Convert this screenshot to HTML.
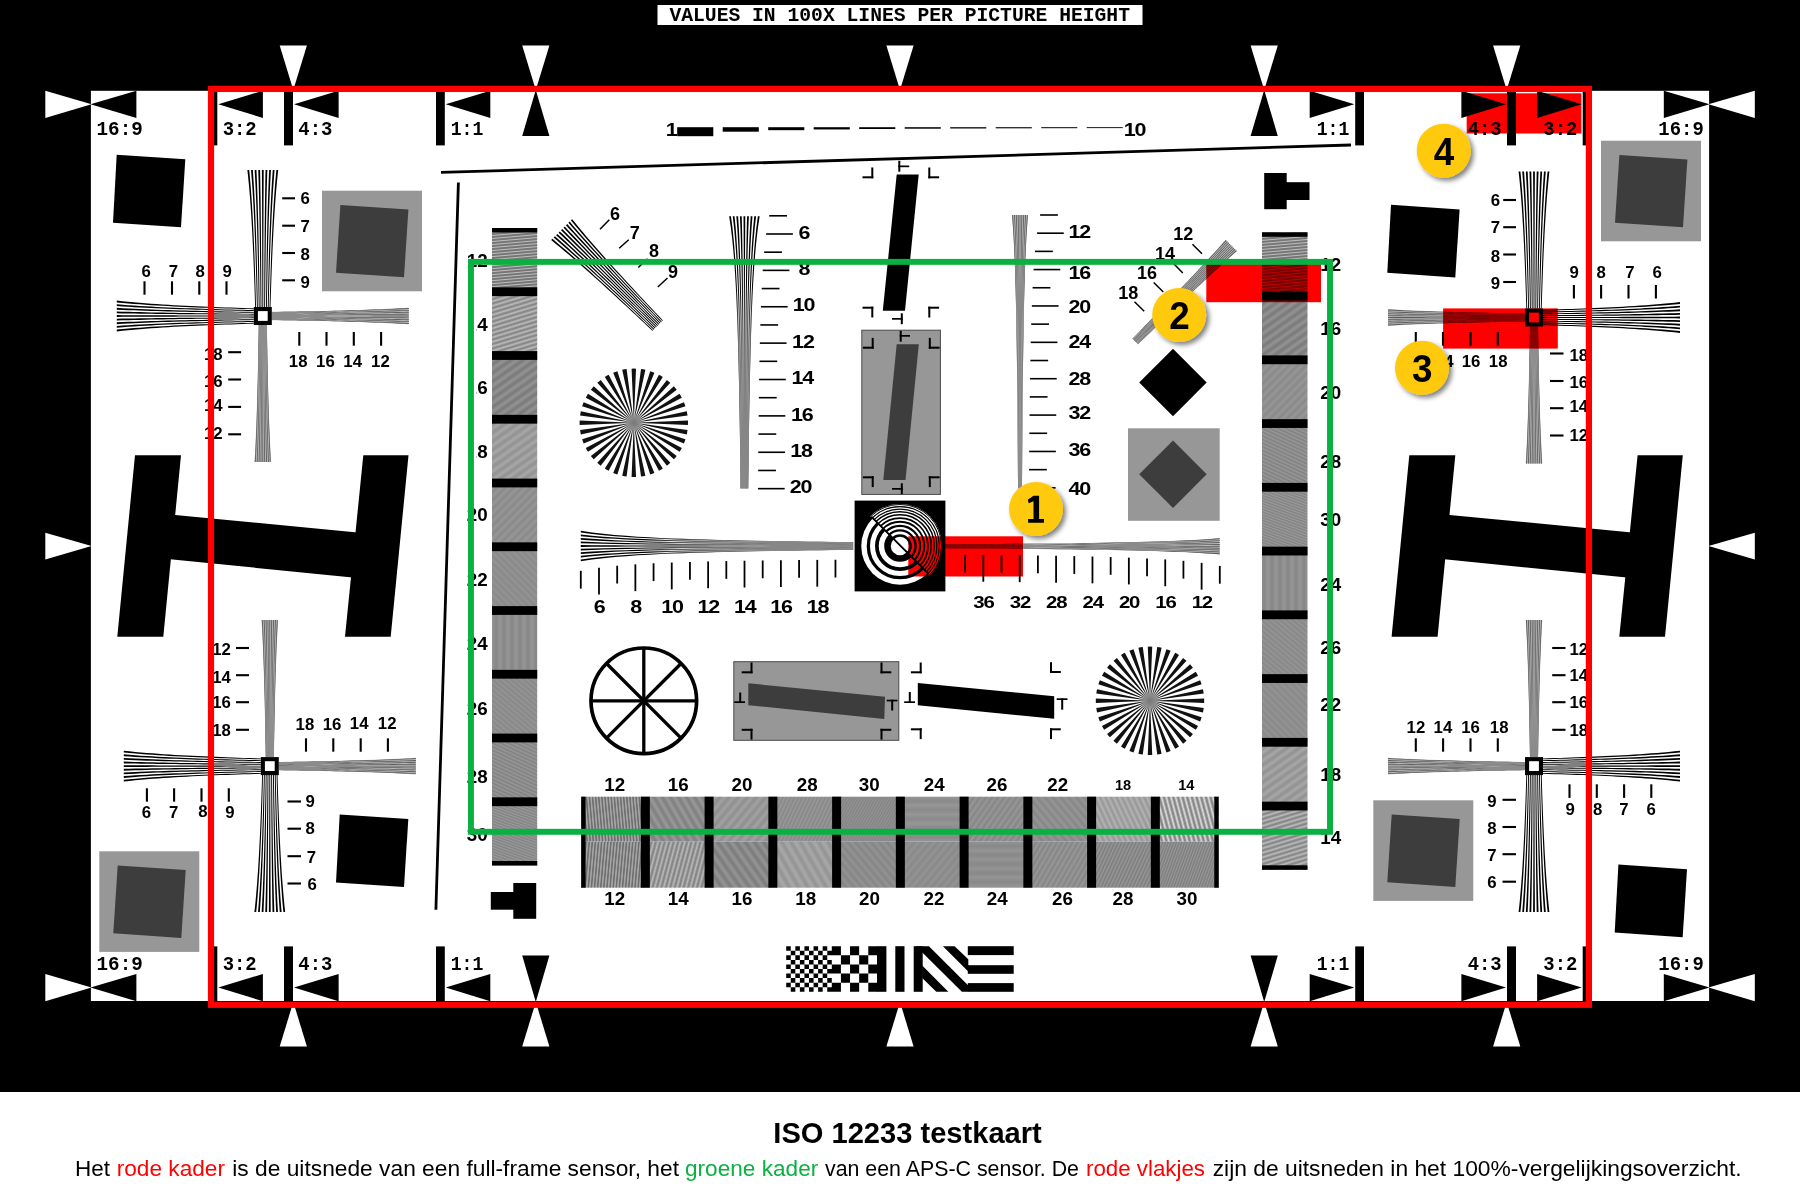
<!DOCTYPE html>
<html>
<head>
<meta charset="utf-8">
<title>ISO 12233 testkaart</title>
<style>
html,body{margin:0;padding:0;background:#fff;}
body{width:1800px;height:1200px;overflow:hidden;font-family:"Liberation Sans",sans-serif;}
svg{display:block;position:absolute;left:0;top:0;}
.n{font-family:"Liberation Sans",sans-serif;font-weight:bold;fill:#000;}
.m{font-family:"Liberation Mono",monospace;font-weight:bold;fill:#000;}
.c{font-family:"Liberation Sans",sans-serif;fill:#000;}
.mul{mix-blend-mode:multiply;}
</style>
</head>
<body>
<svg width="1800" height="1200" viewBox="0 0 1800 1200">
<defs>
<filter id="sh" x="-30%" y="-30%" width="170%" height="170%"><feGaussianBlur in="SourceAlpha" stdDeviation="2.6"/><feOffset dx="2.6" dy="2.6" result="o"/><feComponentTransfer><feFuncA type="linear" slope="0.5"/></feComponentTransfer><feMerge><feMergeNode/><feMergeNode in="SourceGraphic"/></feMerge></filter>
<radialGradient id="sc"><stop offset="0" stop-color="#777"/><stop offset="0.55" stop-color="#8c8c8c"/><stop offset="1" stop-color="#8c8c8c" stop-opacity="0"/></radialGradient>
<linearGradient id="gv" gradientUnits="userSpaceOnUse" x1="0" y1="216" x2="0" y2="489"><stop offset="0.3" stop-color="#000"/><stop offset="0.6" stop-color="#1c1c1c"/></linearGradient>
<linearGradient id="gh" gradientUnits="userSpaceOnUse" x1="580" y1="0" x2="854" y2="0"><stop offset="0.3" stop-color="#000"/><stop offset="0.6" stop-color="#1c1c1c"/></linearGradient>
<linearGradient id="ov" gradientUnits="userSpaceOnUse" x1="0" y1="216" x2="0" y2="489"><stop offset="0.25" stop-color="#858585" stop-opacity="0"/><stop offset="0.5" stop-color="#858585" stop-opacity="0.75"/><stop offset="1" stop-color="#858585" stop-opacity="0.85"/></linearGradient>
<linearGradient id="oh" gradientUnits="userSpaceOnUse" x1="580" y1="0" x2="854" y2="0"><stop offset="0.25" stop-color="#858585" stop-opacity="0"/><stop offset="0.5" stop-color="#858585" stop-opacity="0.75"/><stop offset="1" stop-color="#858585" stop-opacity="0.85"/></linearGradient>
<linearGradient id="gh12" x1="0" y1="0" x2="0" y2="1"><stop offset="0" stop-color="#525252"/><stop offset="0.5" stop-color="#bebebe"/><stop offset="1" stop-color="#525252"/></linearGradient>
<linearGradient id="gh14" x1="0" y1="0" x2="0" y2="1"><stop offset="0" stop-color="#7b7b7b"/><stop offset="0.5" stop-color="#bdbdbd"/><stop offset="1" stop-color="#7b7b7b"/></linearGradient>
<linearGradient id="gh16" x1="0" y1="0" x2="0" y2="1"><stop offset="0" stop-color="#787878"/><stop offset="0.5" stop-color="#949494"/><stop offset="1" stop-color="#787878"/></linearGradient>
<linearGradient id="gh18" x1="0" y1="0" x2="0" y2="1"><stop offset="0" stop-color="#909090"/><stop offset="0.5" stop-color="#a8a8a8"/><stop offset="1" stop-color="#909090"/></linearGradient>
<linearGradient id="gh20" x1="0" y1="0" x2="0" y2="1"><stop offset="0" stop-color="#888888"/><stop offset="0.5" stop-color="#989898"/><stop offset="1" stop-color="#888888"/></linearGradient>
<linearGradient id="gh22" x1="0" y1="0" x2="0" y2="1"><stop offset="0" stop-color="#888888"/><stop offset="0.5" stop-color="#949494"/><stop offset="1" stop-color="#888888"/></linearGradient>
<linearGradient id="gh24" x1="0" y1="0" x2="0" y2="1"><stop offset="0" stop-color="#868686"/><stop offset="0.5" stop-color="#969696"/><stop offset="1" stop-color="#868686"/></linearGradient>
<linearGradient id="gh26" x1="0" y1="0" x2="0" y2="1"><stop offset="0" stop-color="#858585"/><stop offset="0.5" stop-color="#979797"/><stop offset="1" stop-color="#858585"/></linearGradient>
<linearGradient id="gh28" x1="0" y1="0" x2="0" y2="1"><stop offset="0" stop-color="#7d7d7d"/><stop offset="0.5" stop-color="#9b9b9b"/><stop offset="1" stop-color="#7d7d7d"/></linearGradient>
<linearGradient id="gh30" x1="0" y1="0" x2="0" y2="1"><stop offset="0" stop-color="#7d7d7d"/><stop offset="0.5" stop-color="#9b9b9b"/><stop offset="1" stop-color="#7d7d7d"/></linearGradient>
<linearGradient id="gv12" x1="0" y1="0" x2="0" y2="1"><stop offset="0" stop-color="#545454"/><stop offset="0.5" stop-color="#c0c0c0"/><stop offset="1" stop-color="#545454"/></linearGradient>
<linearGradient id="gv14" x1="0" y1="0" x2="0" y2="1"><stop offset="0" stop-color="#797979"/><stop offset="0.5" stop-color="#bbbbbb"/><stop offset="1" stop-color="#797979"/></linearGradient>
<linearGradient id="gv16" x1="0" y1="0" x2="0" y2="1"><stop offset="0" stop-color="#7a7a7a"/><stop offset="0.5" stop-color="#969696"/><stop offset="1" stop-color="#7a7a7a"/></linearGradient>
<linearGradient id="gv18" x1="0" y1="0" x2="0" y2="1"><stop offset="0" stop-color="#929292"/><stop offset="0.5" stop-color="#aaaaaa"/><stop offset="1" stop-color="#929292"/></linearGradient>
<linearGradient id="gv20" x1="0" y1="0" x2="0" y2="1"><stop offset="0" stop-color="#848484"/><stop offset="0.5" stop-color="#949494"/><stop offset="1" stop-color="#848484"/></linearGradient>
<linearGradient id="gv22" x1="0" y1="0" x2="0" y2="1"><stop offset="0" stop-color="#888888"/><stop offset="0.5" stop-color="#949494"/><stop offset="1" stop-color="#888888"/></linearGradient>
<linearGradient id="gv24" x1="0" y1="0" x2="0" y2="1"><stop offset="0" stop-color="#888888"/><stop offset="0.5" stop-color="#949494"/><stop offset="1" stop-color="#888888"/></linearGradient>
<linearGradient id="gv26" x1="0" y1="0" x2="0" y2="1"><stop offset="0" stop-color="#848484"/><stop offset="0.5" stop-color="#989898"/><stop offset="1" stop-color="#848484"/></linearGradient>
<linearGradient id="gv28" x1="0" y1="0" x2="0" y2="1"><stop offset="0" stop-color="#787878"/><stop offset="0.5" stop-color="#9c9c9c"/><stop offset="1" stop-color="#787878"/></linearGradient>
<linearGradient id="gv30" x1="0" y1="0" x2="0" y2="1"><stop offset="0" stop-color="#767676"/><stop offset="0.5" stop-color="#9a9a9a"/><stop offset="1" stop-color="#767676"/></linearGradient>
<linearGradient id="gt12" x1="0" y1="0" x2="0" y2="1"><stop offset="0" stop-color="#545454"/><stop offset="0.5" stop-color="#c0c0c0"/><stop offset="1" stop-color="#545454"/></linearGradient>
<linearGradient id="gt16" x1="0" y1="0" x2="0" y2="1"><stop offset="0" stop-color="#7e7e7e"/><stop offset="0.5" stop-color="#9a9a9a"/><stop offset="1" stop-color="#7e7e7e"/></linearGradient>
<linearGradient id="gt20" x1="0" y1="0" x2="0" y2="1"><stop offset="0" stop-color="#8e8e8e"/><stop offset="0.5" stop-color="#a2a2a2"/><stop offset="1" stop-color="#8e8e8e"/></linearGradient>
<linearGradient id="gt28" x1="0" y1="0" x2="0" y2="1"><stop offset="0" stop-color="#848484"/><stop offset="0.5" stop-color="#9c9c9c"/><stop offset="1" stop-color="#848484"/></linearGradient>
<linearGradient id="gt30" x1="0" y1="0" x2="0" y2="1"><stop offset="0" stop-color="#808080"/><stop offset="0.5" stop-color="#949494"/><stop offset="1" stop-color="#808080"/></linearGradient>
<linearGradient id="gt24" x1="0" y1="0" x2="0" y2="1"><stop offset="0" stop-color="#8a8a8a"/><stop offset="0.5" stop-color="#969696"/><stop offset="1" stop-color="#8a8a8a"/></linearGradient>
<linearGradient id="gt26" x1="0" y1="0" x2="0" y2="1"><stop offset="0" stop-color="#858585"/><stop offset="0.5" stop-color="#979797"/><stop offset="1" stop-color="#858585"/></linearGradient>
<linearGradient id="gt22" x1="0" y1="0" x2="0" y2="1"><stop offset="0" stop-color="#858585"/><stop offset="0.5" stop-color="#979797"/><stop offset="1" stop-color="#858585"/></linearGradient>
<linearGradient id="gt18" x1="0" y1="0" x2="0" y2="1"><stop offset="0" stop-color="#949494"/><stop offset="0.5" stop-color="#b4b4b4"/><stop offset="1" stop-color="#949494"/></linearGradient>
<linearGradient id="gt14" x1="0" y1="0" x2="0" y2="1"><stop offset="0" stop-color="#727272"/><stop offset="0.5" stop-color="#dedede"/><stop offset="1" stop-color="#727272"/></linearGradient>
<pattern id="h12" width="18" height="3" patternUnits="userSpaceOnUse" patternTransform="rotate(-5)"><rect width="18" height="3" fill="url(#gh12)"/></pattern>
<pattern id="h14" width="25.8" height="4.3" patternUnits="userSpaceOnUse" patternTransform="rotate(-17)"><rect width="25.8" height="4.3" fill="url(#gh14)"/></pattern>
<pattern id="h16" width="42" height="7" patternUnits="userSpaceOnUse" patternTransform="rotate(-35)"><rect width="42" height="7" fill="url(#gh16)"/></pattern>
<pattern id="h18" width="42" height="7" patternUnits="userSpaceOnUse" patternTransform="rotate(-35)"><rect width="42" height="7" fill="url(#gh18)"/></pattern>
<pattern id="h20" width="36" height="6" patternUnits="userSpaceOnUse" patternTransform="rotate(-45)"><rect width="36" height="6" fill="url(#gh20)"/></pattern>
<pattern id="h22" width="30" height="5" patternUnits="userSpaceOnUse" patternTransform="rotate(45)"><rect width="30" height="5" fill="url(#gh22)"/></pattern>
<pattern id="h24" width="48" height="8" patternUnits="userSpaceOnUse" patternTransform="rotate(90)"><rect width="48" height="8" fill="url(#gh24)"/></pattern>
<pattern id="h26" width="24" height="4" patternUnits="userSpaceOnUse" patternTransform="rotate(40)"><rect width="24" height="4" fill="url(#gh26)"/></pattern>
<pattern id="h28" width="19.8" height="3.3" patternUnits="userSpaceOnUse" patternTransform="rotate(25)"><rect width="19.8" height="3.3" fill="url(#gh28)"/></pattern>
<pattern id="h30" width="15.6" height="2.6" patternUnits="userSpaceOnUse" patternTransform="rotate(20)"><rect width="15.6" height="2.6" fill="url(#gh30)"/></pattern>
<pattern id="v12" width="18.6" height="3.1" patternUnits="userSpaceOnUse" patternTransform="rotate(95)"><rect width="18.6" height="3.1" fill="url(#gv12)"/></pattern>
<pattern id="v14" width="25.8" height="4.3" patternUnits="userSpaceOnUse" patternTransform="rotate(105)"><rect width="25.8" height="4.3" fill="url(#gv14)"/></pattern>
<pattern id="v16" width="45" height="7.5" patternUnits="userSpaceOnUse" patternTransform="rotate(55)"><rect width="45" height="7.5" fill="url(#gv16)"/></pattern>
<pattern id="v18" width="48" height="8" patternUnits="userSpaceOnUse" patternTransform="rotate(60)"><rect width="48" height="8" fill="url(#gv18)"/></pattern>
<pattern id="v20" width="36" height="6" patternUnits="userSpaceOnUse" patternTransform="rotate(50)"><rect width="36" height="6" fill="url(#gv20)"/></pattern>
<pattern id="v22" width="36" height="6" patternUnits="userSpaceOnUse" patternTransform="rotate(130)"><rect width="36" height="6" fill="url(#gv22)"/></pattern>
<pattern id="v24" width="54" height="9" patternUnits="userSpaceOnUse" patternTransform="rotate(0)"><rect width="54" height="9" fill="url(#gv24)"/></pattern>
<pattern id="v26" width="27" height="4.5" patternUnits="userSpaceOnUse" patternTransform="rotate(120)"><rect width="27" height="4.5" fill="url(#gv26)"/></pattern>
<pattern id="v28" width="19.2" height="3.2" patternUnits="userSpaceOnUse" patternTransform="rotate(115)"><rect width="19.2" height="3.2" fill="url(#gv28)"/></pattern>
<pattern id="v30" width="15.6" height="2.6" patternUnits="userSpaceOnUse" patternTransform="rotate(110)"><rect width="15.6" height="2.6" fill="url(#gv30)"/></pattern>
<pattern id="t12" width="18.6" height="3.1" patternUnits="userSpaceOnUse" patternTransform="rotate(85)"><rect width="18.6" height="3.1" fill="url(#gt12)"/></pattern>
<pattern id="t16" width="42" height="7" patternUnits="userSpaceOnUse" patternTransform="rotate(60)"><rect width="42" height="7" fill="url(#gt16)"/></pattern>
<pattern id="t20" width="42" height="7" patternUnits="userSpaceOnUse" patternTransform="rotate(130)"><rect width="42" height="7" fill="url(#gt20)"/></pattern>
<pattern id="t28" width="21" height="3.5" patternUnits="userSpaceOnUse" patternTransform="rotate(115)"><rect width="21" height="3.5" fill="url(#gt28)"/></pattern>
<pattern id="t30" width="15" height="2.5" patternUnits="userSpaceOnUse" patternTransform="rotate(120)"><rect width="15" height="2.5" fill="url(#gt30)"/></pattern>
<pattern id="t24" width="54" height="9" patternUnits="userSpaceOnUse" patternTransform="rotate(0)"><rect width="54" height="9" fill="url(#gt24)"/></pattern>
<pattern id="t26" width="30" height="5" patternUnits="userSpaceOnUse" patternTransform="rotate(125)"><rect width="30" height="5" fill="url(#gt26)"/></pattern>
<pattern id="t22" width="36" height="6" patternUnits="userSpaceOnUse" patternTransform="rotate(50)"><rect width="36" height="6" fill="url(#gt22)"/></pattern>
<pattern id="t18" width="30" height="5" patternUnits="userSpaceOnUse" patternTransform="rotate(65)"><rect width="30" height="5" fill="url(#gt18)"/></pattern>
<pattern id="t14" width="27" height="4.5" patternUnits="userSpaceOnUse" patternTransform="rotate(75)"><rect width="27" height="4.5" fill="url(#gt14)"/></pattern>
</defs>
<rect x="0" y="0" width="1800" height="1092" fill="#000"/>
<rect x="90.9" y="90.8" width="1618.2" height="910.2" fill="#fff"/>
<rect x="657.5" y="5" width="485" height="20" fill="#fff"/>
<text x="669.4" y="21.4" font-size="20" text-anchor="start" class="m" textLength="460.6" lengthAdjust="spacingAndGlyphs">VALUES IN 100X LINES PER PICTURE HEIGHT</text>
<polygon points="279.7,45.5 306.9,45.5 293.3,90" fill="#fff"/>
<polygon points="279.7,1046.6 306.9,1046.6 293.3,1002" fill="#fff"/>
<polygon points="522.2,45.5 549.4,45.5 535.8,90" fill="#fff"/>
<polygon points="522.2,1046.6 549.4,1046.6 535.8,1002" fill="#fff"/>
<polygon points="886.4,45.5 913.6,45.5 900,90" fill="#fff"/>
<polygon points="886.4,1046.6 913.6,1046.6 900,1002" fill="#fff"/>
<polygon points="1250.6,45.5 1277.8,45.5 1264.2,90" fill="#fff"/>
<polygon points="1250.6,1046.6 1277.8,1046.6 1264.2,1002" fill="#fff"/>
<polygon points="1493.1,45.5 1520.3,45.5 1506.7,90" fill="#fff"/>
<polygon points="1493.1,1046.6 1520.3,1046.6 1506.7,1002" fill="#fff"/>
<polygon points="535.8,90 549.4,136 522.2,136" fill="#000"/>
<polygon points="535.8,1002 549.4,955.4 522.2,955.4" fill="#000"/>
<polygon points="1264.2,90 1277.8,136 1250.6,136" fill="#000"/>
<polygon points="1264.2,1002 1277.8,955.4 1250.6,955.4" fill="#000"/>
<polygon points="45.3,532.7 45.3,559.5 91.5,546.1" fill="#fff"/>
<polygon points="1754.8,532.7 1754.8,559.5 1708.5,546.1" fill="#fff"/>
<polygon points="45.3,90.7 45.3,117.9 91.5,104.3" fill="#fff"/>
<polygon points="136.4,90.7 136.4,117.9 90.5,104.3" fill="#000"/>
<polygon points="1754.8,90.7 1754.8,117.9 1708.5,104.3" fill="#fff"/>
<polygon points="1663.8,90.7 1663.8,117.9 1709.5,104.3" fill="#000"/>
<polygon points="45.3,974 45.3,1001.2 91.5,987.6" fill="#fff"/>
<polygon points="136.4,974 136.4,1001.2 90.5,987.6" fill="#000"/>
<polygon points="1754.8,974 1754.8,1001.2 1708.5,987.6" fill="#fff"/>
<polygon points="1663.8,974 1663.8,1001.2 1709.5,987.6" fill="#000"/>
<rect x="213.3" y="91" width="4" height="54.4" fill="#000"/>
<polygon points="218.3,104.3 262.9,90.7 262.9,117.9" fill="#000"/>
<text x="222.7" y="135.2" font-size="20" text-anchor="start" class="m" textLength="34" lengthAdjust="spacingAndGlyphs">3:2</text>
<rect x="1582.7" y="91" width="4" height="54.4" fill="#000"/>
<polygon points="1581.7,104.3 1537.1,90.7 1537.1,117.9" fill="#000"/>
<text x="1543.3" y="135.2" font-size="20" text-anchor="start" class="m" textLength="34" lengthAdjust="spacingAndGlyphs">3:2</text>
<rect x="213.3" y="946.4" width="4" height="54.6" fill="#000"/>
<polygon points="218.3,987.6 262.9,974 262.9,1001.2" fill="#000"/>
<text x="222.7" y="969.9" font-size="20" text-anchor="start" class="m" textLength="34" lengthAdjust="spacingAndGlyphs">3:2</text>
<rect x="1582.7" y="946.4" width="4" height="54.6" fill="#000"/>
<polygon points="1581.7,987.6 1537.1,974 1537.1,1001.2" fill="#000"/>
<text x="1543.3" y="969.9" font-size="20" text-anchor="start" class="m" textLength="34" lengthAdjust="spacingAndGlyphs">3:2</text>
<rect x="284" y="91" width="9" height="54.4" fill="#000"/>
<polygon points="294,104.3 338.6,90.7 338.6,117.9" fill="#000"/>
<text x="298.3" y="135.2" font-size="20" text-anchor="start" class="m" textLength="34" lengthAdjust="spacingAndGlyphs">4:3</text>
<rect x="1507" y="91" width="9" height="54.4" fill="#000"/>
<polygon points="1506,104.3 1461.4,90.7 1461.4,117.9" fill="#000"/>
<text x="1467.7" y="135.2" font-size="20" text-anchor="start" class="m" textLength="34" lengthAdjust="spacingAndGlyphs">4:3</text>
<rect x="284" y="946.4" width="9" height="54.6" fill="#000"/>
<polygon points="294,987.6 338.6,974 338.6,1001.2" fill="#000"/>
<text x="298.3" y="969.9" font-size="20" text-anchor="start" class="m" textLength="34" lengthAdjust="spacingAndGlyphs">4:3</text>
<rect x="1507" y="946.4" width="9" height="54.6" fill="#000"/>
<polygon points="1506,987.6 1461.4,974 1461.4,1001.2" fill="#000"/>
<text x="1467.7" y="969.9" font-size="20" text-anchor="start" class="m" textLength="34" lengthAdjust="spacingAndGlyphs">4:3</text>
<rect x="436" y="91" width="8.8" height="54.4" fill="#000"/>
<polygon points="445.7,104.3 490.3,90.7 490.3,117.9" fill="#000"/>
<text x="450.7" y="135.2" font-size="20" text-anchor="start" class="m" textLength="32.6" lengthAdjust="spacingAndGlyphs">1:1</text>
<rect x="1355.2" y="91" width="8.8" height="54.4" fill="#000"/>
<polygon points="1354.3,104.3 1309.7,90.7 1309.7,117.9" fill="#000"/>
<text x="1316.7" y="135.2" font-size="20" text-anchor="start" class="m" textLength="32.6" lengthAdjust="spacingAndGlyphs">1:1</text>
<rect x="436" y="946.4" width="8.8" height="54.6" fill="#000"/>
<polygon points="445.7,987.6 490.3,974 490.3,1001.2" fill="#000"/>
<text x="450.7" y="969.9" font-size="20" text-anchor="start" class="m" textLength="32.6" lengthAdjust="spacingAndGlyphs">1:1</text>
<rect x="1355.2" y="946.4" width="8.8" height="54.6" fill="#000"/>
<polygon points="1354.3,987.6 1309.7,974 1309.7,1001.2" fill="#000"/>
<text x="1316.7" y="969.9" font-size="20" text-anchor="start" class="m" textLength="32.6" lengthAdjust="spacingAndGlyphs">1:1</text>
<text x="96.5" y="135.2" font-size="20" text-anchor="start" class="m" textLength="46.3" lengthAdjust="spacingAndGlyphs">16:9</text>
<text x="1658.3" y="135.2" font-size="20" text-anchor="start" class="m" textLength="45.5" lengthAdjust="spacingAndGlyphs">16:9</text>
<text x="96.5" y="969.9" font-size="20" text-anchor="start" class="m" textLength="46.3" lengthAdjust="spacingAndGlyphs">16:9</text>
<text x="1658.3" y="969.9" font-size="20" text-anchor="start" class="m" textLength="45.5" lengthAdjust="spacingAndGlyphs">16:9</text>
<polygon points="135,455.3 181,455.3 163.3,636.7 117.3,636.7" fill="#000"/>
<polygon points="363.3,455.3 408.5,455.3 390.7,636.7 345,636.7" fill="#000"/>
<polygon points="172.7,514.7 360,532.7 355,577.7 167.7,559.1" fill="#000"/>
<polygon points="1409.3,455.3 1455.3,455.3 1437.6,636.7 1391.6,636.7" fill="#000"/>
<polygon points="1637.6,455.3 1682.8,455.3 1665,636.7 1619.3,636.7" fill="#000"/>
<polygon points="1447,514.7 1634.3,532.7 1629.3,577.7 1442,559.1" fill="#000"/>
<polygon points="116.7,154.7 185.3,159.3 181,227.3 113,222.7" fill="#000"/>
<polygon points="1391,204.8 1459.6,209.4 1455.3,277.4 1387.3,272.8" fill="#000"/>
<polygon points="339.7,814.5 408.3,819.1 404,887.1 336,882.5" fill="#000"/>
<polygon points="1618.4,864.6 1687,869.2 1682.7,937.2 1614.7,932.6" fill="#000"/>
<rect x="322" y="190.7" width="100" height="100.6" fill="#979797"/>
<polygon points="340.4,204.9 408.4,209.5 404,277.3 336,272.7" fill="#3d3d3d"/>
<rect x="1601" y="140.7" width="100" height="100.6" fill="#979797"/>
<polygon points="1619.4,154.9 1687.4,159.5 1683,227.3 1615,222.7" fill="#3d3d3d"/>
<rect x="99.3" y="851.3" width="100" height="100.6" fill="#979797"/>
<polygon points="117.7,865.5 185.7,870.1 181.3,937.9 113.3,933.3" fill="#3d3d3d"/>
<rect x="1373.3" y="800.3" width="100" height="100.6" fill="#979797"/>
<polygon points="1391.7,814.5 1459.7,819.1 1455.3,886.9 1387.3,882.3" fill="#3d3d3d"/>
<path d="M278.2,170L277.58,175.71L277.02,181.42L276.49,187.12L276,192.83L275.54,198.54L275.12,204.25L274.72,209.96L274.35,215.67L274,221.38L273.67,227.08L273.36,232.79L273.07,238.5L272.79,244.21L272.53,249.92L272.28,255.62L272.04,261.33L271.81,267.04L271.6,272.75L271.4,278.46L271.2,284.17L271.01,289.88L270.83,295.58L270.66,301.29L270.5,307L269.59,307L269.74,301.29L269.89,295.58L270.05,289.88L270.21,284.17L270.38,278.46L270.56,272.75L270.75,267.04L270.95,261.33L271.16,255.62L271.38,249.92L271.61,244.21L271.86,238.5L272.12,232.79L272.39,227.08L272.68,221.38L272.99,215.67L273.32,209.96L273.67,204.25L274.05,198.54L274.45,192.83L274.88,187.12L275.34,181.42L275.84,175.71L276.39,170ZM274.58,170L274.11,175.71L273.67,181.42L273.27,187.12L272.89,192.83L272.55,198.54L272.22,204.25L271.92,209.96L271.63,215.67L271.36,221.38L271.11,227.08L270.88,232.79L270.65,238.5L270.44,244.21L270.24,249.92L270.05,255.62L269.87,261.33L269.69,267.04L269.53,272.75L269.37,278.46L269.22,284.17L269.08,289.88L268.94,295.58L268.81,301.29L268.69,307L267.78,307L267.89,301.29L268,295.58L268.11,289.88L268.24,284.17L268.36,278.46L268.49,272.75L268.63,267.04L268.78,261.33L268.93,255.62L269.09,249.92L269.26,244.21L269.44,238.5L269.63,232.79L269.83,227.08L270.05,221.38L270.27,215.67L270.51,209.96L270.77,204.25L271.05,198.54L271.34,192.83L271.66,187.12L272,181.42L272.37,175.71L272.76,170ZM270.95,170L270.63,175.71L270.33,181.42L270.05,187.12L269.79,192.83L269.55,198.54L269.32,204.25L269.11,209.96L268.91,215.67L268.73,221.38L268.56,227.08L268.39,232.79L268.24,238.5L268.09,244.21L267.95,249.92L267.82,255.62L267.69,261.33L267.57,267.04L267.46,272.75L267.35,278.46L267.25,284.17L267.15,289.88L267.05,295.58L266.96,301.29L266.88,307L265.97,307L266.04,301.29L266.11,295.58L266.18,289.88L266.26,284.17L266.34,278.46L266.42,272.75L266.51,267.04L266.6,261.33L266.7,255.62L266.8,249.92L266.91,244.21L267.03,238.5L267.15,232.79L267.28,227.08L267.41,221.38L267.56,215.67L267.71,209.96L267.87,204.25L268.05,198.54L268.24,192.83L268.44,187.12L268.65,181.42L268.89,175.71L269.14,170ZM267.33,170L267.15,175.71L266.98,181.42L266.83,187.12L266.68,192.83L266.55,198.54L266.42,204.25L266.31,209.96L266.2,215.67L266.09,221.38L266,227.08L265.91,232.79L265.82,238.5L265.74,244.21L265.66,249.92L265.59,255.62L265.52,261.33L265.45,267.04L265.39,272.75L265.33,278.46L265.27,284.17L265.22,289.88L265.16,295.58L265.11,301.29L265.06,307L264.16,307L264.19,301.29L264.22,295.58L264.25,289.88L264.28,284.17L264.32,278.46L264.35,272.75L264.39,267.04L264.43,261.33L264.47,255.62L264.52,249.92L264.56,244.21L264.61,238.5L264.66,232.79L264.72,227.08L264.78,221.38L264.84,215.67L264.9,209.96L264.97,204.25L265.05,198.54L265.13,192.83L265.22,187.12L265.31,181.42L265.41,175.71L265.52,170ZM263.71,170L263.67,175.71L263.64,181.42L263.61,187.12L263.58,192.83L263.55,198.54L263.52,204.25L263.5,209.96L263.48,215.67L263.46,221.38L263.44,227.08L263.42,232.79L263.4,238.5L263.39,244.21L263.37,249.92L263.36,255.62L263.34,261.33L263.33,267.04L263.32,272.75L263.31,278.46L263.29,284.17L263.28,289.88L263.27,295.58L263.26,301.29L263.25,307L262.35,307L262.34,301.29L262.33,295.58L262.32,289.88L262.31,284.17L262.29,278.46L262.28,272.75L262.27,267.04L262.26,261.33L262.24,255.62L262.23,249.92L262.21,244.21L262.2,238.5L262.18,232.79L262.16,227.08L262.14,221.38L262.12,215.67L262.1,209.96L262.08,204.25L262.05,198.54L262.02,192.83L261.99,187.12L261.96,181.42L261.93,175.71L261.89,170ZM260.08,170L260.19,175.71L260.29,181.42L260.38,187.12L260.47,192.83L260.55,198.54L260.63,204.25L260.7,209.96L260.76,215.67L260.82,221.38L260.88,227.08L260.94,232.79L260.99,238.5L261.04,244.21L261.08,249.92L261.13,255.62L261.17,261.33L261.21,267.04L261.25,272.75L261.28,278.46L261.32,284.17L261.35,289.88L261.38,295.58L261.41,301.29L261.44,307L260.54,307L260.49,301.29L260.44,295.58L260.38,289.88L260.33,284.17L260.27,278.46L260.21,272.75L260.15,267.04L260.08,261.33L260.01,255.62L259.94,249.92L259.86,244.21L259.78,238.5L259.69,232.79L259.6,227.08L259.51,221.38L259.4,215.67L259.29,209.96L259.18,204.25L259.05,198.54L258.92,192.83L258.77,187.12L258.62,181.42L258.45,175.71L258.27,170ZM256.46,170L256.71,175.71L256.95,181.42L257.16,187.12L257.36,192.83L257.55,198.54L257.73,204.25L257.89,209.96L258.04,215.67L258.19,221.38L258.32,227.08L258.45,232.79L258.57,238.5L258.69,244.21L258.8,249.92L258.9,255.62L259,261.33L259.09,267.04L259.18,272.75L259.26,278.46L259.34,284.17L259.42,289.88L259.49,295.58L259.56,301.29L259.63,307L258.72,307L258.64,301.29L258.55,295.58L258.45,289.88L258.35,284.17L258.25,278.46L258.14,272.75L258.03,267.04L257.91,261.33L257.78,255.62L257.65,249.92L257.51,244.21L257.36,238.5L257.21,232.79L257.04,227.08L256.87,221.38L256.69,215.67L256.49,209.96L256.28,204.25L256.05,198.54L255.81,192.83L255.55,187.12L255.27,181.42L254.97,175.71L254.65,170ZM252.84,170L253.23,175.71L253.6,181.42L253.94,187.12L254.26,192.83L254.55,198.54L254.83,204.25L255.09,209.96L255.33,215.67L255.55,221.38L255.77,227.08L255.97,232.79L256.16,238.5L256.34,244.21L256.51,249.92L256.67,255.62L256.82,261.33L256.97,267.04L257.11,272.75L257.24,278.46L257.36,284.17L257.49,289.88L257.6,295.58L257.71,301.29L257.82,307L256.91,307L256.79,301.29L256.66,295.58L256.52,289.88L256.38,284.17L256.23,278.46L256.07,272.75L255.91,267.04L255.73,261.33L255.55,255.62L255.36,249.92L255.16,244.21L254.95,238.5L254.72,232.79L254.49,227.08L254.24,221.38L253.97,215.67L253.68,209.96L253.38,204.25L253.05,198.54L252.71,192.83L252.33,187.12L251.93,181.42L251.49,175.71L251.02,170ZM249.21,170L249.76,175.71L250.26,181.42L250.72,187.12L251.15,192.83L251.55,198.54L251.93,204.25L252.28,209.96L252.61,215.67L252.92,221.38L253.21,227.08L253.48,232.79L253.74,238.5L253.99,244.21L254.22,249.92L254.44,255.62L254.65,261.33L254.85,267.04L255.04,272.75L255.22,278.46L255.39,284.17L255.55,289.88L255.71,295.58L255.86,301.29L256.01,307L255.1,307L254.94,301.29L254.77,295.58L254.59,289.88L254.4,284.17L254.2,278.46L254,272.75L253.79,267.04L253.56,261.33L253.32,255.62L253.07,249.92L252.81,244.21L252.53,238.5L252.24,232.79L251.93,227.08L251.6,221.38L251.25,215.67L250.88,209.96L250.48,204.25L250.06,198.54L249.6,192.83L249.11,187.12L248.58,181.42L248.02,175.71L247.4,170Z" fill="#000"/>
<path d="M116.8,300.6L122.51,301.22L128.22,301.78L133.93,302.31L139.63,302.8L145.34,303.26L151.05,303.68L156.76,304.08L162.47,304.45L168.18,304.8L173.88,305.13L179.59,305.44L185.3,305.73L191.01,306.01L196.72,306.27L202.43,306.52L208.13,306.76L213.84,306.99L219.55,307.2L225.26,307.4L230.97,307.6L236.68,307.79L242.38,307.97L248.09,308.14L253.8,308.3L253.8,309.21L248.09,309.06L242.38,308.91L236.68,308.75L230.97,308.59L225.26,308.42L219.55,308.24L213.84,308.05L208.13,307.85L202.43,307.64L196.72,307.42L191.01,307.19L185.3,306.94L179.59,306.68L173.88,306.41L168.18,306.12L162.47,305.81L156.76,305.48L151.05,305.13L145.34,304.75L139.63,304.35L133.93,303.92L128.22,303.46L122.51,302.96L116.8,302.41ZM116.8,304.22L122.51,304.69L128.22,305.13L133.93,305.53L139.63,305.91L145.34,306.25L151.05,306.58L156.76,306.88L162.47,307.17L168.18,307.44L173.88,307.69L179.59,307.92L185.3,308.15L191.01,308.36L196.72,308.56L202.43,308.75L208.13,308.93L213.84,309.11L219.55,309.27L225.26,309.43L230.97,309.58L236.68,309.72L242.38,309.86L248.09,309.99L253.8,310.11L253.8,311.02L248.09,310.91L242.38,310.8L236.68,310.69L230.97,310.56L225.26,310.44L219.55,310.31L213.84,310.17L208.13,310.02L202.43,309.87L196.72,309.71L191.01,309.54L185.3,309.36L179.59,309.17L173.88,308.97L168.18,308.75L162.47,308.53L156.76,308.29L151.05,308.03L145.34,307.75L139.63,307.46L133.93,307.14L128.22,306.8L122.51,306.43L116.8,306.04ZM116.8,307.85L122.51,308.17L128.22,308.47L133.93,308.75L139.63,309.01L145.34,309.25L151.05,309.48L156.76,309.69L162.47,309.89L168.18,310.07L173.88,310.24L179.59,310.41L185.3,310.56L191.01,310.71L196.72,310.85L202.43,310.98L208.13,311.11L213.84,311.23L219.55,311.34L225.26,311.45L230.97,311.55L236.68,311.65L242.38,311.75L248.09,311.84L253.8,311.92L253.8,312.83L248.09,312.76L242.38,312.69L236.68,312.62L230.97,312.54L225.26,312.46L219.55,312.38L213.84,312.29L208.13,312.2L202.43,312.1L196.72,312L191.01,311.89L185.3,311.77L179.59,311.65L173.88,311.52L168.18,311.39L162.47,311.24L156.76,311.09L151.05,310.93L145.34,310.75L139.63,310.56L133.93,310.36L128.22,310.15L122.51,309.91L116.8,309.66ZM116.8,311.47L122.51,311.65L128.22,311.82L133.93,311.97L139.63,312.12L145.34,312.25L151.05,312.38L156.76,312.49L162.47,312.6L168.18,312.71L173.88,312.8L179.59,312.89L185.3,312.98L191.01,313.06L196.72,313.14L202.43,313.21L208.13,313.28L213.84,313.35L219.55,313.41L225.26,313.47L230.97,313.53L236.68,313.58L242.38,313.64L248.09,313.69L253.8,313.74L253.8,314.64L248.09,314.61L242.38,314.58L236.68,314.55L230.97,314.52L225.26,314.48L219.55,314.45L213.84,314.41L208.13,314.37L202.43,314.33L196.72,314.28L191.01,314.24L185.3,314.19L179.59,314.14L173.88,314.08L168.18,314.02L162.47,313.96L156.76,313.9L151.05,313.83L145.34,313.75L139.63,313.67L133.93,313.58L128.22,313.49L122.51,313.39L116.8,313.28ZM116.8,315.09L122.51,315.13L128.22,315.16L133.93,315.19L139.63,315.22L145.34,315.25L151.05,315.28L156.76,315.3L162.47,315.32L168.18,315.34L173.88,315.36L179.59,315.38L185.3,315.4L191.01,315.41L196.72,315.43L202.43,315.44L208.13,315.46L213.84,315.47L219.55,315.48L225.26,315.49L230.97,315.51L236.68,315.52L242.38,315.53L248.09,315.54L253.8,315.55L253.8,316.45L248.09,316.46L242.38,316.47L236.68,316.48L230.97,316.49L225.26,316.51L219.55,316.52L213.84,316.53L208.13,316.54L202.43,316.56L196.72,316.57L191.01,316.59L185.3,316.6L179.59,316.62L173.88,316.64L168.18,316.66L162.47,316.68L156.76,316.7L151.05,316.72L145.34,316.75L139.63,316.78L133.93,316.81L128.22,316.84L122.51,316.87L116.8,316.91ZM116.8,318.72L122.51,318.61L128.22,318.51L133.93,318.42L139.63,318.33L145.34,318.25L151.05,318.17L156.76,318.1L162.47,318.04L168.18,317.98L173.88,317.92L179.59,317.86L185.3,317.81L191.01,317.76L196.72,317.72L202.43,317.67L208.13,317.63L213.84,317.59L219.55,317.55L225.26,317.52L230.97,317.48L236.68,317.45L242.38,317.42L248.09,317.39L253.8,317.36L253.8,318.26L248.09,318.31L242.38,318.36L236.68,318.42L230.97,318.47L225.26,318.53L219.55,318.59L213.84,318.65L208.13,318.72L202.43,318.79L196.72,318.86L191.01,318.94L185.3,319.02L179.59,319.11L173.88,319.2L168.18,319.29L162.47,319.4L156.76,319.51L151.05,319.62L145.34,319.75L139.63,319.88L133.93,320.03L128.22,320.18L122.51,320.35L116.8,320.53ZM116.8,322.34L122.51,322.09L128.22,321.85L133.93,321.64L139.63,321.44L145.34,321.25L151.05,321.07L156.76,320.91L162.47,320.76L168.18,320.61L173.88,320.48L179.59,320.35L185.3,320.23L191.01,320.11L196.72,320L202.43,319.9L208.13,319.8L213.84,319.71L219.55,319.62L225.26,319.54L230.97,319.46L236.68,319.38L242.38,319.31L248.09,319.24L253.8,319.17L253.8,320.08L248.09,320.16L242.38,320.25L236.68,320.35L230.97,320.45L225.26,320.55L219.55,320.66L213.84,320.77L208.13,320.89L202.43,321.02L196.72,321.15L191.01,321.29L185.3,321.44L179.59,321.59L173.88,321.76L168.18,321.93L162.47,322.11L156.76,322.31L151.05,322.52L145.34,322.75L139.63,322.99L133.93,323.25L128.22,323.53L122.51,323.83L116.8,324.15ZM116.8,325.96L122.51,325.57L128.22,325.2L133.93,324.86L139.63,324.54L145.34,324.25L151.05,323.97L156.76,323.71L162.47,323.47L168.18,323.25L173.88,323.03L179.59,322.83L185.3,322.64L191.01,322.46L196.72,322.29L202.43,322.13L208.13,321.98L213.84,321.83L219.55,321.69L225.26,321.56L230.97,321.44L236.68,321.31L242.38,321.2L248.09,321.09L253.8,320.98L253.8,321.89L248.09,322.01L242.38,322.14L236.68,322.28L230.97,322.42L225.26,322.57L219.55,322.73L213.84,322.89L208.13,323.07L202.43,323.25L196.72,323.44L191.01,323.64L185.3,323.85L179.59,324.08L173.88,324.31L168.18,324.56L162.47,324.83L156.76,325.12L151.05,325.42L145.34,325.75L139.63,326.09L133.93,326.47L128.22,326.87L122.51,327.31L116.8,327.78ZM116.8,329.59L122.51,329.04L128.22,328.54L133.93,328.08L139.63,327.65L145.34,327.25L151.05,326.87L156.76,326.52L162.47,326.19L168.18,325.88L173.88,325.59L179.59,325.32L185.3,325.06L191.01,324.81L196.72,324.58L202.43,324.36L208.13,324.15L213.84,323.95L219.55,323.76L225.26,323.58L230.97,323.41L236.68,323.25L242.38,323.09L248.09,322.94L253.8,322.79L253.8,323.7L248.09,323.86L242.38,324.03L236.68,324.21L230.97,324.4L225.26,324.6L219.55,324.8L213.84,325.01L208.13,325.24L202.43,325.48L196.72,325.73L191.01,325.99L185.3,326.27L179.59,326.56L173.88,326.87L168.18,327.2L162.47,327.55L156.76,327.92L151.05,328.32L145.34,328.74L139.63,329.2L133.93,329.69L128.22,330.22L122.51,330.78L116.8,331.4Z" fill="#000"/>
<path d="M408.8,324L403.09,323.68L397.38,323.38L391.68,323.11L385.97,322.86L380.26,322.62L374.55,322.4L368.84,322.19L363.13,322L357.43,321.82L351.72,321.65L346.01,321.49L340.3,321.33L334.59,321.19L328.88,321.05L323.18,320.92L317.47,320.8L311.76,320.68L306.05,320.57L300.34,320.47L294.63,320.36L288.93,320.27L283.22,320.17L277.51,320.09L271.8,320L271.8,319.53L277.51,319.6L283.22,319.68L288.93,319.76L294.63,319.85L300.34,319.94L306.05,320.03L311.76,320.13L317.47,320.24L323.18,320.34L328.88,320.46L334.59,320.58L340.3,320.71L346.01,320.84L351.72,320.98L357.43,321.13L363.13,321.29L368.84,321.46L374.55,321.65L380.26,321.84L385.97,322.05L391.68,322.27L397.38,322.52L403.09,322.78L408.8,323.06ZM408.8,322.12L403.09,321.87L397.38,321.65L391.68,321.44L385.97,321.24L380.26,321.06L374.55,320.89L368.84,320.74L363.13,320.59L357.43,320.45L351.72,320.32L346.01,320.19L340.3,320.08L334.59,319.97L328.88,319.86L323.18,319.76L317.47,319.67L311.76,319.58L306.05,319.5L300.34,319.41L294.63,319.34L288.93,319.26L283.22,319.19L277.51,319.12L271.8,319.06L271.8,318.59L277.51,318.64L283.22,318.7L288.93,318.76L294.63,318.82L300.34,318.89L306.05,318.96L311.76,319.03L317.47,319.11L323.18,319.19L328.88,319.27L334.59,319.36L340.3,319.45L346.01,319.55L351.72,319.65L357.43,319.76L363.13,319.88L368.84,320.01L374.55,320.14L380.26,320.28L385.97,320.44L391.68,320.6L397.38,320.78L403.09,320.97L408.8,321.18ZM408.8,320.24L403.09,320.07L397.38,319.91L391.68,319.76L385.97,319.63L380.26,319.51L374.55,319.39L368.84,319.28L363.13,319.18L357.43,319.08L351.72,318.99L346.01,318.9L340.3,318.82L334.59,318.75L328.88,318.67L323.18,318.61L317.47,318.54L311.76,318.48L306.05,318.42L300.34,318.36L294.63,318.31L288.93,318.26L283.22,318.21L277.51,318.16L271.8,318.12L271.8,317.65L277.51,317.68L283.22,317.72L288.93,317.76L294.63,317.8L300.34,317.84L306.05,317.88L311.76,317.93L317.47,317.98L323.18,318.03L328.88,318.08L334.59,318.14L340.3,318.2L346.01,318.26L351.72,318.33L357.43,318.4L363.13,318.47L368.84,318.55L374.55,318.64L380.26,318.73L385.97,318.82L391.68,318.93L397.38,319.04L403.09,319.16L408.8,319.29ZM408.8,318.35L403.09,318.26L397.38,318.17L391.68,318.09L385.97,318.02L380.26,317.95L374.55,317.88L368.84,317.82L363.13,317.76L357.43,317.71L351.72,317.66L346.01,317.61L340.3,317.57L334.59,317.53L328.88,317.49L323.18,317.45L317.47,317.41L311.76,317.38L306.05,317.34L300.34,317.31L294.63,317.28L288.93,317.25L283.22,317.23L277.51,317.2L271.8,317.18L271.8,316.71L277.51,316.72L283.22,316.74L288.93,316.75L294.63,316.77L300.34,316.79L306.05,316.81L311.76,316.83L317.47,316.85L323.18,316.87L328.88,316.89L334.59,316.92L340.3,316.94L346.01,316.97L351.72,317L357.43,317.03L363.13,317.06L368.84,317.09L374.55,317.13L380.26,317.17L385.97,317.21L391.68,317.25L397.38,317.3L403.09,317.36L408.8,317.41ZM408.8,316.47L403.09,316.45L397.38,316.43L391.68,316.42L385.97,316.4L380.26,316.39L374.55,316.38L368.84,316.36L363.13,316.35L357.43,316.34L351.72,316.33L346.01,316.32L340.3,316.31L334.59,316.31L328.88,316.3L323.18,316.29L317.47,316.28L311.76,316.28L306.05,316.27L300.34,316.26L294.63,316.26L288.93,316.25L283.22,316.25L277.51,316.24L271.8,316.24L271.8,315.76L277.51,315.76L283.22,315.75L288.93,315.75L294.63,315.74L300.34,315.74L306.05,315.73L311.76,315.72L317.47,315.72L323.18,315.71L328.88,315.7L334.59,315.69L340.3,315.69L346.01,315.68L351.72,315.67L357.43,315.66L363.13,315.65L368.84,315.64L374.55,315.62L380.26,315.61L385.97,315.6L391.68,315.58L397.38,315.57L403.09,315.55L408.8,315.53ZM408.8,314.59L403.09,314.64L397.38,314.7L391.68,314.75L385.97,314.79L380.26,314.83L374.55,314.87L368.84,314.91L363.13,314.94L357.43,314.97L351.72,315L346.01,315.03L340.3,315.06L334.59,315.08L328.88,315.11L323.18,315.13L317.47,315.15L311.76,315.17L306.05,315.19L300.34,315.21L294.63,315.23L288.93,315.25L283.22,315.26L277.51,315.28L271.8,315.29L271.8,314.82L277.51,314.8L283.22,314.77L288.93,314.75L294.63,314.72L300.34,314.69L306.05,314.66L311.76,314.62L317.47,314.59L323.18,314.55L328.88,314.51L334.59,314.47L340.3,314.43L346.01,314.39L351.72,314.34L357.43,314.29L363.13,314.24L368.84,314.18L374.55,314.12L380.26,314.05L385.97,313.98L391.68,313.91L397.38,313.83L403.09,313.74L408.8,313.65ZM408.8,312.71L403.09,312.84L397.38,312.96L391.68,313.07L385.97,313.18L380.26,313.27L374.55,313.36L368.84,313.45L363.13,313.53L357.43,313.6L351.72,313.67L346.01,313.74L340.3,313.8L334.59,313.86L328.88,313.92L323.18,313.97L317.47,314.02L311.76,314.07L306.05,314.12L300.34,314.16L294.63,314.2L288.93,314.24L283.22,314.28L277.51,314.32L271.8,314.35L271.8,313.88L277.51,313.84L283.22,313.79L288.93,313.74L294.63,313.69L300.34,313.64L306.05,313.58L311.76,313.52L317.47,313.46L323.18,313.39L328.88,313.33L334.59,313.25L340.3,313.18L346.01,313.1L351.72,313.01L357.43,312.92L363.13,312.82L368.84,312.72L374.55,312.61L380.26,312.49L385.97,312.37L391.68,312.24L397.38,312.09L403.09,311.93L408.8,311.76ZM408.8,310.82L403.09,311.03L397.38,311.22L391.68,311.4L385.97,311.56L380.26,311.72L374.55,311.86L368.84,311.99L363.13,312.12L357.43,312.24L351.72,312.35L346.01,312.45L340.3,312.55L334.59,312.64L328.88,312.73L323.18,312.81L317.47,312.89L311.76,312.97L306.05,313.04L300.34,313.11L294.63,313.18L288.93,313.24L283.22,313.3L277.51,313.36L271.8,313.41L271.8,312.94L277.51,312.88L283.22,312.81L288.93,312.74L294.63,312.66L300.34,312.59L306.05,312.5L311.76,312.42L317.47,312.33L323.18,312.24L328.88,312.14L334.59,312.03L340.3,311.92L346.01,311.81L351.72,311.68L357.43,311.55L363.13,311.41L368.84,311.26L374.55,311.11L380.26,310.94L385.97,310.76L391.68,310.56L397.38,310.35L403.09,310.13L408.8,309.88ZM408.8,308.94L403.09,309.22L397.38,309.48L391.68,309.73L385.97,309.95L380.26,310.16L374.55,310.35L368.84,310.54L363.13,310.71L357.43,310.87L351.72,311.02L346.01,311.16L340.3,311.29L334.59,311.42L328.88,311.54L323.18,311.66L317.47,311.76L311.76,311.87L306.05,311.97L300.34,312.06L294.63,312.15L288.93,312.24L283.22,312.32L277.51,312.4L271.8,312.47L271.8,312L277.51,311.91L283.22,311.83L288.93,311.73L294.63,311.64L300.34,311.53L306.05,311.43L311.76,311.32L317.47,311.2L323.18,311.08L328.88,310.95L334.59,310.81L340.3,310.67L346.01,310.51L351.72,310.35L357.43,310.18L363.13,310L368.84,309.81L374.55,309.6L380.26,309.38L385.97,309.14L391.68,308.89L397.38,308.62L403.09,308.32L408.8,308Z" fill="#1c1c1c"/>
<polygon points="408.8,324.3 400.24,323.81 391.68,323.38 383.11,322.99 374.55,322.64 365.99,322.32 357.43,322.04 348.86,321.77 340.3,321.53 331.74,321.31 323.18,321.11 314.61,320.92 306.05,320.74 297.49,320.58 288.93,320.43 280.36,320.28 271.8,320.15 271.8,311.85 280.36,311.72 288.93,311.57 297.49,311.42 306.05,311.26 314.61,311.08 323.18,310.89 331.74,310.69 340.3,310.47 348.86,310.23 357.43,309.96 365.99,309.68 374.55,309.36 383.11,309.01 391.68,308.62 400.24,308.19 408.8,307.7" fill="#8b8b8b" fill-opacity="0.6"/>
<path d="M254.8,462L255.12,456.29L255.42,450.58L255.69,444.88L255.94,439.17L256.18,433.46L256.4,427.75L256.61,422.04L256.8,416.33L256.98,410.62L257.15,404.92L257.31,399.21L257.47,393.5L257.61,387.79L257.75,382.08L257.88,376.38L258,370.67L258.12,364.96L258.23,359.25L258.33,353.54L258.44,347.83L258.53,342.12L258.63,336.42L258.71,330.71L258.8,325L259.27,325L259.2,330.71L259.12,336.42L259.04,342.12L258.95,347.83L258.86,353.54L258.77,359.25L258.67,364.96L258.56,370.67L258.46,376.38L258.34,382.08L258.22,387.79L258.09,393.5L257.96,399.21L257.82,404.92L257.67,410.62L257.51,416.33L257.34,422.04L257.15,427.75L256.96,433.46L256.75,439.17L256.53,444.88L256.28,450.58L256.02,456.29L255.74,462ZM256.68,462L256.93,456.29L257.15,450.58L257.36,444.88L257.56,439.17L257.74,433.46L257.91,427.75L258.06,422.04L258.21,416.33L258.35,410.62L258.48,404.92L258.61,399.21L258.72,393.5L258.83,387.79L258.94,382.08L259.04,376.38L259.13,370.67L259.22,364.96L259.3,359.25L259.39,353.54L259.46,347.83L259.54,342.12L259.61,336.42L259.68,330.71L259.74,325L260.21,325L260.16,330.71L260.1,336.42L260.04,342.12L259.98,347.83L259.91,353.54L259.84,359.25L259.77,364.96L259.69,370.67L259.61,376.38L259.53,382.08L259.44,387.79L259.35,393.5L259.25,399.21L259.15,404.92L259.04,410.62L258.92,416.33L258.79,422.04L258.66,427.75L258.52,433.46L258.36,439.17L258.2,444.88L258.02,450.58L257.83,456.29L257.62,462ZM258.56,462L258.73,456.29L258.89,450.58L259.04,444.88L259.17,439.17L259.29,433.46L259.41,427.75L259.52,422.04L259.62,416.33L259.72,410.62L259.81,404.92L259.9,399.21L259.98,393.5L260.05,387.79L260.13,382.08L260.19,376.38L260.26,370.67L260.32,364.96L260.38,359.25L260.44,353.54L260.49,347.83L260.54,342.12L260.59,336.42L260.64,330.71L260.68,325L261.15,325L261.12,330.71L261.08,336.42L261.04,342.12L261,347.83L260.96,353.54L260.92,359.25L260.87,364.96L260.82,370.67L260.77,376.38L260.72,382.08L260.66,387.79L260.6,393.5L260.54,399.21L260.47,404.92L260.4,410.62L260.33,416.33L260.25,422.04L260.16,427.75L260.07,433.46L259.98,439.17L259.87,444.88L259.76,450.58L259.64,456.29L259.51,462ZM260.45,462L260.54,456.29L260.63,450.58L260.71,444.88L260.78,439.17L260.85,433.46L260.92,427.75L260.98,422.04L261.04,416.33L261.09,410.62L261.14,404.92L261.19,399.21L261.23,393.5L261.27,387.79L261.31,382.08L261.35,376.38L261.39,370.67L261.42,364.96L261.46,359.25L261.49,353.54L261.52,347.83L261.55,342.12L261.57,336.42L261.6,330.71L261.62,325L262.09,325L262.08,330.71L262.06,336.42L262.05,342.12L262.03,347.83L262.01,353.54L261.99,359.25L261.97,364.96L261.95,370.67L261.93,376.38L261.91,382.08L261.88,387.79L261.86,393.5L261.83,399.21L261.8,404.92L261.77,410.62L261.74,416.33L261.71,422.04L261.67,427.75L261.63,433.46L261.59,439.17L261.55,444.88L261.5,450.58L261.44,456.29L261.39,462ZM262.33,462L262.35,456.29L262.37,450.58L262.38,444.88L262.4,439.17L262.41,433.46L262.42,427.75L262.44,422.04L262.45,416.33L262.46,410.62L262.47,404.92L262.48,399.21L262.49,393.5L262.49,387.79L262.5,382.08L262.51,376.38L262.52,370.67L262.52,364.96L262.53,359.25L262.54,353.54L262.54,347.83L262.55,342.12L262.55,336.42L262.56,330.71L262.56,325L263.04,325L263.04,330.71L263.05,336.42L263.05,342.12L263.06,347.83L263.06,353.54L263.07,359.25L263.08,364.96L263.08,370.67L263.09,376.38L263.1,382.08L263.11,387.79L263.11,393.5L263.12,399.21L263.13,404.92L263.14,410.62L263.15,416.33L263.16,422.04L263.18,427.75L263.19,433.46L263.2,439.17L263.22,444.88L263.23,450.58L263.25,456.29L263.27,462ZM264.21,462L264.16,456.29L264.1,450.58L264.05,444.88L264.01,439.17L263.97,433.46L263.93,427.75L263.89,422.04L263.86,416.33L263.83,410.62L263.8,404.92L263.77,399.21L263.74,393.5L263.72,387.79L263.69,382.08L263.67,376.38L263.65,370.67L263.63,364.96L263.61,359.25L263.59,353.54L263.57,347.83L263.55,342.12L263.54,336.42L263.52,330.71L263.51,325L263.98,325L264,330.71L264.03,336.42L264.05,342.12L264.08,347.83L264.11,353.54L264.14,359.25L264.18,364.96L264.21,370.67L264.25,376.38L264.29,382.08L264.33,387.79L264.37,393.5L264.41,399.21L264.46,404.92L264.51,410.62L264.56,416.33L264.62,422.04L264.68,427.75L264.75,433.46L264.82,439.17L264.89,444.88L264.97,450.58L265.06,456.29L265.15,462ZM266.09,462L265.96,456.29L265.84,450.58L265.73,444.88L265.62,439.17L265.53,433.46L265.44,427.75L265.35,422.04L265.27,416.33L265.2,410.62L265.13,404.92L265.06,399.21L265,393.5L264.94,387.79L264.88,382.08L264.83,376.38L264.78,370.67L264.73,364.96L264.68,359.25L264.64,353.54L264.6,347.83L264.56,342.12L264.52,336.42L264.48,330.71L264.45,325L264.92,325L264.96,330.71L265.01,336.42L265.06,342.12L265.11,347.83L265.16,353.54L265.22,359.25L265.28,364.96L265.34,370.67L265.41,376.38L265.47,382.08L265.55,387.79L265.62,393.5L265.7,399.21L265.79,404.92L265.88,410.62L265.98,416.33L266.08,422.04L266.19,427.75L266.31,433.46L266.43,439.17L266.56,444.88L266.71,450.58L266.87,456.29L267.04,462ZM267.98,462L267.77,456.29L267.58,450.58L267.4,444.88L267.24,439.17L267.08,433.46L266.94,427.75L266.81,422.04L266.68,416.33L266.56,410.62L266.45,404.92L266.35,399.21L266.25,393.5L266.16,387.79L266.07,382.08L265.99,376.38L265.91,370.67L265.83,364.96L265.76,359.25L265.69,353.54L265.62,347.83L265.56,342.12L265.5,336.42L265.44,330.71L265.39,325L265.86,325L265.92,330.71L265.99,336.42L266.06,342.12L266.14,347.83L266.21,353.54L266.3,359.25L266.38,364.96L266.47,370.67L266.56,376.38L266.66,382.08L266.77,387.79L266.88,393.5L266.99,399.21L267.12,404.92L267.25,410.62L267.39,416.33L267.54,422.04L267.69,427.75L267.86,433.46L268.04,439.17L268.24,444.88L268.45,450.58L268.67,456.29L268.92,462ZM269.86,462L269.58,456.29L269.32,450.58L269.07,444.88L268.85,439.17L268.64,433.46L268.45,427.75L268.26,422.04L268.09,416.33L267.93,410.62L267.78,404.92L267.64,399.21L267.51,393.5L267.38,387.79L267.26,382.08L267.14,376.38L267.04,370.67L266.93,364.96L266.83,359.25L266.74,353.54L266.65,347.83L266.56,342.12L266.48,336.42L266.4,330.71L266.33,325L266.8,325L266.89,330.71L266.97,336.42L267.07,342.12L267.16,347.83L267.27,353.54L267.37,359.25L267.48,364.96L267.6,370.67L267.72,376.38L267.85,382.08L267.99,387.79L268.13,393.5L268.29,399.21L268.45,404.92L268.62,410.62L268.8,416.33L268.99,422.04L269.2,427.75L269.42,433.46L269.66,439.17L269.91,444.88L270.18,450.58L270.48,456.29L270.8,462Z" fill="#1c1c1c"/>
<polygon points="254.5,462 254.99,453.44 255.42,444.88 255.81,436.31 256.16,427.75 256.48,419.19 256.76,410.62 257.03,402.06 257.27,393.5 257.49,384.94 257.69,376.38 257.88,367.81 258.06,359.25 258.22,350.69 258.37,342.12 258.52,333.56 258.65,325 266.95,325 267.08,333.56 267.23,342.12 267.38,350.69 267.54,359.25 267.72,367.81 267.91,376.38 268.11,384.94 268.33,393.5 268.57,402.06 268.84,410.62 269.12,419.19 269.44,427.75 269.79,436.31 270.18,444.88 270.61,453.44 271.1,462" fill="#8b8b8b" fill-opacity="0.6"/>
<rect x="253.8" y="307" width="18" height="18" fill="#000"/>
<rect x="257.9" y="311.1" width="9.8" height="9.8" fill="#fff"/>
<line x1="282.2" y1="198.3" x2="295" y2="198.3" stroke="#000" stroke-width="2.1"/>
<text x="300.5" y="204.3" font-size="16.8" text-anchor="start" class="n">6</text>
<line x1="282.2" y1="225.7" x2="295" y2="225.7" stroke="#000" stroke-width="2.1"/>
<text x="300.5" y="232" font-size="16.8" text-anchor="start" class="n">7</text>
<line x1="282.2" y1="253" x2="295" y2="253" stroke="#000" stroke-width="2.1"/>
<text x="300.5" y="260.3" font-size="16.8" text-anchor="start" class="n">8</text>
<line x1="282.2" y1="280.3" x2="295" y2="280.3" stroke="#000" stroke-width="2.1"/>
<text x="300.5" y="287.8" font-size="16.8" text-anchor="start" class="n">9</text>
<line x1="144.5" y1="281.3" x2="144.5" y2="294.7" stroke="#000" stroke-width="2.1"/>
<text x="146.1" y="276.9" font-size="16.8" text-anchor="middle" class="n">6</text>
<line x1="172" y1="281.3" x2="172" y2="294.7" stroke="#000" stroke-width="2.1"/>
<text x="173.5" y="276.9" font-size="16.8" text-anchor="middle" class="n">7</text>
<line x1="199.3" y1="281.3" x2="199.3" y2="294.7" stroke="#000" stroke-width="2.1"/>
<text x="200.2" y="276.9" font-size="16.8" text-anchor="middle" class="n">8</text>
<line x1="226.5" y1="281.3" x2="226.5" y2="294.7" stroke="#000" stroke-width="2.1"/>
<text x="227.1" y="276.9" font-size="16.8" text-anchor="middle" class="n">9</text>
<line x1="299.3" y1="332" x2="299.3" y2="345.7" stroke="#000" stroke-width="2.1"/>
<text x="298.2" y="366.9" font-size="16.8" text-anchor="middle" class="n">18</text>
<line x1="326.5" y1="332" x2="326.5" y2="345.7" stroke="#000" stroke-width="2.1"/>
<text x="325.4" y="366.9" font-size="16.8" text-anchor="middle" class="n">16</text>
<line x1="353.8" y1="332" x2="353.8" y2="345.7" stroke="#000" stroke-width="2.1"/>
<text x="352.7" y="366.9" font-size="16.8" text-anchor="middle" class="n">14</text>
<line x1="381.1" y1="332" x2="381.1" y2="345.7" stroke="#000" stroke-width="2.1"/>
<text x="380.4" y="366.9" font-size="16.8" text-anchor="middle" class="n">12</text>
<line x1="228.2" y1="352.2" x2="241.1" y2="352.2" stroke="#000" stroke-width="2.1"/>
<text x="222.6" y="360.1" font-size="16.8" text-anchor="end" class="n">18</text>
<line x1="228.2" y1="379.5" x2="241.1" y2="379.5" stroke="#000" stroke-width="2.1"/>
<text x="222.6" y="387.2" font-size="16.8" text-anchor="end" class="n">16</text>
<line x1="228.2" y1="406.9" x2="241.1" y2="406.9" stroke="#000" stroke-width="2.1"/>
<text x="222.6" y="411.4" font-size="16.8" text-anchor="end" class="n">14</text>
<line x1="228.2" y1="434.3" x2="241.1" y2="434.3" stroke="#000" stroke-width="2.1"/>
<text x="222.6" y="438.5" font-size="16.8" text-anchor="end" class="n">12</text>
<path d="M1549.4,171.5L1548.78,177.21L1548.22,182.92L1547.69,188.62L1547.2,194.33L1546.74,200.04L1546.32,205.75L1545.92,211.46L1545.55,217.17L1545.2,222.88L1544.87,228.58L1544.56,234.29L1544.27,240L1543.99,245.71L1543.73,251.42L1543.48,257.12L1543.24,262.83L1543.01,268.54L1542.8,274.25L1542.6,279.96L1542.4,285.67L1542.21,291.38L1542.03,297.08L1541.86,302.79L1541.7,308.5L1540.79,308.5L1540.94,302.79L1541.09,297.08L1541.25,291.38L1541.41,285.67L1541.58,279.96L1541.76,274.25L1541.95,268.54L1542.15,262.83L1542.36,257.12L1542.58,251.42L1542.81,245.71L1543.06,240L1543.32,234.29L1543.59,228.58L1543.88,222.88L1544.19,217.17L1544.52,211.46L1544.87,205.75L1545.25,200.04L1545.65,194.33L1546.08,188.62L1546.54,182.92L1547.04,177.21L1547.59,171.5ZM1545.78,171.5L1545.31,177.21L1544.87,182.92L1544.47,188.62L1544.09,194.33L1543.75,200.04L1543.42,205.75L1543.12,211.46L1542.83,217.17L1542.56,222.88L1542.31,228.58L1542.08,234.29L1541.85,240L1541.64,245.71L1541.44,251.42L1541.25,257.12L1541.07,262.83L1540.89,268.54L1540.73,274.25L1540.57,279.96L1540.42,285.67L1540.28,291.38L1540.14,297.08L1540.01,302.79L1539.89,308.5L1538.98,308.5L1539.09,302.79L1539.2,297.08L1539.31,291.38L1539.44,285.67L1539.56,279.96L1539.69,274.25L1539.83,268.54L1539.98,262.83L1540.13,257.12L1540.29,251.42L1540.46,245.71L1540.64,240L1540.83,234.29L1541.03,228.58L1541.25,222.88L1541.47,217.17L1541.71,211.46L1541.97,205.75L1542.25,200.04L1542.54,194.33L1542.86,188.62L1543.2,182.92L1543.57,177.21L1543.96,171.5ZM1542.15,171.5L1541.83,177.21L1541.53,182.92L1541.25,188.62L1540.99,194.33L1540.75,200.04L1540.52,205.75L1540.31,211.46L1540.11,217.17L1539.93,222.88L1539.76,228.58L1539.59,234.29L1539.44,240L1539.29,245.71L1539.15,251.42L1539.02,257.12L1538.89,262.83L1538.77,268.54L1538.66,274.25L1538.55,279.96L1538.45,285.67L1538.35,291.38L1538.25,297.08L1538.16,302.79L1538.08,308.5L1537.17,308.5L1537.24,302.79L1537.31,297.08L1537.38,291.38L1537.46,285.67L1537.54,279.96L1537.62,274.25L1537.71,268.54L1537.8,262.83L1537.9,257.12L1538,251.42L1538.11,245.71L1538.23,240L1538.35,234.29L1538.48,228.58L1538.61,222.88L1538.76,217.17L1538.91,211.46L1539.07,205.75L1539.25,200.04L1539.44,194.33L1539.64,188.62L1539.85,182.92L1540.09,177.21L1540.34,171.5ZM1538.53,171.5L1538.35,177.21L1538.18,182.92L1538.03,188.62L1537.88,194.33L1537.75,200.04L1537.62,205.75L1537.51,211.46L1537.4,217.17L1537.29,222.88L1537.2,228.58L1537.11,234.29L1537.02,240L1536.94,245.71L1536.86,251.42L1536.79,257.12L1536.72,262.83L1536.65,268.54L1536.59,274.25L1536.53,279.96L1536.47,285.67L1536.42,291.38L1536.36,297.08L1536.31,302.79L1536.26,308.5L1535.36,308.5L1535.39,302.79L1535.42,297.08L1535.45,291.38L1535.48,285.67L1535.52,279.96L1535.55,274.25L1535.59,268.54L1535.63,262.83L1535.67,257.12L1535.72,251.42L1535.76,245.71L1535.81,240L1535.86,234.29L1535.92,228.58L1535.98,222.88L1536.04,217.17L1536.1,211.46L1536.17,205.75L1536.25,200.04L1536.33,194.33L1536.42,188.62L1536.51,182.92L1536.61,177.21L1536.72,171.5ZM1534.91,171.5L1534.87,177.21L1534.84,182.92L1534.81,188.62L1534.78,194.33L1534.75,200.04L1534.72,205.75L1534.7,211.46L1534.68,217.17L1534.66,222.88L1534.64,228.58L1534.62,234.29L1534.6,240L1534.59,245.71L1534.57,251.42L1534.56,257.12L1534.54,262.83L1534.53,268.54L1534.52,274.25L1534.51,279.96L1534.49,285.67L1534.48,291.38L1534.47,297.08L1534.46,302.79L1534.45,308.5L1533.55,308.5L1533.54,302.79L1533.53,297.08L1533.52,291.38L1533.51,285.67L1533.49,279.96L1533.48,274.25L1533.47,268.54L1533.46,262.83L1533.44,257.12L1533.43,251.42L1533.41,245.71L1533.4,240L1533.38,234.29L1533.36,228.58L1533.34,222.88L1533.32,217.17L1533.3,211.46L1533.28,205.75L1533.25,200.04L1533.22,194.33L1533.19,188.62L1533.16,182.92L1533.13,177.21L1533.09,171.5ZM1531.28,171.5L1531.39,177.21L1531.49,182.92L1531.58,188.62L1531.67,194.33L1531.75,200.04L1531.83,205.75L1531.9,211.46L1531.96,217.17L1532.02,222.88L1532.08,228.58L1532.14,234.29L1532.19,240L1532.24,245.71L1532.28,251.42L1532.33,257.12L1532.37,262.83L1532.41,268.54L1532.45,274.25L1532.48,279.96L1532.52,285.67L1532.55,291.38L1532.58,297.08L1532.61,302.79L1532.64,308.5L1531.74,308.5L1531.69,302.79L1531.64,297.08L1531.58,291.38L1531.53,285.67L1531.47,279.96L1531.41,274.25L1531.35,268.54L1531.28,262.83L1531.21,257.12L1531.14,251.42L1531.06,245.71L1530.98,240L1530.89,234.29L1530.8,228.58L1530.71,222.88L1530.6,217.17L1530.49,211.46L1530.38,205.75L1530.25,200.04L1530.12,194.33L1529.97,188.62L1529.82,182.92L1529.65,177.21L1529.47,171.5ZM1527.66,171.5L1527.91,177.21L1528.15,182.92L1528.36,188.62L1528.56,194.33L1528.75,200.04L1528.93,205.75L1529.09,211.46L1529.24,217.17L1529.39,222.88L1529.52,228.58L1529.65,234.29L1529.77,240L1529.89,245.71L1530,251.42L1530.1,257.12L1530.2,262.83L1530.29,268.54L1530.38,274.25L1530.46,279.96L1530.54,285.67L1530.62,291.38L1530.69,297.08L1530.76,302.79L1530.83,308.5L1529.92,308.5L1529.84,302.79L1529.75,297.08L1529.65,291.38L1529.55,285.67L1529.45,279.96L1529.34,274.25L1529.23,268.54L1529.11,262.83L1528.98,257.12L1528.85,251.42L1528.71,245.71L1528.56,240L1528.41,234.29L1528.24,228.58L1528.07,222.88L1527.89,217.17L1527.69,211.46L1527.48,205.75L1527.25,200.04L1527.01,194.33L1526.75,188.62L1526.47,182.92L1526.17,177.21L1525.85,171.5ZM1524.04,171.5L1524.43,177.21L1524.8,182.92L1525.14,188.62L1525.46,194.33L1525.75,200.04L1526.03,205.75L1526.29,211.46L1526.53,217.17L1526.75,222.88L1526.97,228.58L1527.17,234.29L1527.36,240L1527.54,245.71L1527.71,251.42L1527.87,257.12L1528.02,262.83L1528.17,268.54L1528.31,274.25L1528.44,279.96L1528.56,285.67L1528.69,291.38L1528.8,297.08L1528.91,302.79L1529.02,308.5L1528.11,308.5L1527.99,302.79L1527.86,297.08L1527.72,291.38L1527.58,285.67L1527.43,279.96L1527.27,274.25L1527.11,268.54L1526.93,262.83L1526.75,257.12L1526.56,251.42L1526.36,245.71L1526.15,240L1525.92,234.29L1525.69,228.58L1525.44,222.88L1525.17,217.17L1524.88,211.46L1524.58,205.75L1524.25,200.04L1523.91,194.33L1523.53,188.62L1523.13,182.92L1522.69,177.21L1522.22,171.5ZM1520.41,171.5L1520.96,177.21L1521.46,182.92L1521.92,188.62L1522.35,194.33L1522.75,200.04L1523.13,205.75L1523.48,211.46L1523.81,217.17L1524.12,222.88L1524.41,228.58L1524.68,234.29L1524.94,240L1525.19,245.71L1525.42,251.42L1525.64,257.12L1525.85,262.83L1526.05,268.54L1526.24,274.25L1526.42,279.96L1526.59,285.67L1526.75,291.38L1526.91,297.08L1527.06,302.79L1527.21,308.5L1526.3,308.5L1526.14,302.79L1525.97,297.08L1525.79,291.38L1525.6,285.67L1525.4,279.96L1525.2,274.25L1524.99,268.54L1524.76,262.83L1524.52,257.12L1524.27,251.42L1524.01,245.71L1523.73,240L1523.44,234.29L1523.13,228.58L1522.8,222.88L1522.45,217.17L1522.08,211.46L1521.68,205.75L1521.26,200.04L1520.8,194.33L1520.31,188.62L1519.78,182.92L1519.22,177.21L1518.6,171.5Z" fill="#000"/>
<path d="M1680,332.9L1674.29,332.28L1668.58,331.72L1662.88,331.19L1657.17,330.7L1651.46,330.24L1645.75,329.82L1640.04,329.42L1634.33,329.05L1628.62,328.7L1622.92,328.37L1617.21,328.06L1611.5,327.77L1605.79,327.49L1600.08,327.23L1594.38,326.98L1588.67,326.74L1582.96,326.51L1577.25,326.3L1571.54,326.1L1565.83,325.9L1560.12,325.71L1554.42,325.53L1548.71,325.36L1543,325.2L1543,324.29L1548.71,324.44L1554.42,324.59L1560.12,324.75L1565.83,324.91L1571.54,325.08L1577.25,325.26L1582.96,325.45L1588.67,325.65L1594.38,325.86L1600.08,326.08L1605.79,326.31L1611.5,326.56L1617.21,326.82L1622.92,327.09L1628.62,327.38L1634.33,327.69L1640.04,328.02L1645.75,328.37L1651.46,328.75L1657.17,329.15L1662.88,329.58L1668.58,330.04L1674.29,330.54L1680,331.09ZM1680,329.28L1674.29,328.81L1668.58,328.37L1662.88,327.97L1657.17,327.59L1651.46,327.25L1645.75,326.92L1640.04,326.62L1634.33,326.33L1628.62,326.06L1622.92,325.81L1617.21,325.58L1611.5,325.35L1605.79,325.14L1600.08,324.94L1594.38,324.75L1588.67,324.57L1582.96,324.39L1577.25,324.23L1571.54,324.07L1565.83,323.92L1560.12,323.78L1554.42,323.64L1548.71,323.51L1543,323.39L1543,322.48L1548.71,322.59L1554.42,322.7L1560.12,322.81L1565.83,322.94L1571.54,323.06L1577.25,323.19L1582.96,323.33L1588.67,323.48L1594.38,323.63L1600.08,323.79L1605.79,323.96L1611.5,324.14L1617.21,324.33L1622.92,324.53L1628.62,324.75L1634.33,324.97L1640.04,325.21L1645.75,325.47L1651.46,325.75L1657.17,326.04L1662.88,326.36L1668.58,326.7L1674.29,327.07L1680,327.46ZM1680,325.65L1674.29,325.33L1668.58,325.03L1662.88,324.75L1657.17,324.49L1651.46,324.25L1645.75,324.02L1640.04,323.81L1634.33,323.61L1628.62,323.43L1622.92,323.26L1617.21,323.09L1611.5,322.94L1605.79,322.79L1600.08,322.65L1594.38,322.52L1588.67,322.39L1582.96,322.27L1577.25,322.16L1571.54,322.05L1565.83,321.95L1560.12,321.85L1554.42,321.75L1548.71,321.66L1543,321.58L1543,320.67L1548.71,320.74L1554.42,320.81L1560.12,320.88L1565.83,320.96L1571.54,321.04L1577.25,321.12L1582.96,321.21L1588.67,321.3L1594.38,321.4L1600.08,321.5L1605.79,321.61L1611.5,321.73L1617.21,321.85L1622.92,321.98L1628.62,322.11L1634.33,322.26L1640.04,322.41L1645.75,322.57L1651.46,322.75L1657.17,322.94L1662.88,323.14L1668.58,323.35L1674.29,323.59L1680,323.84ZM1680,322.03L1674.29,321.85L1668.58,321.68L1662.88,321.53L1657.17,321.38L1651.46,321.25L1645.75,321.12L1640.04,321.01L1634.33,320.9L1628.62,320.79L1622.92,320.7L1617.21,320.61L1611.5,320.52L1605.79,320.44L1600.08,320.36L1594.38,320.29L1588.67,320.22L1582.96,320.15L1577.25,320.09L1571.54,320.03L1565.83,319.97L1560.12,319.92L1554.42,319.86L1548.71,319.81L1543,319.76L1543,318.86L1548.71,318.89L1554.42,318.92L1560.12,318.95L1565.83,318.98L1571.54,319.02L1577.25,319.05L1582.96,319.09L1588.67,319.13L1594.38,319.17L1600.08,319.22L1605.79,319.26L1611.5,319.31L1617.21,319.36L1622.92,319.42L1628.62,319.48L1634.33,319.54L1640.04,319.6L1645.75,319.67L1651.46,319.75L1657.17,319.83L1662.88,319.92L1668.58,320.01L1674.29,320.11L1680,320.22ZM1680,318.41L1674.29,318.37L1668.58,318.34L1662.88,318.31L1657.17,318.28L1651.46,318.25L1645.75,318.22L1640.04,318.2L1634.33,318.18L1628.62,318.16L1622.92,318.14L1617.21,318.12L1611.5,318.1L1605.79,318.09L1600.08,318.07L1594.38,318.06L1588.67,318.04L1582.96,318.03L1577.25,318.02L1571.54,318.01L1565.83,317.99L1560.12,317.98L1554.42,317.97L1548.71,317.96L1543,317.95L1543,317.05L1548.71,317.04L1554.42,317.03L1560.12,317.02L1565.83,317.01L1571.54,316.99L1577.25,316.98L1582.96,316.97L1588.67,316.96L1594.38,316.94L1600.08,316.93L1605.79,316.91L1611.5,316.9L1617.21,316.88L1622.92,316.86L1628.62,316.84L1634.33,316.82L1640.04,316.8L1645.75,316.78L1651.46,316.75L1657.17,316.72L1662.88,316.69L1668.58,316.66L1674.29,316.63L1680,316.59ZM1680,314.78L1674.29,314.89L1668.58,314.99L1662.88,315.08L1657.17,315.17L1651.46,315.25L1645.75,315.33L1640.04,315.4L1634.33,315.46L1628.62,315.52L1622.92,315.58L1617.21,315.64L1611.5,315.69L1605.79,315.74L1600.08,315.78L1594.38,315.83L1588.67,315.87L1582.96,315.91L1577.25,315.95L1571.54,315.98L1565.83,316.02L1560.12,316.05L1554.42,316.08L1548.71,316.11L1543,316.14L1543,315.24L1548.71,315.19L1554.42,315.14L1560.12,315.08L1565.83,315.03L1571.54,314.97L1577.25,314.91L1582.96,314.85L1588.67,314.78L1594.38,314.71L1600.08,314.64L1605.79,314.56L1611.5,314.48L1617.21,314.39L1622.92,314.3L1628.62,314.21L1634.33,314.1L1640.04,313.99L1645.75,313.88L1651.46,313.75L1657.17,313.62L1662.88,313.47L1668.58,313.32L1674.29,313.15L1680,312.97ZM1680,311.16L1674.29,311.41L1668.58,311.65L1662.88,311.86L1657.17,312.06L1651.46,312.25L1645.75,312.43L1640.04,312.59L1634.33,312.74L1628.62,312.89L1622.92,313.02L1617.21,313.15L1611.5,313.27L1605.79,313.39L1600.08,313.5L1594.38,313.6L1588.67,313.7L1582.96,313.79L1577.25,313.88L1571.54,313.96L1565.83,314.04L1560.12,314.12L1554.42,314.19L1548.71,314.26L1543,314.33L1543,313.42L1548.71,313.34L1554.42,313.25L1560.12,313.15L1565.83,313.05L1571.54,312.95L1577.25,312.84L1582.96,312.73L1588.67,312.61L1594.38,312.48L1600.08,312.35L1605.79,312.21L1611.5,312.06L1617.21,311.91L1622.92,311.74L1628.62,311.57L1634.33,311.39L1640.04,311.19L1645.75,310.98L1651.46,310.75L1657.17,310.51L1662.88,310.25L1668.58,309.97L1674.29,309.67L1680,309.35ZM1680,307.54L1674.29,307.93L1668.58,308.3L1662.88,308.64L1657.17,308.96L1651.46,309.25L1645.75,309.53L1640.04,309.79L1634.33,310.03L1628.62,310.25L1622.92,310.47L1617.21,310.67L1611.5,310.86L1605.79,311.04L1600.08,311.21L1594.38,311.37L1588.67,311.52L1582.96,311.67L1577.25,311.81L1571.54,311.94L1565.83,312.06L1560.12,312.19L1554.42,312.3L1548.71,312.41L1543,312.52L1543,311.61L1548.71,311.49L1554.42,311.36L1560.12,311.22L1565.83,311.08L1571.54,310.93L1577.25,310.77L1582.96,310.61L1588.67,310.43L1594.38,310.25L1600.08,310.06L1605.79,309.86L1611.5,309.65L1617.21,309.42L1622.92,309.19L1628.62,308.94L1634.33,308.67L1640.04,308.38L1645.75,308.08L1651.46,307.75L1657.17,307.41L1662.88,307.03L1668.58,306.63L1674.29,306.19L1680,305.72ZM1680,303.91L1674.29,304.46L1668.58,304.96L1662.88,305.42L1657.17,305.85L1651.46,306.25L1645.75,306.63L1640.04,306.98L1634.33,307.31L1628.62,307.62L1622.92,307.91L1617.21,308.18L1611.5,308.44L1605.79,308.69L1600.08,308.92L1594.38,309.14L1588.67,309.35L1582.96,309.55L1577.25,309.74L1571.54,309.92L1565.83,310.09L1560.12,310.25L1554.42,310.41L1548.71,310.56L1543,310.71L1543,309.8L1548.71,309.64L1554.42,309.47L1560.12,309.29L1565.83,309.1L1571.54,308.9L1577.25,308.7L1582.96,308.49L1588.67,308.26L1594.38,308.02L1600.08,307.77L1605.79,307.51L1611.5,307.23L1617.21,306.94L1622.92,306.63L1628.62,306.3L1634.33,305.95L1640.04,305.58L1645.75,305.18L1651.46,304.76L1657.17,304.3L1662.88,303.81L1668.58,303.28L1674.29,302.72L1680,302.1Z" fill="#000"/>
<path d="M1388,309.5L1393.71,309.82L1399.42,310.12L1405.12,310.39L1410.83,310.64L1416.54,310.88L1422.25,311.1L1427.96,311.31L1433.67,311.5L1439.38,311.68L1445.08,311.85L1450.79,312.01L1456.5,312.17L1462.21,312.31L1467.92,312.45L1473.62,312.58L1479.33,312.7L1485.04,312.82L1490.75,312.93L1496.46,313.03L1502.17,313.14L1507.88,313.23L1513.58,313.33L1519.29,313.41L1525,313.5L1525,313.97L1519.29,313.9L1513.58,313.82L1507.88,313.74L1502.17,313.65L1496.46,313.56L1490.75,313.47L1485.04,313.37L1479.33,313.26L1473.62,313.16L1467.92,313.04L1462.21,312.92L1456.5,312.79L1450.79,312.66L1445.08,312.52L1439.38,312.37L1433.67,312.21L1427.96,312.04L1422.25,311.85L1416.54,311.66L1410.83,311.45L1405.12,311.23L1399.42,310.98L1393.71,310.72L1388,310.44ZM1388,311.38L1393.71,311.63L1399.42,311.85L1405.12,312.06L1410.83,312.26L1416.54,312.44L1422.25,312.61L1427.96,312.76L1433.67,312.91L1439.38,313.05L1445.08,313.18L1450.79,313.31L1456.5,313.42L1462.21,313.53L1467.92,313.64L1473.62,313.74L1479.33,313.83L1485.04,313.92L1490.75,314L1496.46,314.09L1502.17,314.16L1507.88,314.24L1513.58,314.31L1519.29,314.38L1525,314.44L1525,314.91L1519.29,314.86L1513.58,314.8L1507.88,314.74L1502.17,314.68L1496.46,314.61L1490.75,314.54L1485.04,314.47L1479.33,314.39L1473.62,314.31L1467.92,314.23L1462.21,314.14L1456.5,314.05L1450.79,313.95L1445.08,313.85L1439.38,313.74L1433.67,313.62L1427.96,313.49L1422.25,313.36L1416.54,313.22L1410.83,313.06L1405.12,312.9L1399.42,312.72L1393.71,312.53L1388,312.32ZM1388,313.26L1393.71,313.43L1399.42,313.59L1405.12,313.74L1410.83,313.87L1416.54,313.99L1422.25,314.11L1427.96,314.22L1433.67,314.32L1439.38,314.42L1445.08,314.51L1450.79,314.6L1456.5,314.68L1462.21,314.75L1467.92,314.83L1473.62,314.89L1479.33,314.96L1485.04,315.02L1490.75,315.08L1496.46,315.14L1502.17,315.19L1507.88,315.24L1513.58,315.29L1519.29,315.34L1525,315.38L1525,315.85L1519.29,315.82L1513.58,315.78L1507.88,315.74L1502.17,315.7L1496.46,315.66L1490.75,315.62L1485.04,315.57L1479.33,315.52L1473.62,315.47L1467.92,315.42L1462.21,315.36L1456.5,315.3L1450.79,315.24L1445.08,315.17L1439.38,315.1L1433.67,315.03L1427.96,314.95L1422.25,314.86L1416.54,314.77L1410.83,314.68L1405.12,314.57L1399.42,314.46L1393.71,314.34L1388,314.21ZM1388,315.15L1393.71,315.24L1399.42,315.33L1405.12,315.41L1410.83,315.48L1416.54,315.55L1422.25,315.62L1427.96,315.68L1433.67,315.74L1439.38,315.79L1445.08,315.84L1450.79,315.89L1456.5,315.93L1462.21,315.97L1467.92,316.01L1473.62,316.05L1479.33,316.09L1485.04,316.12L1490.75,316.16L1496.46,316.19L1502.17,316.22L1507.88,316.25L1513.58,316.27L1519.29,316.3L1525,316.32L1525,316.79L1519.29,316.78L1513.58,316.76L1507.88,316.75L1502.17,316.73L1496.46,316.71L1490.75,316.69L1485.04,316.67L1479.33,316.65L1473.62,316.63L1467.92,316.61L1462.21,316.58L1456.5,316.56L1450.79,316.53L1445.08,316.5L1439.38,316.47L1433.67,316.44L1427.96,316.41L1422.25,316.37L1416.54,316.33L1410.83,316.29L1405.12,316.25L1399.42,316.2L1393.71,316.14L1388,316.09ZM1388,317.03L1393.71,317.05L1399.42,317.07L1405.12,317.08L1410.83,317.1L1416.54,317.11L1422.25,317.12L1427.96,317.14L1433.67,317.15L1439.38,317.16L1445.08,317.17L1450.79,317.18L1456.5,317.19L1462.21,317.19L1467.92,317.2L1473.62,317.21L1479.33,317.22L1485.04,317.22L1490.75,317.23L1496.46,317.24L1502.17,317.24L1507.88,317.25L1513.58,317.25L1519.29,317.26L1525,317.26L1525,317.74L1519.29,317.74L1513.58,317.75L1507.88,317.75L1502.17,317.76L1496.46,317.76L1490.75,317.77L1485.04,317.78L1479.33,317.78L1473.62,317.79L1467.92,317.8L1462.21,317.81L1456.5,317.81L1450.79,317.82L1445.08,317.83L1439.38,317.84L1433.67,317.85L1427.96,317.86L1422.25,317.88L1416.54,317.89L1410.83,317.9L1405.12,317.92L1399.42,317.93L1393.71,317.95L1388,317.97ZM1388,318.91L1393.71,318.86L1399.42,318.8L1405.12,318.75L1410.83,318.71L1416.54,318.67L1422.25,318.63L1427.96,318.59L1433.67,318.56L1439.38,318.53L1445.08,318.5L1450.79,318.47L1456.5,318.44L1462.21,318.42L1467.92,318.39L1473.62,318.37L1479.33,318.35L1485.04,318.33L1490.75,318.31L1496.46,318.29L1502.17,318.27L1507.88,318.25L1513.58,318.24L1519.29,318.22L1525,318.21L1525,318.68L1519.29,318.7L1513.58,318.73L1507.88,318.75L1502.17,318.78L1496.46,318.81L1490.75,318.84L1485.04,318.88L1479.33,318.91L1473.62,318.95L1467.92,318.99L1462.21,319.03L1456.5,319.07L1450.79,319.11L1445.08,319.16L1439.38,319.21L1433.67,319.26L1427.96,319.32L1422.25,319.38L1416.54,319.45L1410.83,319.52L1405.12,319.59L1399.42,319.67L1393.71,319.76L1388,319.85ZM1388,320.79L1393.71,320.66L1399.42,320.54L1405.12,320.43L1410.83,320.32L1416.54,320.23L1422.25,320.14L1427.96,320.05L1433.67,319.97L1439.38,319.9L1445.08,319.83L1450.79,319.76L1456.5,319.7L1462.21,319.64L1467.92,319.58L1473.62,319.53L1479.33,319.48L1485.04,319.43L1490.75,319.38L1496.46,319.34L1502.17,319.3L1507.88,319.26L1513.58,319.22L1519.29,319.18L1525,319.15L1525,319.62L1519.29,319.66L1513.58,319.71L1507.88,319.76L1502.17,319.81L1496.46,319.86L1490.75,319.92L1485.04,319.98L1479.33,320.04L1473.62,320.11L1467.92,320.17L1462.21,320.25L1456.5,320.32L1450.79,320.4L1445.08,320.49L1439.38,320.58L1433.67,320.68L1427.96,320.78L1422.25,320.89L1416.54,321.01L1410.83,321.13L1405.12,321.26L1399.42,321.41L1393.71,321.57L1388,321.74ZM1388,322.68L1393.71,322.47L1399.42,322.28L1405.12,322.1L1410.83,321.94L1416.54,321.78L1422.25,321.64L1427.96,321.51L1433.67,321.38L1439.38,321.26L1445.08,321.15L1450.79,321.05L1456.5,320.95L1462.21,320.86L1467.92,320.77L1473.62,320.69L1479.33,320.61L1485.04,320.53L1490.75,320.46L1496.46,320.39L1502.17,320.32L1507.88,320.26L1513.58,320.2L1519.29,320.14L1525,320.09L1525,320.56L1519.29,320.62L1513.58,320.69L1507.88,320.76L1502.17,320.84L1496.46,320.91L1490.75,321L1485.04,321.08L1479.33,321.17L1473.62,321.26L1467.92,321.36L1462.21,321.47L1456.5,321.58L1450.79,321.69L1445.08,321.82L1439.38,321.95L1433.67,322.09L1427.96,322.24L1422.25,322.39L1416.54,322.56L1410.83,322.74L1405.12,322.94L1399.42,323.15L1393.71,323.37L1388,323.62ZM1388,324.56L1393.71,324.28L1399.42,324.02L1405.12,323.77L1410.83,323.55L1416.54,323.34L1422.25,323.15L1427.96,322.96L1433.67,322.79L1439.38,322.63L1445.08,322.48L1450.79,322.34L1456.5,322.21L1462.21,322.08L1467.92,321.96L1473.62,321.84L1479.33,321.74L1485.04,321.63L1490.75,321.53L1496.46,321.44L1502.17,321.35L1507.88,321.26L1513.58,321.18L1519.29,321.1L1525,321.03L1525,321.5L1519.29,321.59L1513.58,321.67L1507.88,321.77L1502.17,321.86L1496.46,321.97L1490.75,322.07L1485.04,322.18L1479.33,322.3L1473.62,322.42L1467.92,322.55L1462.21,322.69L1456.5,322.83L1450.79,322.99L1445.08,323.15L1439.38,323.32L1433.67,323.5L1427.96,323.69L1422.25,323.9L1416.54,324.12L1410.83,324.36L1405.12,324.61L1399.42,324.88L1393.71,325.18L1388,325.5Z" fill="#1c1c1c"/>
<polygon points="1388,309.2 1396.56,309.69 1405.12,310.12 1413.69,310.51 1422.25,310.86 1430.81,311.18 1439.38,311.46 1447.94,311.73 1456.5,311.97 1465.06,312.19 1473.62,312.39 1482.19,312.58 1490.75,312.76 1499.31,312.92 1507.88,313.07 1516.44,313.22 1525,313.35 1525,321.65 1516.44,321.78 1507.88,321.93 1499.31,322.08 1490.75,322.24 1482.19,322.42 1473.62,322.61 1465.06,322.81 1456.5,323.03 1447.94,323.27 1439.38,323.54 1430.81,323.82 1422.25,324.14 1413.69,324.49 1405.12,324.88 1396.56,325.31 1388,325.8" fill="#8b8b8b" fill-opacity="0.6"/>
<path d="M1526,463.5L1526.32,457.79L1526.62,452.08L1526.89,446.38L1527.14,440.67L1527.38,434.96L1527.6,429.25L1527.81,423.54L1528,417.83L1528.18,412.12L1528.35,406.42L1528.51,400.71L1528.67,395L1528.81,389.29L1528.95,383.58L1529.08,377.88L1529.2,372.17L1529.32,366.46L1529.43,360.75L1529.53,355.04L1529.64,349.33L1529.73,343.62L1529.83,337.92L1529.91,332.21L1530,326.5L1530.47,326.5L1530.4,332.21L1530.32,337.92L1530.24,343.62L1530.15,349.33L1530.06,355.04L1529.97,360.75L1529.87,366.46L1529.76,372.17L1529.66,377.88L1529.54,383.58L1529.42,389.29L1529.29,395L1529.16,400.71L1529.02,406.42L1528.87,412.12L1528.71,417.83L1528.54,423.54L1528.35,429.25L1528.16,434.96L1527.95,440.67L1527.73,446.38L1527.48,452.08L1527.22,457.79L1526.94,463.5ZM1527.88,463.5L1528.13,457.79L1528.35,452.08L1528.56,446.38L1528.76,440.67L1528.94,434.96L1529.11,429.25L1529.26,423.54L1529.41,417.83L1529.55,412.12L1529.68,406.42L1529.81,400.71L1529.92,395L1530.03,389.29L1530.14,383.58L1530.24,377.88L1530.33,372.17L1530.42,366.46L1530.5,360.75L1530.59,355.04L1530.66,349.33L1530.74,343.62L1530.81,337.92L1530.88,332.21L1530.94,326.5L1531.41,326.5L1531.36,332.21L1531.3,337.92L1531.24,343.62L1531.18,349.33L1531.11,355.04L1531.04,360.75L1530.97,366.46L1530.89,372.17L1530.81,377.88L1530.73,383.58L1530.64,389.29L1530.55,395L1530.45,400.71L1530.35,406.42L1530.24,412.12L1530.12,417.83L1529.99,423.54L1529.86,429.25L1529.72,434.96L1529.56,440.67L1529.4,446.38L1529.22,452.08L1529.03,457.79L1528.82,463.5ZM1529.76,463.5L1529.93,457.79L1530.09,452.08L1530.24,446.38L1530.37,440.67L1530.49,434.96L1530.61,429.25L1530.72,423.54L1530.82,417.83L1530.92,412.12L1531.01,406.42L1531.1,400.71L1531.18,395L1531.25,389.29L1531.33,383.58L1531.39,377.88L1531.46,372.17L1531.52,366.46L1531.58,360.75L1531.64,355.04L1531.69,349.33L1531.74,343.62L1531.79,337.92L1531.84,332.21L1531.88,326.5L1532.35,326.5L1532.32,332.21L1532.28,337.92L1532.24,343.62L1532.2,349.33L1532.16,355.04L1532.12,360.75L1532.07,366.46L1532.02,372.17L1531.97,377.88L1531.92,383.58L1531.86,389.29L1531.8,395L1531.74,400.71L1531.67,406.42L1531.6,412.12L1531.53,417.83L1531.45,423.54L1531.36,429.25L1531.27,434.96L1531.18,440.67L1531.07,446.38L1530.96,452.08L1530.84,457.79L1530.71,463.5ZM1531.65,463.5L1531.74,457.79L1531.83,452.08L1531.91,446.38L1531.98,440.67L1532.05,434.96L1532.12,429.25L1532.18,423.54L1532.24,417.83L1532.29,412.12L1532.34,406.42L1532.39,400.71L1532.43,395L1532.47,389.29L1532.51,383.58L1532.55,377.88L1532.59,372.17L1532.62,366.46L1532.66,360.75L1532.69,355.04L1532.72,349.33L1532.75,343.62L1532.77,337.92L1532.8,332.21L1532.82,326.5L1533.29,326.5L1533.28,332.21L1533.26,337.92L1533.25,343.62L1533.23,349.33L1533.21,355.04L1533.19,360.75L1533.17,366.46L1533.15,372.17L1533.13,377.88L1533.11,383.58L1533.08,389.29L1533.06,395L1533.03,400.71L1533,406.42L1532.97,412.12L1532.94,417.83L1532.91,423.54L1532.87,429.25L1532.83,434.96L1532.79,440.67L1532.75,446.38L1532.7,452.08L1532.64,457.79L1532.59,463.5ZM1533.53,463.5L1533.55,457.79L1533.57,452.08L1533.58,446.38L1533.6,440.67L1533.61,434.96L1533.62,429.25L1533.64,423.54L1533.65,417.83L1533.66,412.12L1533.67,406.42L1533.68,400.71L1533.69,395L1533.69,389.29L1533.7,383.58L1533.71,377.88L1533.72,372.17L1533.72,366.46L1533.73,360.75L1533.74,355.04L1533.74,349.33L1533.75,343.62L1533.75,337.92L1533.76,332.21L1533.76,326.5L1534.24,326.5L1534.24,332.21L1534.25,337.92L1534.25,343.62L1534.26,349.33L1534.26,355.04L1534.27,360.75L1534.28,366.46L1534.28,372.17L1534.29,377.88L1534.3,383.58L1534.31,389.29L1534.31,395L1534.32,400.71L1534.33,406.42L1534.34,412.12L1534.35,417.83L1534.36,423.54L1534.38,429.25L1534.39,434.96L1534.4,440.67L1534.42,446.38L1534.43,452.08L1534.45,457.79L1534.47,463.5ZM1535.41,463.5L1535.36,457.79L1535.3,452.08L1535.25,446.38L1535.21,440.67L1535.17,434.96L1535.13,429.25L1535.09,423.54L1535.06,417.83L1535.03,412.12L1535,406.42L1534.97,400.71L1534.94,395L1534.92,389.29L1534.89,383.58L1534.87,377.88L1534.85,372.17L1534.83,366.46L1534.81,360.75L1534.79,355.04L1534.77,349.33L1534.75,343.62L1534.74,337.92L1534.72,332.21L1534.71,326.5L1535.18,326.5L1535.2,332.21L1535.23,337.92L1535.25,343.62L1535.28,349.33L1535.31,355.04L1535.34,360.75L1535.38,366.46L1535.41,372.17L1535.45,377.88L1535.49,383.58L1535.53,389.29L1535.57,395L1535.61,400.71L1535.66,406.42L1535.71,412.12L1535.76,417.83L1535.82,423.54L1535.88,429.25L1535.95,434.96L1536.02,440.67L1536.09,446.38L1536.17,452.08L1536.26,457.79L1536.35,463.5ZM1537.29,463.5L1537.16,457.79L1537.04,452.08L1536.93,446.38L1536.82,440.67L1536.73,434.96L1536.64,429.25L1536.55,423.54L1536.47,417.83L1536.4,412.12L1536.33,406.42L1536.26,400.71L1536.2,395L1536.14,389.29L1536.08,383.58L1536.03,377.88L1535.98,372.17L1535.93,366.46L1535.88,360.75L1535.84,355.04L1535.8,349.33L1535.76,343.62L1535.72,337.92L1535.68,332.21L1535.65,326.5L1536.12,326.5L1536.16,332.21L1536.21,337.92L1536.26,343.62L1536.31,349.33L1536.36,355.04L1536.42,360.75L1536.48,366.46L1536.54,372.17L1536.61,377.88L1536.67,383.58L1536.75,389.29L1536.82,395L1536.9,400.71L1536.99,406.42L1537.08,412.12L1537.18,417.83L1537.28,423.54L1537.39,429.25L1537.51,434.96L1537.63,440.67L1537.76,446.38L1537.91,452.08L1538.07,457.79L1538.24,463.5ZM1539.18,463.5L1538.97,457.79L1538.78,452.08L1538.6,446.38L1538.44,440.67L1538.28,434.96L1538.14,429.25L1538.01,423.54L1537.88,417.83L1537.76,412.12L1537.65,406.42L1537.55,400.71L1537.45,395L1537.36,389.29L1537.27,383.58L1537.19,377.88L1537.11,372.17L1537.03,366.46L1536.96,360.75L1536.89,355.04L1536.82,349.33L1536.76,343.62L1536.7,337.92L1536.64,332.21L1536.59,326.5L1537.06,326.5L1537.12,332.21L1537.19,337.92L1537.26,343.62L1537.34,349.33L1537.41,355.04L1537.5,360.75L1537.58,366.46L1537.67,372.17L1537.76,377.88L1537.86,383.58L1537.97,389.29L1538.08,395L1538.19,400.71L1538.32,406.42L1538.45,412.12L1538.59,417.83L1538.74,423.54L1538.89,429.25L1539.06,434.96L1539.24,440.67L1539.44,446.38L1539.65,452.08L1539.87,457.79L1540.12,463.5ZM1541.06,463.5L1540.78,457.79L1540.52,452.08L1540.27,446.38L1540.05,440.67L1539.84,434.96L1539.65,429.25L1539.46,423.54L1539.29,417.83L1539.13,412.12L1538.98,406.42L1538.84,400.71L1538.71,395L1538.58,389.29L1538.46,383.58L1538.34,377.88L1538.24,372.17L1538.13,366.46L1538.03,360.75L1537.94,355.04L1537.85,349.33L1537.76,343.62L1537.68,337.92L1537.6,332.21L1537.53,326.5L1538,326.5L1538.09,332.21L1538.17,337.92L1538.27,343.62L1538.36,349.33L1538.47,355.04L1538.57,360.75L1538.68,366.46L1538.8,372.17L1538.92,377.88L1539.05,383.58L1539.19,389.29L1539.33,395L1539.49,400.71L1539.65,406.42L1539.82,412.12L1540,417.83L1540.19,423.54L1540.4,429.25L1540.62,434.96L1540.86,440.67L1541.11,446.38L1541.38,452.08L1541.68,457.79L1542,463.5Z" fill="#1c1c1c"/>
<polygon points="1525.7,463.5 1526.19,454.94 1526.62,446.38 1527.01,437.81 1527.36,429.25 1527.68,420.69 1527.96,412.12 1528.23,403.56 1528.47,395 1528.69,386.44 1528.89,377.88 1529.08,369.31 1529.26,360.75 1529.42,352.19 1529.57,343.62 1529.72,335.06 1529.85,326.5 1538.15,326.5 1538.28,335.06 1538.43,343.62 1538.58,352.19 1538.74,360.75 1538.92,369.31 1539.11,377.88 1539.31,386.44 1539.53,395 1539.77,403.56 1540.04,412.12 1540.32,420.69 1540.64,429.25 1540.99,437.81 1541.38,446.38 1541.81,454.94 1542.3,463.5" fill="#8b8b8b" fill-opacity="0.6"/>
<rect x="1525" y="308.5" width="18" height="18" fill="#000"/>
<rect x="1529.1" y="312.6" width="9.8" height="9.8" fill="#fff"/>
<line x1="1503.2" y1="200" x2="1516" y2="200" stroke="#000" stroke-width="2.1"/>
<text x="1500.2" y="205.6" font-size="16.8" text-anchor="end" class="n">6</text>
<line x1="1503.2" y1="227.2" x2="1516" y2="227.2" stroke="#000" stroke-width="2.1"/>
<text x="1500.2" y="233" font-size="16.8" text-anchor="end" class="n">7</text>
<line x1="1503.2" y1="254.5" x2="1516" y2="254.5" stroke="#000" stroke-width="2.1"/>
<text x="1500.2" y="262" font-size="16.8" text-anchor="end" class="n">8</text>
<line x1="1503.2" y1="282" x2="1516" y2="282" stroke="#000" stroke-width="2.1"/>
<text x="1500.2" y="289.3" font-size="16.8" text-anchor="end" class="n">9</text>
<line x1="1573.9" y1="285" x2="1573.9" y2="298.5" stroke="#000" stroke-width="2.1"/>
<text x="1574.2" y="278.2" font-size="16.8" text-anchor="middle" class="n">9</text>
<line x1="1601.1" y1="285" x2="1601.1" y2="298.5" stroke="#000" stroke-width="2.1"/>
<text x="1601.1" y="278.2" font-size="16.8" text-anchor="middle" class="n">8</text>
<line x1="1628.5" y1="285" x2="1628.5" y2="298.5" stroke="#000" stroke-width="2.1"/>
<text x="1630" y="278.2" font-size="16.8" text-anchor="middle" class="n">7</text>
<line x1="1655.9" y1="285" x2="1655.9" y2="298.5" stroke="#000" stroke-width="2.1"/>
<text x="1657.2" y="278.2" font-size="16.8" text-anchor="middle" class="n">6</text>
<line x1="1415.8" y1="332" x2="1415.8" y2="345.7" stroke="#000" stroke-width="2.1"/>
<text x="1416.9" y="366.6" font-size="16.8" text-anchor="middle" class="n">12</text>
<line x1="1443" y1="332" x2="1443" y2="345.7" stroke="#000" stroke-width="2.1"/>
<text x="1444.2" y="366.6" font-size="16.8" text-anchor="middle" class="n">14</text>
<line x1="1470.5" y1="332" x2="1470.5" y2="345.7" stroke="#000" stroke-width="2.1"/>
<text x="1471" y="366.6" font-size="16.8" text-anchor="middle" class="n">16</text>
<line x1="1497.8" y1="332" x2="1497.8" y2="345.7" stroke="#000" stroke-width="2.1"/>
<text x="1498.2" y="366.6" font-size="16.8" text-anchor="middle" class="n">18</text>
<line x1="1550" y1="353.5" x2="1563.5" y2="353.5" stroke="#000" stroke-width="2.1"/>
<text x="1569.4" y="361" font-size="16.8" text-anchor="start" class="n">18</text>
<line x1="1550" y1="381" x2="1563.5" y2="381" stroke="#000" stroke-width="2.1"/>
<text x="1569.4" y="388" font-size="16.8" text-anchor="start" class="n">16</text>
<line x1="1550" y1="408.2" x2="1563.5" y2="408.2" stroke="#000" stroke-width="2.1"/>
<text x="1569.4" y="412.2" font-size="16.8" text-anchor="start" class="n">14</text>
<line x1="1550" y1="435.5" x2="1563.5" y2="435.5" stroke="#000" stroke-width="2.1"/>
<text x="1569.4" y="440.5" font-size="16.8" text-anchor="start" class="n">12</text>
<path d="M123.8,750.7L129.51,751.32L135.22,751.88L140.93,752.41L146.63,752.9L152.34,753.36L158.05,753.78L163.76,754.18L169.47,754.55L175.18,754.9L180.88,755.23L186.59,755.54L192.3,755.83L198.01,756.11L203.72,756.37L209.43,756.62L215.13,756.86L220.84,757.09L226.55,757.3L232.26,757.5L237.97,757.7L243.68,757.89L249.38,758.07L255.09,758.24L260.8,758.4L260.8,759.31L255.09,759.16L249.38,759.01L243.68,758.85L237.97,758.69L232.26,758.52L226.55,758.34L220.84,758.15L215.13,757.95L209.43,757.74L203.72,757.52L198.01,757.29L192.3,757.04L186.59,756.78L180.88,756.51L175.18,756.22L169.47,755.91L163.76,755.58L158.05,755.23L152.34,754.85L146.63,754.45L140.93,754.02L135.22,753.56L129.51,753.06L123.8,752.51ZM123.8,754.32L129.51,754.79L135.22,755.23L140.93,755.63L146.63,756.01L152.34,756.35L158.05,756.68L163.76,756.98L169.47,757.27L175.18,757.54L180.88,757.79L186.59,758.02L192.3,758.25L198.01,758.46L203.72,758.66L209.43,758.85L215.13,759.03L220.84,759.21L226.55,759.37L232.26,759.53L237.97,759.68L243.68,759.82L249.38,759.96L255.09,760.09L260.8,760.21L260.8,761.12L255.09,761.01L249.38,760.9L243.68,760.79L237.97,760.66L232.26,760.54L226.55,760.41L220.84,760.27L215.13,760.12L209.43,759.97L203.72,759.81L198.01,759.64L192.3,759.46L186.59,759.27L180.88,759.07L175.18,758.85L169.47,758.63L163.76,758.39L158.05,758.13L152.34,757.85L146.63,757.56L140.93,757.24L135.22,756.9L129.51,756.53L123.8,756.14ZM123.8,757.95L129.51,758.27L135.22,758.57L140.93,758.85L146.63,759.11L152.34,759.35L158.05,759.58L163.76,759.79L169.47,759.99L175.18,760.17L180.88,760.34L186.59,760.51L192.3,760.66L198.01,760.81L203.72,760.95L209.43,761.08L215.13,761.21L220.84,761.33L226.55,761.44L232.26,761.55L237.97,761.65L243.68,761.75L249.38,761.85L255.09,761.94L260.8,762.02L260.8,762.93L255.09,762.86L249.38,762.79L243.68,762.72L237.97,762.64L232.26,762.56L226.55,762.48L220.84,762.39L215.13,762.3L209.43,762.2L203.72,762.1L198.01,761.99L192.3,761.87L186.59,761.75L180.88,761.62L175.18,761.49L169.47,761.34L163.76,761.19L158.05,761.03L152.34,760.85L146.63,760.66L140.93,760.46L135.22,760.25L129.51,760.01L123.8,759.76ZM123.8,761.57L129.51,761.75L135.22,761.92L140.93,762.07L146.63,762.22L152.34,762.35L158.05,762.48L163.76,762.59L169.47,762.7L175.18,762.81L180.88,762.9L186.59,762.99L192.3,763.08L198.01,763.16L203.72,763.24L209.43,763.31L215.13,763.38L220.84,763.45L226.55,763.51L232.26,763.57L237.97,763.63L243.68,763.68L249.38,763.74L255.09,763.79L260.8,763.84L260.8,764.74L255.09,764.71L249.38,764.68L243.68,764.65L237.97,764.62L232.26,764.58L226.55,764.55L220.84,764.51L215.13,764.47L209.43,764.43L203.72,764.38L198.01,764.34L192.3,764.29L186.59,764.24L180.88,764.18L175.18,764.12L169.47,764.06L163.76,764L158.05,763.93L152.34,763.85L146.63,763.77L140.93,763.68L135.22,763.59L129.51,763.49L123.8,763.38ZM123.8,765.19L129.51,765.23L135.22,765.26L140.93,765.29L146.63,765.32L152.34,765.35L158.05,765.38L163.76,765.4L169.47,765.42L175.18,765.44L180.88,765.46L186.59,765.48L192.3,765.5L198.01,765.51L203.72,765.53L209.43,765.54L215.13,765.56L220.84,765.57L226.55,765.58L232.26,765.59L237.97,765.61L243.68,765.62L249.38,765.63L255.09,765.64L260.8,765.65L260.8,766.55L255.09,766.56L249.38,766.57L243.68,766.58L237.97,766.59L232.26,766.61L226.55,766.62L220.84,766.63L215.13,766.64L209.43,766.66L203.72,766.67L198.01,766.69L192.3,766.7L186.59,766.72L180.88,766.74L175.18,766.76L169.47,766.78L163.76,766.8L158.05,766.82L152.34,766.85L146.63,766.88L140.93,766.91L135.22,766.94L129.51,766.97L123.8,767.01ZM123.8,768.82L129.51,768.71L135.22,768.61L140.93,768.52L146.63,768.43L152.34,768.35L158.05,768.27L163.76,768.2L169.47,768.14L175.18,768.08L180.88,768.02L186.59,767.96L192.3,767.91L198.01,767.86L203.72,767.82L209.43,767.77L215.13,767.73L220.84,767.69L226.55,767.65L232.26,767.62L237.97,767.58L243.68,767.55L249.38,767.52L255.09,767.49L260.8,767.46L260.8,768.36L255.09,768.41L249.38,768.46L243.68,768.52L237.97,768.57L232.26,768.63L226.55,768.69L220.84,768.75L215.13,768.82L209.43,768.89L203.72,768.96L198.01,769.04L192.3,769.12L186.59,769.21L180.88,769.3L175.18,769.39L169.47,769.5L163.76,769.61L158.05,769.72L152.34,769.85L146.63,769.98L140.93,770.13L135.22,770.28L129.51,770.45L123.8,770.63ZM123.8,772.44L129.51,772.19L135.22,771.95L140.93,771.74L146.63,771.54L152.34,771.35L158.05,771.17L163.76,771.01L169.47,770.86L175.18,770.71L180.88,770.58L186.59,770.45L192.3,770.33L198.01,770.21L203.72,770.1L209.43,770L215.13,769.9L220.84,769.81L226.55,769.72L232.26,769.64L237.97,769.56L243.68,769.48L249.38,769.41L255.09,769.34L260.8,769.27L260.8,770.18L255.09,770.26L249.38,770.35L243.68,770.45L237.97,770.55L232.26,770.65L226.55,770.76L220.84,770.87L215.13,770.99L209.43,771.12L203.72,771.25L198.01,771.39L192.3,771.54L186.59,771.69L180.88,771.86L175.18,772.03L169.47,772.21L163.76,772.41L158.05,772.62L152.34,772.85L146.63,773.09L140.93,773.35L135.22,773.63L129.51,773.93L123.8,774.25ZM123.8,776.06L129.51,775.67L135.22,775.3L140.93,774.96L146.63,774.64L152.34,774.35L158.05,774.07L163.76,773.81L169.47,773.57L175.18,773.35L180.88,773.13L186.59,772.93L192.3,772.74L198.01,772.56L203.72,772.39L209.43,772.23L215.13,772.08L220.84,771.93L226.55,771.79L232.26,771.66L237.97,771.54L243.68,771.41L249.38,771.3L255.09,771.19L260.8,771.08L260.8,771.99L255.09,772.11L249.38,772.24L243.68,772.38L237.97,772.52L232.26,772.67L226.55,772.83L220.84,772.99L215.13,773.17L209.43,773.35L203.72,773.54L198.01,773.74L192.3,773.95L186.59,774.18L180.88,774.41L175.18,774.66L169.47,774.93L163.76,775.22L158.05,775.52L152.34,775.85L146.63,776.19L140.93,776.57L135.22,776.97L129.51,777.41L123.8,777.88ZM123.8,779.69L129.51,779.14L135.22,778.64L140.93,778.18L146.63,777.75L152.34,777.35L158.05,776.97L163.76,776.62L169.47,776.29L175.18,775.98L180.88,775.69L186.59,775.42L192.3,775.16L198.01,774.91L203.72,774.68L209.43,774.46L215.13,774.25L220.84,774.05L226.55,773.86L232.26,773.68L237.97,773.51L243.68,773.35L249.38,773.19L255.09,773.04L260.8,772.89L260.8,773.8L255.09,773.96L249.38,774.13L243.68,774.31L237.97,774.5L232.26,774.7L226.55,774.9L220.84,775.11L215.13,775.34L209.43,775.58L203.72,775.83L198.01,776.09L192.3,776.37L186.59,776.66L180.88,776.97L175.18,777.3L169.47,777.65L163.76,778.02L158.05,778.42L152.34,778.84L146.63,779.3L140.93,779.79L135.22,780.32L129.51,780.88L123.8,781.5Z" fill="#000"/>
<path d="M254.4,912.1L255.02,906.39L255.58,900.68L256.11,894.98L256.6,889.27L257.06,883.56L257.48,877.85L257.88,872.14L258.25,866.43L258.6,860.73L258.93,855.02L259.24,849.31L259.53,843.6L259.81,837.89L260.07,832.18L260.32,826.48L260.56,820.77L260.79,815.06L261,809.35L261.2,803.64L261.4,797.93L261.59,792.23L261.77,786.52L261.94,780.81L262.1,775.1L263.01,775.1L262.86,780.81L262.71,786.52L262.55,792.23L262.39,797.93L262.22,803.64L262.04,809.35L261.85,815.06L261.65,820.77L261.44,826.48L261.22,832.18L260.99,837.89L260.74,843.6L260.48,849.31L260.21,855.02L259.92,860.73L259.61,866.43L259.28,872.14L258.93,877.85L258.55,883.56L258.15,889.27L257.72,894.98L257.26,900.68L256.76,906.39L256.21,912.1ZM258.02,912.1L258.49,906.39L258.93,900.68L259.33,894.98L259.71,889.27L260.05,883.56L260.38,877.85L260.68,872.14L260.97,866.43L261.24,860.73L261.49,855.02L261.72,849.31L261.95,843.6L262.16,837.89L262.36,832.18L262.55,826.48L262.73,820.77L262.91,815.06L263.07,809.35L263.23,803.64L263.38,797.93L263.52,792.23L263.66,786.52L263.79,780.81L263.91,775.1L264.82,775.1L264.71,780.81L264.6,786.52L264.49,792.23L264.36,797.93L264.24,803.64L264.11,809.35L263.97,815.06L263.82,820.77L263.67,826.48L263.51,832.18L263.34,837.89L263.16,843.6L262.97,849.31L262.77,855.02L262.55,860.73L262.33,866.43L262.09,872.14L261.83,877.85L261.55,883.56L261.26,889.27L260.94,894.98L260.6,900.68L260.23,906.39L259.84,912.1ZM261.65,912.1L261.97,906.39L262.27,900.68L262.55,894.98L262.81,889.27L263.05,883.56L263.28,877.85L263.49,872.14L263.69,866.43L263.87,860.73L264.04,855.02L264.21,849.31L264.36,843.6L264.51,837.89L264.65,832.18L264.78,826.48L264.91,820.77L265.03,815.06L265.14,809.35L265.25,803.64L265.35,797.93L265.45,792.23L265.55,786.52L265.64,780.81L265.72,775.1L266.63,775.1L266.56,780.81L266.49,786.52L266.42,792.23L266.34,797.93L266.26,803.64L266.18,809.35L266.09,815.06L266,820.77L265.9,826.48L265.8,832.18L265.69,837.89L265.57,843.6L265.45,849.31L265.32,855.02L265.19,860.73L265.04,866.43L264.89,872.14L264.73,877.85L264.55,883.56L264.36,889.27L264.16,894.98L263.95,900.68L263.71,906.39L263.46,912.1ZM265.27,912.1L265.45,906.39L265.62,900.68L265.77,894.98L265.92,889.27L266.05,883.56L266.18,877.85L266.29,872.14L266.4,866.43L266.51,860.73L266.6,855.02L266.69,849.31L266.78,843.6L266.86,837.89L266.94,832.18L267.01,826.48L267.08,820.77L267.15,815.06L267.21,809.35L267.27,803.64L267.33,797.93L267.38,792.23L267.44,786.52L267.49,780.81L267.54,775.1L268.44,775.1L268.41,780.81L268.38,786.52L268.35,792.23L268.32,797.93L268.28,803.64L268.25,809.35L268.21,815.06L268.17,820.77L268.13,826.48L268.08,832.18L268.04,837.89L267.99,843.6L267.94,849.31L267.88,855.02L267.82,860.73L267.76,866.43L267.7,872.14L267.63,877.85L267.55,883.56L267.47,889.27L267.38,894.98L267.29,900.68L267.19,906.39L267.08,912.1ZM268.89,912.1L268.93,906.39L268.96,900.68L268.99,894.98L269.02,889.27L269.05,883.56L269.08,877.85L269.1,872.14L269.12,866.43L269.14,860.73L269.16,855.02L269.18,849.31L269.2,843.6L269.21,837.89L269.23,832.18L269.24,826.48L269.26,820.77L269.27,815.06L269.28,809.35L269.29,803.64L269.31,797.93L269.32,792.23L269.33,786.52L269.34,780.81L269.35,775.1L270.25,775.1L270.26,780.81L270.27,786.52L270.28,792.23L270.29,797.93L270.31,803.64L270.32,809.35L270.33,815.06L270.34,820.77L270.36,826.48L270.37,832.18L270.39,837.89L270.4,843.6L270.42,849.31L270.44,855.02L270.46,860.73L270.48,866.43L270.5,872.14L270.52,877.85L270.55,883.56L270.58,889.27L270.61,894.98L270.64,900.68L270.67,906.39L270.71,912.1ZM272.52,912.1L272.41,906.39L272.31,900.68L272.22,894.98L272.13,889.27L272.05,883.56L271.97,877.85L271.9,872.14L271.84,866.43L271.78,860.73L271.72,855.02L271.66,849.31L271.61,843.6L271.56,837.89L271.52,832.18L271.47,826.48L271.43,820.77L271.39,815.06L271.35,809.35L271.32,803.64L271.28,797.93L271.25,792.23L271.22,786.52L271.19,780.81L271.16,775.1L272.06,775.1L272.11,780.81L272.16,786.52L272.22,792.23L272.27,797.93L272.33,803.64L272.39,809.35L272.45,815.06L272.52,820.77L272.59,826.48L272.66,832.18L272.74,837.89L272.82,843.6L272.91,849.31L273,855.02L273.09,860.73L273.2,866.43L273.31,872.14L273.42,877.85L273.55,883.56L273.68,889.27L273.83,894.98L273.98,900.68L274.15,906.39L274.33,912.1ZM276.14,912.1L275.89,906.39L275.65,900.68L275.44,894.98L275.24,889.27L275.05,883.56L274.87,877.85L274.71,872.14L274.56,866.43L274.41,860.73L274.28,855.02L274.15,849.31L274.03,843.6L273.91,837.89L273.8,832.18L273.7,826.48L273.6,820.77L273.51,815.06L273.42,809.35L273.34,803.64L273.26,797.93L273.18,792.23L273.11,786.52L273.04,780.81L272.97,775.1L273.88,775.1L273.96,780.81L274.05,786.52L274.15,792.23L274.25,797.93L274.35,803.64L274.46,809.35L274.57,815.06L274.69,820.77L274.82,826.48L274.95,832.18L275.09,837.89L275.24,843.6L275.39,849.31L275.56,855.02L275.73,860.73L275.91,866.43L276.11,872.14L276.32,877.85L276.55,883.56L276.79,889.27L277.05,894.98L277.33,900.68L277.63,906.39L277.95,912.1ZM279.76,912.1L279.37,906.39L279,900.68L278.66,894.98L278.34,889.27L278.05,883.56L277.77,877.85L277.51,872.14L277.27,866.43L277.05,860.73L276.83,855.02L276.63,849.31L276.44,843.6L276.26,837.89L276.09,832.18L275.93,826.48L275.78,820.77L275.63,815.06L275.49,809.35L275.36,803.64L275.24,797.93L275.11,792.23L275,786.52L274.89,780.81L274.78,775.1L275.69,775.1L275.81,780.81L275.94,786.52L276.08,792.23L276.22,797.93L276.37,803.64L276.53,809.35L276.69,815.06L276.87,820.77L277.05,826.48L277.24,832.18L277.44,837.89L277.65,843.6L277.88,849.31L278.11,855.02L278.36,860.73L278.63,866.43L278.92,872.14L279.22,877.85L279.55,883.56L279.89,889.27L280.27,894.98L280.67,900.68L281.11,906.39L281.58,912.1ZM283.39,912.1L282.84,906.39L282.34,900.68L281.88,894.98L281.45,889.27L281.05,883.56L280.67,877.85L280.32,872.14L279.99,866.43L279.68,860.73L279.39,855.02L279.12,849.31L278.86,843.6L278.61,837.89L278.38,832.18L278.16,826.48L277.95,820.77L277.75,815.06L277.56,809.35L277.38,803.64L277.21,797.93L277.05,792.23L276.89,786.52L276.74,780.81L276.59,775.1L277.5,775.1L277.66,780.81L277.83,786.52L278.01,792.23L278.2,797.93L278.4,803.64L278.6,809.35L278.81,815.06L279.04,820.77L279.28,826.48L279.53,832.18L279.79,837.89L280.07,843.6L280.36,849.31L280.67,855.02L281,860.73L281.35,866.43L281.72,872.14L282.12,877.85L282.54,883.56L283,889.27L283.49,894.98L284.02,900.68L284.58,906.39L285.2,912.1Z" fill="#000"/>
<path d="M277.8,620.1L277.48,625.81L277.18,631.52L276.91,637.23L276.66,642.93L276.42,648.64L276.2,654.35L275.99,660.06L275.8,665.77L275.62,671.48L275.45,677.18L275.29,682.89L275.13,688.6L274.99,694.31L274.85,700.02L274.72,705.73L274.6,711.43L274.48,717.14L274.37,722.85L274.27,728.56L274.16,734.27L274.07,739.98L273.97,745.68L273.89,751.39L273.8,757.1L273.33,757.1L273.4,751.39L273.48,745.68L273.56,739.98L273.65,734.27L273.74,728.56L273.83,722.85L273.93,717.14L274.04,711.43L274.14,705.73L274.26,700.02L274.38,694.31L274.51,688.6L274.64,682.89L274.78,677.18L274.93,671.48L275.09,665.77L275.26,660.06L275.45,654.35L275.64,648.64L275.85,642.93L276.07,637.23L276.32,631.52L276.58,625.81L276.86,620.1ZM275.92,620.1L275.67,625.81L275.45,631.52L275.24,637.23L275.04,642.93L274.86,648.64L274.69,654.35L274.54,660.06L274.39,665.77L274.25,671.48L274.12,677.18L273.99,682.89L273.88,688.6L273.77,694.31L273.66,700.02L273.56,705.73L273.47,711.43L273.38,717.14L273.3,722.85L273.21,728.56L273.14,734.27L273.06,739.98L272.99,745.68L272.92,751.39L272.86,757.1L272.39,757.1L272.44,751.39L272.5,745.68L272.56,739.98L272.62,734.27L272.69,728.56L272.76,722.85L272.83,717.14L272.91,711.43L272.99,705.73L273.07,700.02L273.16,694.31L273.25,688.6L273.35,682.89L273.45,677.18L273.56,671.48L273.68,665.77L273.81,660.06L273.94,654.35L274.08,648.64L274.24,642.93L274.4,637.23L274.58,631.52L274.77,625.81L274.98,620.1ZM274.04,620.1L273.87,625.81L273.71,631.52L273.56,637.23L273.43,642.93L273.31,648.64L273.19,654.35L273.08,660.06L272.98,665.77L272.88,671.48L272.79,677.18L272.7,682.89L272.62,688.6L272.55,694.31L272.47,700.02L272.41,705.73L272.34,711.43L272.28,717.14L272.22,722.85L272.16,728.56L272.11,734.27L272.06,739.98L272.01,745.68L271.96,751.39L271.92,757.1L271.45,757.1L271.48,751.39L271.52,745.68L271.56,739.98L271.6,734.27L271.64,728.56L271.68,722.85L271.73,717.14L271.78,711.43L271.83,705.73L271.88,700.02L271.94,694.31L272,688.6L272.06,682.89L272.13,677.18L272.2,671.48L272.27,665.77L272.35,660.06L272.44,654.35L272.53,648.64L272.62,642.93L272.73,637.23L272.84,631.52L272.96,625.81L273.09,620.1ZM272.15,620.1L272.06,625.81L271.97,631.52L271.89,637.23L271.82,642.93L271.75,648.64L271.68,654.35L271.62,660.06L271.56,665.77L271.51,671.48L271.46,677.18L271.41,682.89L271.37,688.6L271.33,694.31L271.29,700.02L271.25,705.73L271.21,711.43L271.18,717.14L271.14,722.85L271.11,728.56L271.08,734.27L271.05,739.98L271.03,745.68L271,751.39L270.98,757.1L270.51,757.1L270.52,751.39L270.54,745.68L270.55,739.98L270.57,734.27L270.59,728.56L270.61,722.85L270.63,717.14L270.65,711.43L270.67,705.73L270.69,700.02L270.72,694.31L270.74,688.6L270.77,682.89L270.8,677.18L270.83,671.48L270.86,665.77L270.89,660.06L270.93,654.35L270.97,648.64L271.01,642.93L271.05,637.23L271.1,631.52L271.16,625.81L271.21,620.1ZM270.27,620.1L270.25,625.81L270.23,631.52L270.22,637.23L270.2,642.93L270.19,648.64L270.18,654.35L270.16,660.06L270.15,665.77L270.14,671.48L270.13,677.18L270.12,682.89L270.11,688.6L270.11,694.31L270.1,700.02L270.09,705.73L270.08,711.43L270.08,717.14L270.07,722.85L270.06,728.56L270.06,734.27L270.05,739.98L270.05,745.68L270.04,751.39L270.04,757.1L269.56,757.1L269.56,751.39L269.55,745.68L269.55,739.98L269.54,734.27L269.54,728.56L269.53,722.85L269.52,717.14L269.52,711.43L269.51,705.73L269.5,700.02L269.49,694.31L269.49,688.6L269.48,682.89L269.47,677.18L269.46,671.48L269.45,665.77L269.44,660.06L269.42,654.35L269.41,648.64L269.4,642.93L269.38,637.23L269.37,631.52L269.35,625.81L269.33,620.1ZM268.39,620.1L268.44,625.81L268.5,631.52L268.55,637.23L268.59,642.93L268.63,648.64L268.67,654.35L268.71,660.06L268.74,665.77L268.77,671.48L268.8,677.18L268.83,682.89L268.86,688.6L268.88,694.31L268.91,700.02L268.93,705.73L268.95,711.43L268.97,717.14L268.99,722.85L269.01,728.56L269.03,734.27L269.05,739.98L269.06,745.68L269.08,751.39L269.09,757.1L268.62,757.1L268.6,751.39L268.57,745.68L268.55,739.98L268.52,734.27L268.49,728.56L268.46,722.85L268.42,717.14L268.39,711.43L268.35,705.73L268.31,700.02L268.27,694.31L268.23,688.6L268.19,682.89L268.14,677.18L268.09,671.48L268.04,665.77L267.98,660.06L267.92,654.35L267.85,648.64L267.78,642.93L267.71,637.23L267.63,631.52L267.54,625.81L267.45,620.1ZM266.51,620.1L266.64,625.81L266.76,631.52L266.87,637.23L266.98,642.93L267.07,648.64L267.16,654.35L267.25,660.06L267.33,665.77L267.4,671.48L267.47,677.18L267.54,682.89L267.6,688.6L267.66,694.31L267.72,700.02L267.77,705.73L267.82,711.43L267.87,717.14L267.92,722.85L267.96,728.56L268,734.27L268.04,739.98L268.08,745.68L268.12,751.39L268.15,757.1L267.68,757.1L267.64,751.39L267.59,745.68L267.54,739.98L267.49,734.27L267.44,728.56L267.38,722.85L267.32,717.14L267.26,711.43L267.19,705.73L267.13,700.02L267.05,694.31L266.98,688.6L266.9,682.89L266.81,677.18L266.72,671.48L266.62,665.77L266.52,660.06L266.41,654.35L266.29,648.64L266.17,642.93L266.04,637.23L265.89,631.52L265.73,625.81L265.56,620.1ZM264.62,620.1L264.83,625.81L265.02,631.52L265.2,637.23L265.36,642.93L265.52,648.64L265.66,654.35L265.79,660.06L265.92,665.77L266.04,671.48L266.15,677.18L266.25,682.89L266.35,688.6L266.44,694.31L266.53,700.02L266.61,705.73L266.69,711.43L266.77,717.14L266.84,722.85L266.91,728.56L266.98,734.27L267.04,739.98L267.1,745.68L267.16,751.39L267.21,757.1L266.74,757.1L266.68,751.39L266.61,745.68L266.54,739.98L266.46,734.27L266.39,728.56L266.3,722.85L266.22,717.14L266.13,711.43L266.04,705.73L265.94,700.02L265.83,694.31L265.72,688.6L265.61,682.89L265.48,677.18L265.35,671.48L265.21,665.77L265.06,660.06L264.91,654.35L264.74,648.64L264.56,642.93L264.36,637.23L264.15,631.52L263.93,625.81L263.68,620.1ZM262.74,620.1L263.02,625.81L263.28,631.52L263.53,637.23L263.75,642.93L263.96,648.64L264.15,654.35L264.34,660.06L264.51,665.77L264.67,671.48L264.82,677.18L264.96,682.89L265.09,688.6L265.22,694.31L265.34,700.02L265.46,705.73L265.56,711.43L265.67,717.14L265.77,722.85L265.86,728.56L265.95,734.27L266.04,739.98L266.12,745.68L266.2,751.39L266.27,757.1L265.8,757.1L265.71,751.39L265.63,745.68L265.53,739.98L265.44,734.27L265.33,728.56L265.23,722.85L265.12,717.14L265,711.43L264.88,705.73L264.75,700.02L264.61,694.31L264.47,688.6L264.31,682.89L264.15,677.18L263.98,671.48L263.8,665.77L263.61,660.06L263.4,654.35L263.18,648.64L262.94,642.93L262.69,637.23L262.42,631.52L262.12,625.81L261.8,620.1Z" fill="#1c1c1c"/>
<polygon points="278.1,620.1 277.61,628.66 277.18,637.23 276.79,645.79 276.44,654.35 276.12,662.91 275.84,671.48 275.57,680.04 275.33,688.6 275.11,697.16 274.91,705.73 274.72,714.29 274.54,722.85 274.38,731.41 274.23,739.98 274.08,748.54 273.95,757.1 265.65,757.1 265.52,748.54 265.37,739.98 265.22,731.41 265.06,722.85 264.88,714.29 264.69,705.73 264.49,697.16 264.27,688.6 264.03,680.04 263.76,671.48 263.48,662.91 263.16,654.35 262.81,645.79 262.42,637.23 261.99,628.66 261.5,620.1" fill="#8b8b8b" fill-opacity="0.6"/>
<path d="M415.8,774.1L410.09,773.78L404.38,773.48L398.68,773.21L392.97,772.96L387.26,772.72L381.55,772.5L375.84,772.29L370.13,772.1L364.43,771.92L358.72,771.75L353.01,771.59L347.3,771.43L341.59,771.29L335.88,771.15L330.18,771.02L324.47,770.9L318.76,770.78L313.05,770.67L307.34,770.57L301.63,770.46L295.93,770.37L290.22,770.27L284.51,770.19L278.8,770.1L278.8,769.63L284.51,769.7L290.22,769.78L295.93,769.86L301.63,769.95L307.34,770.04L313.05,770.13L318.76,770.23L324.47,770.34L330.18,770.44L335.88,770.56L341.59,770.68L347.3,770.81L353.01,770.94L358.72,771.08L364.43,771.23L370.13,771.39L375.84,771.56L381.55,771.75L387.26,771.94L392.97,772.15L398.68,772.37L404.38,772.62L410.09,772.88L415.8,773.16ZM415.8,772.22L410.09,771.97L404.38,771.75L398.68,771.54L392.97,771.34L387.26,771.16L381.55,770.99L375.84,770.84L370.13,770.69L364.43,770.55L358.72,770.42L353.01,770.29L347.3,770.18L341.59,770.07L335.88,769.96L330.18,769.86L324.47,769.77L318.76,769.68L313.05,769.6L307.34,769.51L301.63,769.44L295.93,769.36L290.22,769.29L284.51,769.22L278.8,769.16L278.8,768.69L284.51,768.74L290.22,768.8L295.93,768.86L301.63,768.92L307.34,768.99L313.05,769.06L318.76,769.13L324.47,769.21L330.18,769.29L335.88,769.37L341.59,769.46L347.3,769.55L353.01,769.65L358.72,769.75L364.43,769.86L370.13,769.98L375.84,770.11L381.55,770.24L387.26,770.38L392.97,770.54L398.68,770.7L404.38,770.88L410.09,771.07L415.8,771.28ZM415.8,770.34L410.09,770.17L404.38,770.01L398.68,769.86L392.97,769.73L387.26,769.61L381.55,769.49L375.84,769.38L370.13,769.28L364.43,769.18L358.72,769.09L353.01,769L347.3,768.92L341.59,768.85L335.88,768.77L330.18,768.71L324.47,768.64L318.76,768.58L313.05,768.52L307.34,768.46L301.63,768.41L295.93,768.36L290.22,768.31L284.51,768.26L278.8,768.22L278.8,767.75L284.51,767.78L290.22,767.82L295.93,767.86L301.63,767.9L307.34,767.94L313.05,767.98L318.76,768.03L324.47,768.08L330.18,768.13L335.88,768.18L341.59,768.24L347.3,768.3L353.01,768.36L358.72,768.43L364.43,768.5L370.13,768.57L375.84,768.65L381.55,768.74L387.26,768.83L392.97,768.92L398.68,769.03L404.38,769.14L410.09,769.26L415.8,769.39ZM415.8,768.45L410.09,768.36L404.38,768.27L398.68,768.19L392.97,768.12L387.26,768.05L381.55,767.98L375.84,767.92L370.13,767.86L364.43,767.81L358.72,767.76L353.01,767.71L347.3,767.67L341.59,767.63L335.88,767.59L330.18,767.55L324.47,767.51L318.76,767.48L313.05,767.44L307.34,767.41L301.63,767.38L295.93,767.35L290.22,767.33L284.51,767.3L278.8,767.28L278.8,766.81L284.51,766.82L290.22,766.84L295.93,766.85L301.63,766.87L307.34,766.89L313.05,766.91L318.76,766.93L324.47,766.95L330.18,766.97L335.88,766.99L341.59,767.02L347.3,767.04L353.01,767.07L358.72,767.1L364.43,767.13L370.13,767.16L375.84,767.19L381.55,767.23L387.26,767.27L392.97,767.31L398.68,767.35L404.38,767.4L410.09,767.46L415.8,767.51ZM415.8,766.57L410.09,766.55L404.38,766.53L398.68,766.52L392.97,766.5L387.26,766.49L381.55,766.48L375.84,766.46L370.13,766.45L364.43,766.44L358.72,766.43L353.01,766.42L347.3,766.41L341.59,766.41L335.88,766.4L330.18,766.39L324.47,766.38L318.76,766.38L313.05,766.37L307.34,766.36L301.63,766.36L295.93,766.35L290.22,766.35L284.51,766.34L278.8,766.34L278.8,765.86L284.51,765.86L290.22,765.85L295.93,765.85L301.63,765.84L307.34,765.84L313.05,765.83L318.76,765.82L324.47,765.82L330.18,765.81L335.88,765.8L341.59,765.79L347.3,765.79L353.01,765.78L358.72,765.77L364.43,765.76L370.13,765.75L375.84,765.74L381.55,765.72L387.26,765.71L392.97,765.7L398.68,765.68L404.38,765.67L410.09,765.65L415.8,765.63ZM415.8,764.69L410.09,764.74L404.38,764.8L398.68,764.85L392.97,764.89L387.26,764.93L381.55,764.97L375.84,765.01L370.13,765.04L364.43,765.07L358.72,765.1L353.01,765.13L347.3,765.16L341.59,765.18L335.88,765.21L330.18,765.23L324.47,765.25L318.76,765.27L313.05,765.29L307.34,765.31L301.63,765.33L295.93,765.35L290.22,765.36L284.51,765.38L278.8,765.39L278.8,764.92L284.51,764.9L290.22,764.87L295.93,764.85L301.63,764.82L307.34,764.79L313.05,764.76L318.76,764.72L324.47,764.69L330.18,764.65L335.88,764.61L341.59,764.57L347.3,764.53L353.01,764.49L358.72,764.44L364.43,764.39L370.13,764.34L375.84,764.28L381.55,764.22L387.26,764.15L392.97,764.08L398.68,764.01L404.38,763.93L410.09,763.84L415.8,763.75ZM415.8,762.81L410.09,762.94L404.38,763.06L398.68,763.17L392.97,763.28L387.26,763.37L381.55,763.46L375.84,763.55L370.13,763.63L364.43,763.7L358.72,763.77L353.01,763.84L347.3,763.9L341.59,763.96L335.88,764.02L330.18,764.07L324.47,764.12L318.76,764.17L313.05,764.22L307.34,764.26L301.63,764.3L295.93,764.34L290.22,764.38L284.51,764.42L278.8,764.45L278.8,763.98L284.51,763.94L290.22,763.89L295.93,763.84L301.63,763.79L307.34,763.74L313.05,763.68L318.76,763.62L324.47,763.56L330.18,763.49L335.88,763.43L341.59,763.35L347.3,763.28L353.01,763.2L358.72,763.11L364.43,763.02L370.13,762.92L375.84,762.82L381.55,762.71L387.26,762.59L392.97,762.47L398.68,762.34L404.38,762.19L410.09,762.03L415.8,761.86ZM415.8,760.92L410.09,761.13L404.38,761.32L398.68,761.5L392.97,761.66L387.26,761.82L381.55,761.96L375.84,762.09L370.13,762.22L364.43,762.34L358.72,762.45L353.01,762.55L347.3,762.65L341.59,762.74L335.88,762.83L330.18,762.91L324.47,762.99L318.76,763.07L313.05,763.14L307.34,763.21L301.63,763.28L295.93,763.34L290.22,763.4L284.51,763.46L278.8,763.51L278.8,763.04L284.51,762.98L290.22,762.91L295.93,762.84L301.63,762.76L307.34,762.69L313.05,762.6L318.76,762.52L324.47,762.43L330.18,762.34L335.88,762.24L341.59,762.13L347.3,762.02L353.01,761.91L358.72,761.78L364.43,761.65L370.13,761.51L375.84,761.36L381.55,761.21L387.26,761.04L392.97,760.86L398.68,760.66L404.38,760.45L410.09,760.23L415.8,759.98ZM415.8,759.04L410.09,759.32L404.38,759.58L398.68,759.83L392.97,760.05L387.26,760.26L381.55,760.45L375.84,760.64L370.13,760.81L364.43,760.97L358.72,761.12L353.01,761.26L347.3,761.39L341.59,761.52L335.88,761.64L330.18,761.76L324.47,761.86L318.76,761.97L313.05,762.07L307.34,762.16L301.63,762.25L295.93,762.34L290.22,762.42L284.51,762.5L278.8,762.57L278.8,762.1L284.51,762.01L290.22,761.93L295.93,761.83L301.63,761.74L307.34,761.63L313.05,761.53L318.76,761.42L324.47,761.3L330.18,761.18L335.88,761.05L341.59,760.91L347.3,760.77L353.01,760.61L358.72,760.45L364.43,760.28L370.13,760.1L375.84,759.91L381.55,759.7L387.26,759.48L392.97,759.24L398.68,758.99L404.38,758.72L410.09,758.42L415.8,758.1Z" fill="#1c1c1c"/>
<polygon points="415.8,774.4 407.24,773.91 398.68,773.48 390.11,773.09 381.55,772.74 372.99,772.42 364.43,772.14 355.86,771.87 347.3,771.63 338.74,771.41 330.18,771.21 321.61,771.02 313.05,770.84 304.49,770.68 295.93,770.53 287.36,770.38 278.8,770.25 278.8,761.95 287.36,761.82 295.93,761.67 304.49,761.52 313.05,761.36 321.61,761.18 330.18,760.99 338.74,760.79 347.3,760.57 355.86,760.33 364.43,760.06 372.99,759.78 381.55,759.46 390.11,759.11 398.68,758.72 407.24,758.29 415.8,757.8" fill="#8b8b8b" fill-opacity="0.6"/>
<rect x="260.8" y="757.1" width="18" height="18" fill="#000"/>
<rect x="264.9" y="761.2" width="9.8" height="9.8" fill="#fff"/>
<line x1="236" y1="648" x2="249" y2="648" stroke="#000" stroke-width="2.1"/>
<text x="230.8" y="655" font-size="16.8" text-anchor="end" class="n">12</text>
<line x1="236" y1="675.2" x2="249" y2="675.2" stroke="#000" stroke-width="2.1"/>
<text x="230.8" y="683" font-size="16.8" text-anchor="end" class="n">14</text>
<line x1="236" y1="702.2" x2="249" y2="702.2" stroke="#000" stroke-width="2.1"/>
<text x="230.8" y="707.5" font-size="16.8" text-anchor="end" class="n">16</text>
<line x1="236" y1="729.8" x2="249" y2="729.8" stroke="#000" stroke-width="2.1"/>
<text x="230.8" y="735.5" font-size="16.8" text-anchor="end" class="n">18</text>
<line x1="146.9" y1="788.3" x2="146.9" y2="801.7" stroke="#000" stroke-width="2.1"/>
<text x="146.5" y="817.5" font-size="16.8" text-anchor="middle" class="n">6</text>
<line x1="174.1" y1="788.3" x2="174.1" y2="801.7" stroke="#000" stroke-width="2.1"/>
<text x="173.7" y="818" font-size="16.8" text-anchor="middle" class="n">7</text>
<line x1="201.5" y1="788.3" x2="201.5" y2="801.7" stroke="#000" stroke-width="2.1"/>
<text x="202.8" y="816.5" font-size="16.8" text-anchor="middle" class="n">8</text>
<line x1="228.8" y1="788.3" x2="228.8" y2="801.7" stroke="#000" stroke-width="2.1"/>
<text x="229.8" y="818.1" font-size="16.8" text-anchor="middle" class="n">9</text>
<line x1="306" y1="738.3" x2="306" y2="751.7" stroke="#000" stroke-width="2.1"/>
<text x="304.9" y="729.8" font-size="16.8" text-anchor="middle" class="n">18</text>
<line x1="333.3" y1="738.3" x2="333.3" y2="751.7" stroke="#000" stroke-width="2.1"/>
<text x="332" y="729.5" font-size="16.8" text-anchor="middle" class="n">16</text>
<line x1="360.7" y1="738.3" x2="360.7" y2="751.7" stroke="#000" stroke-width="2.1"/>
<text x="359.2" y="729" font-size="16.8" text-anchor="middle" class="n">14</text>
<line x1="387.9" y1="738.3" x2="387.9" y2="751.7" stroke="#000" stroke-width="2.1"/>
<text x="387.2" y="728.7" font-size="16.8" text-anchor="middle" class="n">12</text>
<line x1="287.5" y1="801.5" x2="301" y2="801.5" stroke="#000" stroke-width="2.1"/>
<text x="305.4" y="806.8" font-size="16.8" text-anchor="start" class="n">9</text>
<line x1="287.5" y1="828.7" x2="301" y2="828.7" stroke="#000" stroke-width="2.1"/>
<text x="305.4" y="833.8" font-size="16.8" text-anchor="start" class="n">8</text>
<line x1="287.5" y1="856.2" x2="301" y2="856.2" stroke="#000" stroke-width="2.1"/>
<text x="306.8" y="863" font-size="16.8" text-anchor="start" class="n">7</text>
<line x1="287.5" y1="883.5" x2="301" y2="883.5" stroke="#000" stroke-width="2.1"/>
<text x="307.4" y="889.8" font-size="16.8" text-anchor="start" class="n">6</text>
<path d="M1680,781.5L1674.29,780.88L1668.58,780.32L1662.88,779.79L1657.17,779.3L1651.46,778.84L1645.75,778.42L1640.04,778.02L1634.33,777.65L1628.62,777.3L1622.92,776.97L1617.21,776.66L1611.5,776.37L1605.79,776.09L1600.08,775.83L1594.38,775.58L1588.67,775.34L1582.96,775.11L1577.25,774.9L1571.54,774.7L1565.83,774.5L1560.12,774.31L1554.42,774.13L1548.71,773.96L1543,773.8L1543,772.89L1548.71,773.04L1554.42,773.19L1560.12,773.35L1565.83,773.51L1571.54,773.68L1577.25,773.86L1582.96,774.05L1588.67,774.25L1594.38,774.46L1600.08,774.68L1605.79,774.91L1611.5,775.16L1617.21,775.42L1622.92,775.69L1628.62,775.98L1634.33,776.29L1640.04,776.62L1645.75,776.97L1651.46,777.35L1657.17,777.75L1662.88,778.18L1668.58,778.64L1674.29,779.14L1680,779.69ZM1680,777.88L1674.29,777.41L1668.58,776.97L1662.88,776.57L1657.17,776.19L1651.46,775.85L1645.75,775.52L1640.04,775.22L1634.33,774.93L1628.62,774.66L1622.92,774.41L1617.21,774.18L1611.5,773.95L1605.79,773.74L1600.08,773.54L1594.38,773.35L1588.67,773.17L1582.96,772.99L1577.25,772.83L1571.54,772.67L1565.83,772.52L1560.12,772.38L1554.42,772.24L1548.71,772.11L1543,771.99L1543,771.08L1548.71,771.19L1554.42,771.3L1560.12,771.41L1565.83,771.54L1571.54,771.66L1577.25,771.79L1582.96,771.93L1588.67,772.08L1594.38,772.23L1600.08,772.39L1605.79,772.56L1611.5,772.74L1617.21,772.93L1622.92,773.13L1628.62,773.35L1634.33,773.57L1640.04,773.81L1645.75,774.07L1651.46,774.35L1657.17,774.64L1662.88,774.96L1668.58,775.3L1674.29,775.67L1680,776.06ZM1680,774.25L1674.29,773.93L1668.58,773.63L1662.88,773.35L1657.17,773.09L1651.46,772.85L1645.75,772.62L1640.04,772.41L1634.33,772.21L1628.62,772.03L1622.92,771.86L1617.21,771.69L1611.5,771.54L1605.79,771.39L1600.08,771.25L1594.38,771.12L1588.67,770.99L1582.96,770.87L1577.25,770.76L1571.54,770.65L1565.83,770.55L1560.12,770.45L1554.42,770.35L1548.71,770.26L1543,770.18L1543,769.27L1548.71,769.34L1554.42,769.41L1560.12,769.48L1565.83,769.56L1571.54,769.64L1577.25,769.72L1582.96,769.81L1588.67,769.9L1594.38,770L1600.08,770.1L1605.79,770.21L1611.5,770.33L1617.21,770.45L1622.92,770.58L1628.62,770.71L1634.33,770.86L1640.04,771.01L1645.75,771.17L1651.46,771.35L1657.17,771.54L1662.88,771.74L1668.58,771.95L1674.29,772.19L1680,772.44ZM1680,770.63L1674.29,770.45L1668.58,770.28L1662.88,770.13L1657.17,769.98L1651.46,769.85L1645.75,769.72L1640.04,769.61L1634.33,769.5L1628.62,769.39L1622.92,769.3L1617.21,769.21L1611.5,769.12L1605.79,769.04L1600.08,768.96L1594.38,768.89L1588.67,768.82L1582.96,768.75L1577.25,768.69L1571.54,768.63L1565.83,768.57L1560.12,768.52L1554.42,768.46L1548.71,768.41L1543,768.36L1543,767.46L1548.71,767.49L1554.42,767.52L1560.12,767.55L1565.83,767.58L1571.54,767.62L1577.25,767.65L1582.96,767.69L1588.67,767.73L1594.38,767.77L1600.08,767.82L1605.79,767.86L1611.5,767.91L1617.21,767.96L1622.92,768.02L1628.62,768.08L1634.33,768.14L1640.04,768.2L1645.75,768.27L1651.46,768.35L1657.17,768.43L1662.88,768.52L1668.58,768.61L1674.29,768.71L1680,768.82ZM1680,767.01L1674.29,766.97L1668.58,766.94L1662.88,766.91L1657.17,766.88L1651.46,766.85L1645.75,766.82L1640.04,766.8L1634.33,766.78L1628.62,766.76L1622.92,766.74L1617.21,766.72L1611.5,766.7L1605.79,766.69L1600.08,766.67L1594.38,766.66L1588.67,766.64L1582.96,766.63L1577.25,766.62L1571.54,766.61L1565.83,766.59L1560.12,766.58L1554.42,766.57L1548.71,766.56L1543,766.55L1543,765.65L1548.71,765.64L1554.42,765.63L1560.12,765.62L1565.83,765.61L1571.54,765.59L1577.25,765.58L1582.96,765.57L1588.67,765.56L1594.38,765.54L1600.08,765.53L1605.79,765.51L1611.5,765.5L1617.21,765.48L1622.92,765.46L1628.62,765.44L1634.33,765.42L1640.04,765.4L1645.75,765.38L1651.46,765.35L1657.17,765.32L1662.88,765.29L1668.58,765.26L1674.29,765.23L1680,765.19ZM1680,763.38L1674.29,763.49L1668.58,763.59L1662.88,763.68L1657.17,763.77L1651.46,763.85L1645.75,763.93L1640.04,764L1634.33,764.06L1628.62,764.12L1622.92,764.18L1617.21,764.24L1611.5,764.29L1605.79,764.34L1600.08,764.38L1594.38,764.43L1588.67,764.47L1582.96,764.51L1577.25,764.55L1571.54,764.58L1565.83,764.62L1560.12,764.65L1554.42,764.68L1548.71,764.71L1543,764.74L1543,763.84L1548.71,763.79L1554.42,763.74L1560.12,763.68L1565.83,763.63L1571.54,763.57L1577.25,763.51L1582.96,763.45L1588.67,763.38L1594.38,763.31L1600.08,763.24L1605.79,763.16L1611.5,763.08L1617.21,762.99L1622.92,762.9L1628.62,762.81L1634.33,762.7L1640.04,762.59L1645.75,762.48L1651.46,762.35L1657.17,762.22L1662.88,762.07L1668.58,761.92L1674.29,761.75L1680,761.57ZM1680,759.76L1674.29,760.01L1668.58,760.25L1662.88,760.46L1657.17,760.66L1651.46,760.85L1645.75,761.03L1640.04,761.19L1634.33,761.34L1628.62,761.49L1622.92,761.62L1617.21,761.75L1611.5,761.87L1605.79,761.99L1600.08,762.1L1594.38,762.2L1588.67,762.3L1582.96,762.39L1577.25,762.48L1571.54,762.56L1565.83,762.64L1560.12,762.72L1554.42,762.79L1548.71,762.86L1543,762.93L1543,762.02L1548.71,761.94L1554.42,761.85L1560.12,761.75L1565.83,761.65L1571.54,761.55L1577.25,761.44L1582.96,761.33L1588.67,761.21L1594.38,761.08L1600.08,760.95L1605.79,760.81L1611.5,760.66L1617.21,760.51L1622.92,760.34L1628.62,760.17L1634.33,759.99L1640.04,759.79L1645.75,759.58L1651.46,759.35L1657.17,759.11L1662.88,758.85L1668.58,758.57L1674.29,758.27L1680,757.95ZM1680,756.14L1674.29,756.53L1668.58,756.9L1662.88,757.24L1657.17,757.56L1651.46,757.85L1645.75,758.13L1640.04,758.39L1634.33,758.63L1628.62,758.85L1622.92,759.07L1617.21,759.27L1611.5,759.46L1605.79,759.64L1600.08,759.81L1594.38,759.97L1588.67,760.12L1582.96,760.27L1577.25,760.41L1571.54,760.54L1565.83,760.66L1560.12,760.79L1554.42,760.9L1548.71,761.01L1543,761.12L1543,760.21L1548.71,760.09L1554.42,759.96L1560.12,759.82L1565.83,759.68L1571.54,759.53L1577.25,759.37L1582.96,759.21L1588.67,759.03L1594.38,758.85L1600.08,758.66L1605.79,758.46L1611.5,758.25L1617.21,758.02L1622.92,757.79L1628.62,757.54L1634.33,757.27L1640.04,756.98L1645.75,756.68L1651.46,756.35L1657.17,756.01L1662.88,755.63L1668.58,755.23L1674.29,754.79L1680,754.32ZM1680,752.51L1674.29,753.06L1668.58,753.56L1662.88,754.02L1657.17,754.45L1651.46,754.85L1645.75,755.23L1640.04,755.58L1634.33,755.91L1628.62,756.22L1622.92,756.51L1617.21,756.78L1611.5,757.04L1605.79,757.29L1600.08,757.52L1594.38,757.74L1588.67,757.95L1582.96,758.15L1577.25,758.34L1571.54,758.52L1565.83,758.69L1560.12,758.85L1554.42,759.01L1548.71,759.16L1543,759.31L1543,758.4L1548.71,758.24L1554.42,758.07L1560.12,757.89L1565.83,757.7L1571.54,757.5L1577.25,757.3L1582.96,757.09L1588.67,756.86L1594.38,756.62L1600.08,756.37L1605.79,756.11L1611.5,755.83L1617.21,755.54L1622.92,755.23L1628.62,754.9L1634.33,754.55L1640.04,754.18L1645.75,753.78L1651.46,753.36L1657.17,752.9L1662.88,752.41L1668.58,751.88L1674.29,751.32L1680,750.7Z" fill="#000"/>
<path d="M1518.6,912.1L1519.22,906.39L1519.78,900.68L1520.31,894.98L1520.8,889.27L1521.26,883.56L1521.68,877.85L1522.08,872.14L1522.45,866.43L1522.8,860.73L1523.13,855.02L1523.44,849.31L1523.73,843.6L1524.01,837.89L1524.27,832.18L1524.52,826.48L1524.76,820.77L1524.99,815.06L1525.2,809.35L1525.4,803.64L1525.6,797.93L1525.79,792.23L1525.97,786.52L1526.14,780.81L1526.3,775.1L1527.21,775.1L1527.06,780.81L1526.91,786.52L1526.75,792.23L1526.59,797.93L1526.42,803.64L1526.24,809.35L1526.05,815.06L1525.85,820.77L1525.64,826.48L1525.42,832.18L1525.19,837.89L1524.94,843.6L1524.68,849.31L1524.41,855.02L1524.12,860.73L1523.81,866.43L1523.48,872.14L1523.13,877.85L1522.75,883.56L1522.35,889.27L1521.92,894.98L1521.46,900.68L1520.96,906.39L1520.41,912.1ZM1522.22,912.1L1522.69,906.39L1523.13,900.68L1523.53,894.98L1523.91,889.27L1524.25,883.56L1524.58,877.85L1524.88,872.14L1525.17,866.43L1525.44,860.73L1525.69,855.02L1525.92,849.31L1526.15,843.6L1526.36,837.89L1526.56,832.18L1526.75,826.48L1526.93,820.77L1527.11,815.06L1527.27,809.35L1527.43,803.64L1527.58,797.93L1527.72,792.23L1527.86,786.52L1527.99,780.81L1528.11,775.1L1529.02,775.1L1528.91,780.81L1528.8,786.52L1528.69,792.23L1528.56,797.93L1528.44,803.64L1528.31,809.35L1528.17,815.06L1528.02,820.77L1527.87,826.48L1527.71,832.18L1527.54,837.89L1527.36,843.6L1527.17,849.31L1526.97,855.02L1526.75,860.73L1526.53,866.43L1526.29,872.14L1526.03,877.85L1525.75,883.56L1525.46,889.27L1525.14,894.98L1524.8,900.68L1524.43,906.39L1524.04,912.1ZM1525.85,912.1L1526.17,906.39L1526.47,900.68L1526.75,894.98L1527.01,889.27L1527.25,883.56L1527.48,877.85L1527.69,872.14L1527.89,866.43L1528.07,860.73L1528.24,855.02L1528.41,849.31L1528.56,843.6L1528.71,837.89L1528.85,832.18L1528.98,826.48L1529.11,820.77L1529.23,815.06L1529.34,809.35L1529.45,803.64L1529.55,797.93L1529.65,792.23L1529.75,786.52L1529.84,780.81L1529.92,775.1L1530.83,775.1L1530.76,780.81L1530.69,786.52L1530.62,792.23L1530.54,797.93L1530.46,803.64L1530.38,809.35L1530.29,815.06L1530.2,820.77L1530.1,826.48L1530,832.18L1529.89,837.89L1529.77,843.6L1529.65,849.31L1529.52,855.02L1529.39,860.73L1529.24,866.43L1529.09,872.14L1528.93,877.85L1528.75,883.56L1528.56,889.27L1528.36,894.98L1528.15,900.68L1527.91,906.39L1527.66,912.1ZM1529.47,912.1L1529.65,906.39L1529.82,900.68L1529.97,894.98L1530.12,889.27L1530.25,883.56L1530.38,877.85L1530.49,872.14L1530.6,866.43L1530.71,860.73L1530.8,855.02L1530.89,849.31L1530.98,843.6L1531.06,837.89L1531.14,832.18L1531.21,826.48L1531.28,820.77L1531.35,815.06L1531.41,809.35L1531.47,803.64L1531.53,797.93L1531.58,792.23L1531.64,786.52L1531.69,780.81L1531.74,775.1L1532.64,775.1L1532.61,780.81L1532.58,786.52L1532.55,792.23L1532.52,797.93L1532.48,803.64L1532.45,809.35L1532.41,815.06L1532.37,820.77L1532.33,826.48L1532.28,832.18L1532.24,837.89L1532.19,843.6L1532.14,849.31L1532.08,855.02L1532.02,860.73L1531.96,866.43L1531.9,872.14L1531.83,877.85L1531.75,883.56L1531.67,889.27L1531.58,894.98L1531.49,900.68L1531.39,906.39L1531.28,912.1ZM1533.09,912.1L1533.13,906.39L1533.16,900.68L1533.19,894.98L1533.22,889.27L1533.25,883.56L1533.28,877.85L1533.3,872.14L1533.32,866.43L1533.34,860.73L1533.36,855.02L1533.38,849.31L1533.4,843.6L1533.41,837.89L1533.43,832.18L1533.44,826.48L1533.46,820.77L1533.47,815.06L1533.48,809.35L1533.49,803.64L1533.51,797.93L1533.52,792.23L1533.53,786.52L1533.54,780.81L1533.55,775.1L1534.45,775.1L1534.46,780.81L1534.47,786.52L1534.48,792.23L1534.49,797.93L1534.51,803.64L1534.52,809.35L1534.53,815.06L1534.54,820.77L1534.56,826.48L1534.57,832.18L1534.59,837.89L1534.6,843.6L1534.62,849.31L1534.64,855.02L1534.66,860.73L1534.68,866.43L1534.7,872.14L1534.72,877.85L1534.75,883.56L1534.78,889.27L1534.81,894.98L1534.84,900.68L1534.87,906.39L1534.91,912.1ZM1536.72,912.1L1536.61,906.39L1536.51,900.68L1536.42,894.98L1536.33,889.27L1536.25,883.56L1536.17,877.85L1536.1,872.14L1536.04,866.43L1535.98,860.73L1535.92,855.02L1535.86,849.31L1535.81,843.6L1535.76,837.89L1535.72,832.18L1535.67,826.48L1535.63,820.77L1535.59,815.06L1535.55,809.35L1535.52,803.64L1535.48,797.93L1535.45,792.23L1535.42,786.52L1535.39,780.81L1535.36,775.1L1536.26,775.1L1536.31,780.81L1536.36,786.52L1536.42,792.23L1536.47,797.93L1536.53,803.64L1536.59,809.35L1536.65,815.06L1536.72,820.77L1536.79,826.48L1536.86,832.18L1536.94,837.89L1537.02,843.6L1537.11,849.31L1537.2,855.02L1537.29,860.73L1537.4,866.43L1537.51,872.14L1537.62,877.85L1537.75,883.56L1537.88,889.27L1538.03,894.98L1538.18,900.68L1538.35,906.39L1538.53,912.1ZM1540.34,912.1L1540.09,906.39L1539.85,900.68L1539.64,894.98L1539.44,889.27L1539.25,883.56L1539.07,877.85L1538.91,872.14L1538.76,866.43L1538.61,860.73L1538.48,855.02L1538.35,849.31L1538.23,843.6L1538.11,837.89L1538,832.18L1537.9,826.48L1537.8,820.77L1537.71,815.06L1537.62,809.35L1537.54,803.64L1537.46,797.93L1537.38,792.23L1537.31,786.52L1537.24,780.81L1537.17,775.1L1538.08,775.1L1538.16,780.81L1538.25,786.52L1538.35,792.23L1538.45,797.93L1538.55,803.64L1538.66,809.35L1538.77,815.06L1538.89,820.77L1539.02,826.48L1539.15,832.18L1539.29,837.89L1539.44,843.6L1539.59,849.31L1539.76,855.02L1539.93,860.73L1540.11,866.43L1540.31,872.14L1540.52,877.85L1540.75,883.56L1540.99,889.27L1541.25,894.98L1541.53,900.68L1541.83,906.39L1542.15,912.1ZM1543.96,912.1L1543.57,906.39L1543.2,900.68L1542.86,894.98L1542.54,889.27L1542.25,883.56L1541.97,877.85L1541.71,872.14L1541.47,866.43L1541.25,860.73L1541.03,855.02L1540.83,849.31L1540.64,843.6L1540.46,837.89L1540.29,832.18L1540.13,826.48L1539.98,820.77L1539.83,815.06L1539.69,809.35L1539.56,803.64L1539.44,797.93L1539.31,792.23L1539.2,786.52L1539.09,780.81L1538.98,775.1L1539.89,775.1L1540.01,780.81L1540.14,786.52L1540.28,792.23L1540.42,797.93L1540.57,803.64L1540.73,809.35L1540.89,815.06L1541.07,820.77L1541.25,826.48L1541.44,832.18L1541.64,837.89L1541.85,843.6L1542.08,849.31L1542.31,855.02L1542.56,860.73L1542.83,866.43L1543.12,872.14L1543.42,877.85L1543.75,883.56L1544.09,889.27L1544.47,894.98L1544.87,900.68L1545.31,906.39L1545.78,912.1ZM1547.59,912.1L1547.04,906.39L1546.54,900.68L1546.08,894.98L1545.65,889.27L1545.25,883.56L1544.87,877.85L1544.52,872.14L1544.19,866.43L1543.88,860.73L1543.59,855.02L1543.32,849.31L1543.06,843.6L1542.81,837.89L1542.58,832.18L1542.36,826.48L1542.15,820.77L1541.95,815.06L1541.76,809.35L1541.58,803.64L1541.41,797.93L1541.25,792.23L1541.09,786.52L1540.94,780.81L1540.79,775.1L1541.7,775.1L1541.86,780.81L1542.03,786.52L1542.21,792.23L1542.4,797.93L1542.6,803.64L1542.8,809.35L1543.01,815.06L1543.24,820.77L1543.48,826.48L1543.73,832.18L1543.99,837.89L1544.27,843.6L1544.56,849.31L1544.87,855.02L1545.2,860.73L1545.55,866.43L1545.92,872.14L1546.32,877.85L1546.74,883.56L1547.2,889.27L1547.69,894.98L1548.22,900.68L1548.78,906.39L1549.4,912.1Z" fill="#000"/>
<path d="M1542,620.1L1541.68,625.81L1541.38,631.52L1541.11,637.23L1540.86,642.93L1540.62,648.64L1540.4,654.35L1540.19,660.06L1540,665.77L1539.82,671.48L1539.65,677.18L1539.49,682.89L1539.33,688.6L1539.19,694.31L1539.05,700.02L1538.92,705.73L1538.8,711.43L1538.68,717.14L1538.57,722.85L1538.47,728.56L1538.36,734.27L1538.27,739.98L1538.17,745.68L1538.09,751.39L1538,757.1L1537.53,757.1L1537.6,751.39L1537.68,745.68L1537.76,739.98L1537.85,734.27L1537.94,728.56L1538.03,722.85L1538.13,717.14L1538.24,711.43L1538.34,705.73L1538.46,700.02L1538.58,694.31L1538.71,688.6L1538.84,682.89L1538.98,677.18L1539.13,671.48L1539.29,665.77L1539.46,660.06L1539.65,654.35L1539.84,648.64L1540.05,642.93L1540.27,637.23L1540.52,631.52L1540.78,625.81L1541.06,620.1ZM1540.12,620.1L1539.87,625.81L1539.65,631.52L1539.44,637.23L1539.24,642.93L1539.06,648.64L1538.89,654.35L1538.74,660.06L1538.59,665.77L1538.45,671.48L1538.32,677.18L1538.19,682.89L1538.08,688.6L1537.97,694.31L1537.86,700.02L1537.76,705.73L1537.67,711.43L1537.58,717.14L1537.5,722.85L1537.41,728.56L1537.34,734.27L1537.26,739.98L1537.19,745.68L1537.12,751.39L1537.06,757.1L1536.59,757.1L1536.64,751.39L1536.7,745.68L1536.76,739.98L1536.82,734.27L1536.89,728.56L1536.96,722.85L1537.03,717.14L1537.11,711.43L1537.19,705.73L1537.27,700.02L1537.36,694.31L1537.45,688.6L1537.55,682.89L1537.65,677.18L1537.76,671.48L1537.88,665.77L1538.01,660.06L1538.14,654.35L1538.28,648.64L1538.44,642.93L1538.6,637.23L1538.78,631.52L1538.97,625.81L1539.18,620.1ZM1538.24,620.1L1538.07,625.81L1537.91,631.52L1537.76,637.23L1537.63,642.93L1537.51,648.64L1537.39,654.35L1537.28,660.06L1537.18,665.77L1537.08,671.48L1536.99,677.18L1536.9,682.89L1536.82,688.6L1536.75,694.31L1536.67,700.02L1536.61,705.73L1536.54,711.43L1536.48,717.14L1536.42,722.85L1536.36,728.56L1536.31,734.27L1536.26,739.98L1536.21,745.68L1536.16,751.39L1536.12,757.1L1535.65,757.1L1535.68,751.39L1535.72,745.68L1535.76,739.98L1535.8,734.27L1535.84,728.56L1535.88,722.85L1535.93,717.14L1535.98,711.43L1536.03,705.73L1536.08,700.02L1536.14,694.31L1536.2,688.6L1536.26,682.89L1536.33,677.18L1536.4,671.48L1536.47,665.77L1536.55,660.06L1536.64,654.35L1536.73,648.64L1536.82,642.93L1536.93,637.23L1537.04,631.52L1537.16,625.81L1537.29,620.1ZM1536.35,620.1L1536.26,625.81L1536.17,631.52L1536.09,637.23L1536.02,642.93L1535.95,648.64L1535.88,654.35L1535.82,660.06L1535.76,665.77L1535.71,671.48L1535.66,677.18L1535.61,682.89L1535.57,688.6L1535.53,694.31L1535.49,700.02L1535.45,705.73L1535.41,711.43L1535.38,717.14L1535.34,722.85L1535.31,728.56L1535.28,734.27L1535.25,739.98L1535.23,745.68L1535.2,751.39L1535.18,757.1L1534.71,757.1L1534.72,751.39L1534.74,745.68L1534.75,739.98L1534.77,734.27L1534.79,728.56L1534.81,722.85L1534.83,717.14L1534.85,711.43L1534.87,705.73L1534.89,700.02L1534.92,694.31L1534.94,688.6L1534.97,682.89L1535,677.18L1535.03,671.48L1535.06,665.77L1535.09,660.06L1535.13,654.35L1535.17,648.64L1535.21,642.93L1535.25,637.23L1535.3,631.52L1535.36,625.81L1535.41,620.1ZM1534.47,620.1L1534.45,625.81L1534.43,631.52L1534.42,637.23L1534.4,642.93L1534.39,648.64L1534.38,654.35L1534.36,660.06L1534.35,665.77L1534.34,671.48L1534.33,677.18L1534.32,682.89L1534.31,688.6L1534.31,694.31L1534.3,700.02L1534.29,705.73L1534.28,711.43L1534.28,717.14L1534.27,722.85L1534.26,728.56L1534.26,734.27L1534.25,739.98L1534.25,745.68L1534.24,751.39L1534.24,757.1L1533.76,757.1L1533.76,751.39L1533.75,745.68L1533.75,739.98L1533.74,734.27L1533.74,728.56L1533.73,722.85L1533.72,717.14L1533.72,711.43L1533.71,705.73L1533.7,700.02L1533.69,694.31L1533.69,688.6L1533.68,682.89L1533.67,677.18L1533.66,671.48L1533.65,665.77L1533.64,660.06L1533.62,654.35L1533.61,648.64L1533.6,642.93L1533.58,637.23L1533.57,631.52L1533.55,625.81L1533.53,620.1ZM1532.59,620.1L1532.64,625.81L1532.7,631.52L1532.75,637.23L1532.79,642.93L1532.83,648.64L1532.87,654.35L1532.91,660.06L1532.94,665.77L1532.97,671.48L1533,677.18L1533.03,682.89L1533.06,688.6L1533.08,694.31L1533.11,700.02L1533.13,705.73L1533.15,711.43L1533.17,717.14L1533.19,722.85L1533.21,728.56L1533.23,734.27L1533.25,739.98L1533.26,745.68L1533.28,751.39L1533.29,757.1L1532.82,757.1L1532.8,751.39L1532.77,745.68L1532.75,739.98L1532.72,734.27L1532.69,728.56L1532.66,722.85L1532.62,717.14L1532.59,711.43L1532.55,705.73L1532.51,700.02L1532.47,694.31L1532.43,688.6L1532.39,682.89L1532.34,677.18L1532.29,671.48L1532.24,665.77L1532.18,660.06L1532.12,654.35L1532.05,648.64L1531.98,642.93L1531.91,637.23L1531.83,631.52L1531.74,625.81L1531.65,620.1ZM1530.71,620.1L1530.84,625.81L1530.96,631.52L1531.07,637.23L1531.18,642.93L1531.27,648.64L1531.36,654.35L1531.45,660.06L1531.53,665.77L1531.6,671.48L1531.67,677.18L1531.74,682.89L1531.8,688.6L1531.86,694.31L1531.92,700.02L1531.97,705.73L1532.02,711.43L1532.07,717.14L1532.12,722.85L1532.16,728.56L1532.2,734.27L1532.24,739.98L1532.28,745.68L1532.32,751.39L1532.35,757.1L1531.88,757.1L1531.84,751.39L1531.79,745.68L1531.74,739.98L1531.69,734.27L1531.64,728.56L1531.58,722.85L1531.52,717.14L1531.46,711.43L1531.39,705.73L1531.33,700.02L1531.25,694.31L1531.18,688.6L1531.1,682.89L1531.01,677.18L1530.92,671.48L1530.82,665.77L1530.72,660.06L1530.61,654.35L1530.49,648.64L1530.37,642.93L1530.24,637.23L1530.09,631.52L1529.93,625.81L1529.76,620.1ZM1528.82,620.1L1529.03,625.81L1529.22,631.52L1529.4,637.23L1529.56,642.93L1529.72,648.64L1529.86,654.35L1529.99,660.06L1530.12,665.77L1530.24,671.48L1530.35,677.18L1530.45,682.89L1530.55,688.6L1530.64,694.31L1530.73,700.02L1530.81,705.73L1530.89,711.43L1530.97,717.14L1531.04,722.85L1531.11,728.56L1531.18,734.27L1531.24,739.98L1531.3,745.68L1531.36,751.39L1531.41,757.1L1530.94,757.1L1530.88,751.39L1530.81,745.68L1530.74,739.98L1530.66,734.27L1530.59,728.56L1530.5,722.85L1530.42,717.14L1530.33,711.43L1530.24,705.73L1530.14,700.02L1530.03,694.31L1529.92,688.6L1529.81,682.89L1529.68,677.18L1529.55,671.48L1529.41,665.77L1529.26,660.06L1529.11,654.35L1528.94,648.64L1528.76,642.93L1528.56,637.23L1528.35,631.52L1528.13,625.81L1527.88,620.1ZM1526.94,620.1L1527.22,625.81L1527.48,631.52L1527.73,637.23L1527.95,642.93L1528.16,648.64L1528.35,654.35L1528.54,660.06L1528.71,665.77L1528.87,671.48L1529.02,677.18L1529.16,682.89L1529.29,688.6L1529.42,694.31L1529.54,700.02L1529.66,705.73L1529.76,711.43L1529.87,717.14L1529.97,722.85L1530.06,728.56L1530.15,734.27L1530.24,739.98L1530.32,745.68L1530.4,751.39L1530.47,757.1L1530,757.1L1529.91,751.39L1529.83,745.68L1529.73,739.98L1529.64,734.27L1529.53,728.56L1529.43,722.85L1529.32,717.14L1529.2,711.43L1529.08,705.73L1528.95,700.02L1528.81,694.31L1528.67,688.6L1528.51,682.89L1528.35,677.18L1528.18,671.48L1528,665.77L1527.81,660.06L1527.6,654.35L1527.38,648.64L1527.14,642.93L1526.89,637.23L1526.62,631.52L1526.32,625.81L1526,620.1Z" fill="#1c1c1c"/>
<polygon points="1542.3,620.1 1541.81,628.66 1541.38,637.23 1540.99,645.79 1540.64,654.35 1540.32,662.91 1540.04,671.48 1539.77,680.04 1539.53,688.6 1539.31,697.16 1539.11,705.73 1538.92,714.29 1538.74,722.85 1538.58,731.41 1538.43,739.98 1538.28,748.54 1538.15,757.1 1529.85,757.1 1529.72,748.54 1529.57,739.98 1529.42,731.41 1529.26,722.85 1529.08,714.29 1528.89,705.73 1528.69,697.16 1528.47,688.6 1528.23,680.04 1527.96,671.48 1527.68,662.91 1527.36,654.35 1527.01,645.79 1526.62,637.23 1526.19,628.66 1525.7,620.1" fill="#8b8b8b" fill-opacity="0.6"/>
<path d="M1388,758.1L1393.71,758.42L1399.42,758.72L1405.12,758.99L1410.83,759.24L1416.54,759.48L1422.25,759.7L1427.96,759.91L1433.67,760.1L1439.38,760.28L1445.08,760.45L1450.79,760.61L1456.5,760.77L1462.21,760.91L1467.92,761.05L1473.62,761.18L1479.33,761.3L1485.04,761.42L1490.75,761.53L1496.46,761.63L1502.17,761.74L1507.88,761.83L1513.58,761.93L1519.29,762.01L1525,762.1L1525,762.57L1519.29,762.5L1513.58,762.42L1507.88,762.34L1502.17,762.25L1496.46,762.16L1490.75,762.07L1485.04,761.97L1479.33,761.86L1473.62,761.76L1467.92,761.64L1462.21,761.52L1456.5,761.39L1450.79,761.26L1445.08,761.12L1439.38,760.97L1433.67,760.81L1427.96,760.64L1422.25,760.45L1416.54,760.26L1410.83,760.05L1405.12,759.83L1399.42,759.58L1393.71,759.32L1388,759.04ZM1388,759.98L1393.71,760.23L1399.42,760.45L1405.12,760.66L1410.83,760.86L1416.54,761.04L1422.25,761.21L1427.96,761.36L1433.67,761.51L1439.38,761.65L1445.08,761.78L1450.79,761.91L1456.5,762.02L1462.21,762.13L1467.92,762.24L1473.62,762.34L1479.33,762.43L1485.04,762.52L1490.75,762.6L1496.46,762.69L1502.17,762.76L1507.88,762.84L1513.58,762.91L1519.29,762.98L1525,763.04L1525,763.51L1519.29,763.46L1513.58,763.4L1507.88,763.34L1502.17,763.28L1496.46,763.21L1490.75,763.14L1485.04,763.07L1479.33,762.99L1473.62,762.91L1467.92,762.83L1462.21,762.74L1456.5,762.65L1450.79,762.55L1445.08,762.45L1439.38,762.34L1433.67,762.22L1427.96,762.09L1422.25,761.96L1416.54,761.82L1410.83,761.66L1405.12,761.5L1399.42,761.32L1393.71,761.13L1388,760.92ZM1388,761.86L1393.71,762.03L1399.42,762.19L1405.12,762.34L1410.83,762.47L1416.54,762.59L1422.25,762.71L1427.96,762.82L1433.67,762.92L1439.38,763.02L1445.08,763.11L1450.79,763.2L1456.5,763.28L1462.21,763.35L1467.92,763.43L1473.62,763.49L1479.33,763.56L1485.04,763.62L1490.75,763.68L1496.46,763.74L1502.17,763.79L1507.88,763.84L1513.58,763.89L1519.29,763.94L1525,763.98L1525,764.45L1519.29,764.42L1513.58,764.38L1507.88,764.34L1502.17,764.3L1496.46,764.26L1490.75,764.22L1485.04,764.17L1479.33,764.12L1473.62,764.07L1467.92,764.02L1462.21,763.96L1456.5,763.9L1450.79,763.84L1445.08,763.77L1439.38,763.7L1433.67,763.63L1427.96,763.55L1422.25,763.46L1416.54,763.37L1410.83,763.28L1405.12,763.17L1399.42,763.06L1393.71,762.94L1388,762.81ZM1388,763.75L1393.71,763.84L1399.42,763.93L1405.12,764.01L1410.83,764.08L1416.54,764.15L1422.25,764.22L1427.96,764.28L1433.67,764.34L1439.38,764.39L1445.08,764.44L1450.79,764.49L1456.5,764.53L1462.21,764.57L1467.92,764.61L1473.62,764.65L1479.33,764.69L1485.04,764.72L1490.75,764.76L1496.46,764.79L1502.17,764.82L1507.88,764.85L1513.58,764.87L1519.29,764.9L1525,764.92L1525,765.39L1519.29,765.38L1513.58,765.36L1507.88,765.35L1502.17,765.33L1496.46,765.31L1490.75,765.29L1485.04,765.27L1479.33,765.25L1473.62,765.23L1467.92,765.21L1462.21,765.18L1456.5,765.16L1450.79,765.13L1445.08,765.1L1439.38,765.07L1433.67,765.04L1427.96,765.01L1422.25,764.97L1416.54,764.93L1410.83,764.89L1405.12,764.85L1399.42,764.8L1393.71,764.74L1388,764.69ZM1388,765.63L1393.71,765.65L1399.42,765.67L1405.12,765.68L1410.83,765.7L1416.54,765.71L1422.25,765.72L1427.96,765.74L1433.67,765.75L1439.38,765.76L1445.08,765.77L1450.79,765.78L1456.5,765.79L1462.21,765.79L1467.92,765.8L1473.62,765.81L1479.33,765.82L1485.04,765.82L1490.75,765.83L1496.46,765.84L1502.17,765.84L1507.88,765.85L1513.58,765.85L1519.29,765.86L1525,765.86L1525,766.34L1519.29,766.34L1513.58,766.35L1507.88,766.35L1502.17,766.36L1496.46,766.36L1490.75,766.37L1485.04,766.38L1479.33,766.38L1473.62,766.39L1467.92,766.4L1462.21,766.41L1456.5,766.41L1450.79,766.42L1445.08,766.43L1439.38,766.44L1433.67,766.45L1427.96,766.46L1422.25,766.48L1416.54,766.49L1410.83,766.5L1405.12,766.52L1399.42,766.53L1393.71,766.55L1388,766.57ZM1388,767.51L1393.71,767.46L1399.42,767.4L1405.12,767.35L1410.83,767.31L1416.54,767.27L1422.25,767.23L1427.96,767.19L1433.67,767.16L1439.38,767.13L1445.08,767.1L1450.79,767.07L1456.5,767.04L1462.21,767.02L1467.92,766.99L1473.62,766.97L1479.33,766.95L1485.04,766.93L1490.75,766.91L1496.46,766.89L1502.17,766.87L1507.88,766.85L1513.58,766.84L1519.29,766.82L1525,766.81L1525,767.28L1519.29,767.3L1513.58,767.33L1507.88,767.35L1502.17,767.38L1496.46,767.41L1490.75,767.44L1485.04,767.48L1479.33,767.51L1473.62,767.55L1467.92,767.59L1462.21,767.63L1456.5,767.67L1450.79,767.71L1445.08,767.76L1439.38,767.81L1433.67,767.86L1427.96,767.92L1422.25,767.98L1416.54,768.05L1410.83,768.12L1405.12,768.19L1399.42,768.27L1393.71,768.36L1388,768.45ZM1388,769.39L1393.71,769.26L1399.42,769.14L1405.12,769.03L1410.83,768.92L1416.54,768.83L1422.25,768.74L1427.96,768.65L1433.67,768.57L1439.38,768.5L1445.08,768.43L1450.79,768.36L1456.5,768.3L1462.21,768.24L1467.92,768.18L1473.62,768.13L1479.33,768.08L1485.04,768.03L1490.75,767.98L1496.46,767.94L1502.17,767.9L1507.88,767.86L1513.58,767.82L1519.29,767.78L1525,767.75L1525,768.22L1519.29,768.26L1513.58,768.31L1507.88,768.36L1502.17,768.41L1496.46,768.46L1490.75,768.52L1485.04,768.58L1479.33,768.64L1473.62,768.71L1467.92,768.77L1462.21,768.85L1456.5,768.92L1450.79,769L1445.08,769.09L1439.38,769.18L1433.67,769.28L1427.96,769.38L1422.25,769.49L1416.54,769.61L1410.83,769.73L1405.12,769.86L1399.42,770.01L1393.71,770.17L1388,770.34ZM1388,771.28L1393.71,771.07L1399.42,770.88L1405.12,770.7L1410.83,770.54L1416.54,770.38L1422.25,770.24L1427.96,770.11L1433.67,769.98L1439.38,769.86L1445.08,769.75L1450.79,769.65L1456.5,769.55L1462.21,769.46L1467.92,769.37L1473.62,769.29L1479.33,769.21L1485.04,769.13L1490.75,769.06L1496.46,768.99L1502.17,768.92L1507.88,768.86L1513.58,768.8L1519.29,768.74L1525,768.69L1525,769.16L1519.29,769.22L1513.58,769.29L1507.88,769.36L1502.17,769.44L1496.46,769.51L1490.75,769.6L1485.04,769.68L1479.33,769.77L1473.62,769.86L1467.92,769.96L1462.21,770.07L1456.5,770.18L1450.79,770.29L1445.08,770.42L1439.38,770.55L1433.67,770.69L1427.96,770.84L1422.25,770.99L1416.54,771.16L1410.83,771.34L1405.12,771.54L1399.42,771.75L1393.71,771.97L1388,772.22ZM1388,773.16L1393.71,772.88L1399.42,772.62L1405.12,772.37L1410.83,772.15L1416.54,771.94L1422.25,771.75L1427.96,771.56L1433.67,771.39L1439.38,771.23L1445.08,771.08L1450.79,770.94L1456.5,770.81L1462.21,770.68L1467.92,770.56L1473.62,770.44L1479.33,770.34L1485.04,770.23L1490.75,770.13L1496.46,770.04L1502.17,769.95L1507.88,769.86L1513.58,769.78L1519.29,769.7L1525,769.63L1525,770.1L1519.29,770.19L1513.58,770.27L1507.88,770.37L1502.17,770.46L1496.46,770.57L1490.75,770.67L1485.04,770.78L1479.33,770.9L1473.62,771.02L1467.92,771.15L1462.21,771.29L1456.5,771.43L1450.79,771.59L1445.08,771.75L1439.38,771.92L1433.67,772.1L1427.96,772.29L1422.25,772.5L1416.54,772.72L1410.83,772.96L1405.12,773.21L1399.42,773.48L1393.71,773.78L1388,774.1Z" fill="#1c1c1c"/>
<polygon points="1388,757.8 1396.56,758.29 1405.12,758.72 1413.69,759.11 1422.25,759.46 1430.81,759.78 1439.38,760.06 1447.94,760.33 1456.5,760.57 1465.06,760.79 1473.62,760.99 1482.19,761.18 1490.75,761.36 1499.31,761.52 1507.88,761.67 1516.44,761.82 1525,761.95 1525,770.25 1516.44,770.38 1507.88,770.53 1499.31,770.68 1490.75,770.84 1482.19,771.02 1473.62,771.21 1465.06,771.41 1456.5,771.63 1447.94,771.87 1439.38,772.14 1430.81,772.42 1422.25,772.74 1413.69,773.09 1405.12,773.48 1396.56,773.91 1388,774.4" fill="#8b8b8b" fill-opacity="0.6"/>
<rect x="1525" y="757.1" width="18" height="18" fill="#000"/>
<rect x="1529.1" y="761.2" width="9.8" height="9.8" fill="#fff"/>
<line x1="1552.2" y1="648" x2="1565.5" y2="648" stroke="#000" stroke-width="2.1"/>
<text x="1569.4" y="654.8" font-size="16.8" text-anchor="start" class="n">12</text>
<line x1="1552.2" y1="675.2" x2="1565.5" y2="675.2" stroke="#000" stroke-width="2.1"/>
<text x="1569.4" y="680.8" font-size="16.8" text-anchor="start" class="n">14</text>
<line x1="1552.2" y1="702.2" x2="1565.5" y2="702.2" stroke="#000" stroke-width="2.1"/>
<text x="1569.4" y="707.8" font-size="16.8" text-anchor="start" class="n">16</text>
<line x1="1552.2" y1="729.8" x2="1565.5" y2="729.8" stroke="#000" stroke-width="2.1"/>
<text x="1569.4" y="736" font-size="16.8" text-anchor="start" class="n">18</text>
<line x1="1415.8" y1="738.3" x2="1415.8" y2="751.7" stroke="#000" stroke-width="2.1"/>
<text x="1415.9" y="732.7" font-size="16.8" text-anchor="middle" class="n">12</text>
<line x1="1443.1" y1="738.3" x2="1443.1" y2="751.7" stroke="#000" stroke-width="2.1"/>
<text x="1442.9" y="732.7" font-size="16.8" text-anchor="middle" class="n">14</text>
<line x1="1470.5" y1="738.3" x2="1470.5" y2="751.7" stroke="#000" stroke-width="2.1"/>
<text x="1470.5" y="732.7" font-size="16.8" text-anchor="middle" class="n">16</text>
<line x1="1497.8" y1="738.3" x2="1497.8" y2="751.7" stroke="#000" stroke-width="2.1"/>
<text x="1499.2" y="732.7" font-size="16.8" text-anchor="middle" class="n">18</text>
<line x1="1569.5" y1="784.3" x2="1569.5" y2="797.9" stroke="#000" stroke-width="2.1"/>
<text x="1570.2" y="814.9" font-size="16.8" text-anchor="middle" class="n">9</text>
<line x1="1596.8" y1="784.3" x2="1596.8" y2="797.9" stroke="#000" stroke-width="2.1"/>
<text x="1597.6" y="814.9" font-size="16.8" text-anchor="middle" class="n">8</text>
<line x1="1624.1" y1="784.3" x2="1624.1" y2="797.9" stroke="#000" stroke-width="2.1"/>
<text x="1624" y="814.9" font-size="16.8" text-anchor="middle" class="n">7</text>
<line x1="1651.3" y1="784.3" x2="1651.3" y2="797.9" stroke="#000" stroke-width="2.1"/>
<text x="1651.2" y="814.9" font-size="16.8" text-anchor="middle" class="n">6</text>
<line x1="1502.5" y1="799.8" x2="1516" y2="799.8" stroke="#000" stroke-width="2.1"/>
<text x="1496.5" y="806.6" font-size="16.8" text-anchor="end" class="n">9</text>
<line x1="1502.5" y1="827" x2="1516" y2="827" stroke="#000" stroke-width="2.1"/>
<text x="1496.5" y="833.8" font-size="16.8" text-anchor="end" class="n">8</text>
<line x1="1502.5" y1="854.2" x2="1516" y2="854.2" stroke="#000" stroke-width="2.1"/>
<text x="1496.5" y="860.5" font-size="16.8" text-anchor="end" class="n">7</text>
<line x1="1502.5" y1="881.7" x2="1516" y2="881.7" stroke="#000" stroke-width="2.1"/>
<text x="1496.5" y="887.8" font-size="16.8" text-anchor="end" class="n">6</text>
<line x1="441" y1="172.4" x2="1351" y2="145" stroke="#000" stroke-width="2.8"/>
<line x1="458.4" y1="182.5" x2="435.9" y2="909.7" stroke="#000" stroke-width="2.8"/>
<text transform="translate(671.2,136.4) scale(1.22,1)" font-size="17.6" text-anchor="middle" class="n" letter-spacing="-0.95">1</text>
<text transform="translate(1134.6,136.4) scale(1.22,1)" font-size="17.6" text-anchor="middle" class="n" letter-spacing="-0.95">10</text>
<rect x="677.2" y="127.2" width="36.1" height="9" fill="#000"/>
<rect x="722.7" y="127.2" width="36.1" height="4.5" fill="#000"/>
<rect x="768.2" y="127.2" width="36.1" height="3" fill="#000"/>
<rect x="813.7" y="127.2" width="36.1" height="2.25" fill="#000"/>
<rect x="859.2" y="127.2" width="36.1" height="1.8" fill="#000"/>
<rect x="904.7" y="127.2" width="36.1" height="1.5" fill="#000"/>
<rect x="950.2" y="127.2" width="36.1" height="1.29" fill="#000"/>
<rect x="995.7" y="127.2" width="36.1" height="1.12" fill="#000"/>
<rect x="1041.2" y="127.2" width="36.1" height="1" fill="#000"/>
<rect x="1086.7" y="127.2" width="36.1" height="0.9" fill="#000"/>
<clipPath id="c1"><rect x="476.6" y="300" width="20" height="200"/></clipPath>
<rect x="492" y="228" width="45.2" height="63.75" fill="url(#h12)"/>
<rect x="492" y="291.75" width="45.2" height="63.75" fill="url(#h14)"/>
<rect x="492" y="355.5" width="45.2" height="63.75" fill="url(#h16)"/>
<rect x="492" y="419.25" width="45.2" height="63.75" fill="url(#h18)"/>
<rect x="492" y="483" width="45.2" height="63.75" fill="url(#h20)"/>
<rect x="492" y="546.75" width="45.2" height="63.75" fill="url(#h22)"/>
<rect x="492" y="610.5" width="45.2" height="63.75" fill="url(#h24)"/>
<rect x="492" y="674.25" width="45.2" height="63.75" fill="url(#h26)"/>
<rect x="492" y="738" width="45.2" height="63.75" fill="url(#h28)"/>
<rect x="492" y="801.75" width="45.2" height="63.75" fill="url(#h30)"/>
<rect x="492" y="287.35" width="45.2" height="8.8" fill="#000"/>
<rect x="492" y="351.1" width="45.2" height="8.8" fill="#000"/>
<rect x="492" y="414.85" width="45.2" height="8.8" fill="#000"/>
<rect x="492" y="478.6" width="45.2" height="8.8" fill="#000"/>
<rect x="492" y="542.35" width="45.2" height="8.8" fill="#000"/>
<rect x="492" y="606.1" width="45.2" height="8.8" fill="#000"/>
<rect x="492" y="669.85" width="45.2" height="8.8" fill="#000"/>
<rect x="492" y="733.6" width="45.2" height="8.8" fill="#000"/>
<rect x="492" y="797.35" width="45.2" height="8.8" fill="#000"/>
<rect x="492" y="228" width="45.2" height="4.5" fill="#000"/>
<rect x="492" y="861" width="45.2" height="4.5" fill="#000"/>
<text x="487.6" y="266.8" font-size="18.8" text-anchor="end" class="n">12</text>
<text x="487.6" y="331.4" font-size="18.8" text-anchor="end" class="n" clip-path="url(#c1)">14</text>
<text x="487.6" y="394.2" font-size="18.8" text-anchor="end" class="n" clip-path="url(#c1)">16</text>
<text x="487.6" y="458" font-size="18.8" text-anchor="end" class="n" clip-path="url(#c1)">18</text>
<text x="487.6" y="521.3" font-size="18.8" text-anchor="end" class="n">20</text>
<text x="487.6" y="585.8" font-size="18.8" text-anchor="end" class="n">22</text>
<text x="487.6" y="649.9" font-size="18.8" text-anchor="end" class="n">24</text>
<text x="487.6" y="715" font-size="18.8" text-anchor="end" class="n">26</text>
<text x="487.6" y="782.7" font-size="18.8" text-anchor="end" class="n">28</text>
<text x="487.6" y="841.1" font-size="18.8" text-anchor="end" class="n">30</text>
<rect x="1262" y="232.3" width="45.5" height="63.75" fill="url(#h12)"/>
<rect x="1262" y="296.05" width="45.5" height="63.75" fill="url(#h16)"/>
<rect x="1262" y="359.8" width="45.5" height="63.75" fill="url(#h20)"/>
<rect x="1262" y="423.55" width="45.5" height="63.75" fill="url(#h28)"/>
<rect x="1262" y="487.3" width="45.5" height="63.75" fill="url(#h30)"/>
<rect x="1262" y="551.05" width="45.5" height="63.75" fill="url(#h24)"/>
<rect x="1262" y="614.8" width="45.5" height="63.75" fill="url(#h26)"/>
<rect x="1262" y="678.55" width="45.5" height="63.75" fill="url(#h22)"/>
<rect x="1262" y="742.3" width="45.5" height="63.75" fill="url(#h18)"/>
<rect x="1262" y="806.05" width="45.5" height="63.75" fill="url(#h14)"/>
<rect x="1262" y="291.65" width="45.5" height="8.8" fill="#000"/>
<rect x="1262" y="355.4" width="45.5" height="8.8" fill="#000"/>
<rect x="1262" y="419.15" width="45.5" height="8.8" fill="#000"/>
<rect x="1262" y="482.9" width="45.5" height="8.8" fill="#000"/>
<rect x="1262" y="546.65" width="45.5" height="8.8" fill="#000"/>
<rect x="1262" y="610.4" width="45.5" height="8.8" fill="#000"/>
<rect x="1262" y="674.15" width="45.5" height="8.8" fill="#000"/>
<rect x="1262" y="737.9" width="45.5" height="8.8" fill="#000"/>
<rect x="1262" y="801.65" width="45.5" height="8.8" fill="#000"/>
<rect x="1262" y="232.3" width="45.5" height="4.5" fill="#000"/>
<rect x="1262" y="865.3" width="45.5" height="4.5" fill="#000"/>
<text x="1320.2" y="270.7" font-size="18.8" text-anchor="start" class="n">12</text>
<text x="1320.2" y="334.8" font-size="18.8" text-anchor="start" class="n">16</text>
<text x="1320.2" y="399.4" font-size="18.8" text-anchor="start" class="n">20</text>
<text x="1320.2" y="468.3" font-size="18.8" text-anchor="start" class="n">28</text>
<text x="1320.2" y="526" font-size="18.8" text-anchor="start" class="n">30</text>
<text x="1320.2" y="591" font-size="18.8" text-anchor="start" class="n">24</text>
<text x="1320.2" y="653.5" font-size="18.8" text-anchor="start" class="n">26</text>
<text x="1320.2" y="711.2" font-size="18.8" text-anchor="start" class="n">22</text>
<text x="1320.2" y="780.9" font-size="18.8" text-anchor="start" class="n">18</text>
<text x="1320.2" y="844.2" font-size="18.8" text-anchor="start" class="n">14</text>
<rect x="581.2" y="796.7" width="63.75" height="45" fill="url(#t12)"/>
<rect x="581.2" y="841.7" width="63.75" height="46" fill="url(#v12)"/>
<rect x="644.95" y="796.7" width="63.75" height="45" fill="url(#t16)"/>
<rect x="644.95" y="841.7" width="63.75" height="46" fill="url(#v14)"/>
<rect x="708.7" y="796.7" width="63.75" height="45" fill="url(#t20)"/>
<rect x="708.7" y="841.7" width="63.75" height="46" fill="url(#v16)"/>
<rect x="772.45" y="796.7" width="63.75" height="45" fill="url(#t28)"/>
<rect x="772.45" y="841.7" width="63.75" height="46" fill="url(#v18)"/>
<rect x="836.2" y="796.7" width="63.75" height="45" fill="url(#t30)"/>
<rect x="836.2" y="841.7" width="63.75" height="46" fill="url(#v20)"/>
<rect x="899.95" y="796.7" width="63.75" height="45" fill="url(#t24)"/>
<rect x="899.95" y="841.7" width="63.75" height="46" fill="url(#v22)"/>
<rect x="963.7" y="796.7" width="63.75" height="45" fill="url(#t26)"/>
<rect x="963.7" y="841.7" width="63.75" height="46" fill="url(#v24)"/>
<rect x="1027.45" y="796.7" width="63.75" height="45" fill="url(#t22)"/>
<rect x="1027.45" y="841.7" width="63.75" height="46" fill="url(#v26)"/>
<rect x="1091.2" y="796.7" width="63.75" height="45" fill="url(#t18)"/>
<rect x="1091.2" y="841.7" width="63.75" height="46" fill="url(#v28)"/>
<rect x="1154.95" y="796.7" width="63.75" height="45" fill="url(#t14)"/>
<rect x="1154.95" y="841.7" width="63.75" height="46" fill="url(#v30)"/>
<rect x="640.85" y="796.7" width="9" height="91" fill="#000"/>
<rect x="704.6" y="796.7" width="9" height="91" fill="#000"/>
<rect x="768.35" y="796.7" width="9" height="91" fill="#000"/>
<rect x="832.1" y="796.7" width="9" height="91" fill="#000"/>
<rect x="895.85" y="796.7" width="9" height="91" fill="#000"/>
<rect x="959.6" y="796.7" width="9" height="91" fill="#000"/>
<rect x="1023.35" y="796.7" width="9" height="91" fill="#000"/>
<rect x="1087.1" y="796.7" width="9" height="91" fill="#000"/>
<rect x="1150.85" y="796.7" width="9" height="91" fill="#000"/>
<rect x="581.2" y="796.7" width="4.4" height="91" fill="#000"/>
<rect x="1214.3" y="796.7" width="4.4" height="91" fill="#000"/>
<text x="614.7" y="790.6" font-size="18.8" text-anchor="middle" class="n">12</text>
<text x="614.7" y="905.2" font-size="18.8" text-anchor="middle" class="n">12</text>
<text x="678.2" y="790.6" font-size="18.8" text-anchor="middle" class="n">16</text>
<text x="678.3" y="905.2" font-size="18.8" text-anchor="middle" class="n">14</text>
<text x="742" y="790.6" font-size="18.8" text-anchor="middle" class="n">20</text>
<text x="742" y="905.2" font-size="18.8" text-anchor="middle" class="n">16</text>
<text x="807.2" y="790.6" font-size="18.8" text-anchor="middle" class="n">28</text>
<text x="805.8" y="905.2" font-size="18.8" text-anchor="middle" class="n">18</text>
<text x="869.2" y="790.6" font-size="18.8" text-anchor="middle" class="n">30</text>
<text x="869.5" y="905.2" font-size="18.8" text-anchor="middle" class="n">20</text>
<text x="934.2" y="790.6" font-size="18.8" text-anchor="middle" class="n">24</text>
<text x="933.9" y="905.2" font-size="18.8" text-anchor="middle" class="n">22</text>
<text x="996.9" y="790.6" font-size="18.8" text-anchor="middle" class="n">26</text>
<text x="997.2" y="905.2" font-size="18.8" text-anchor="middle" class="n">24</text>
<text x="1057.7" y="790.6" font-size="18.8" text-anchor="middle" class="n">22</text>
<text x="1062.4" y="905.2" font-size="18.8" text-anchor="middle" class="n">26</text>
<text x="1123" y="790.3" font-size="14.6" text-anchor="middle" class="n">18</text>
<text x="1123" y="905.2" font-size="18.8" text-anchor="middle" class="n">28</text>
<text x="1186.3" y="790.3" font-size="14.6" text-anchor="middle" class="n">14</text>
<text x="1186.9" y="905.2" font-size="18.8" text-anchor="middle" class="n">30</text>
<path d="M572.12,219.13L575.7,223.55L579.31,227.94L582.96,232.3L586.62,236.63L590.32,240.94L594.03,245.23L597.76,249.51L601.51,253.76L605.27,258L609.05,262.22L612.84,266.44L616.64,270.64L620.45,274.83L624.27,279.01L628.11,283.18L631.95,287.34L635.79,291.49L639.65,295.64L643.51,299.78L647.38,303.91L651.25,308.04L655.13,312.16L659.02,316.28L662.91,320.39L662.29,321.01L658.39,316.91L654.49,312.81L650.6,308.7L646.71,304.58L642.82,300.47L638.95,296.34L635.07,292.21L631.21,288.08L627.35,283.93L623.5,279.78L619.65,275.62L615.82,271.46L611.99,267.28L608.18,263.09L604.38,258.89L600.58,254.68L596.81,250.46L593.04,246.22L589.3,241.96L585.57,237.69L581.86,233.4L578.18,229.08L574.52,224.74L570.88,220.37ZM569.65,221.6L573.33,225.92L577.04,230.21L580.77,234.49L584.51,238.74L588.28,242.98L592.06,247.2L595.85,251.41L599.66,255.61L603.48,259.79L607.31,263.96L611.15,268.12L615,272.28L618.85,276.42L622.72,280.56L626.59,284.69L630.47,288.82L634.35,292.93L638.24,297.05L642.14,301.15L646.04,305.26L649.94,309.35L653.85,313.45L657.76,317.54L661.68,321.62L661.06,322.24L657.13,318.17L653.21,314.09L649.28,310.01L645.36,305.93L641.45,301.84L637.54,297.75L633.63,293.65L629.73,289.55L625.83,285.45L621.94,281.34L618.06,277.22L614.18,273.1L610.3,268.97L606.44,264.83L602.58,260.68L598.74,256.53L594.9,252.36L591.07,248.19L587.26,244L583.46,239.8L579.67,235.58L575.9,231.35L572.15,227.1L568.42,222.83ZM567.19,224.06L570.97,228.28L574.77,232.49L578.58,236.68L582.4,240.86L586.24,245.02L590.09,249.17L593.95,253.32L597.81,257.45L601.69,261.58L605.57,265.7L609.46,269.81L613.36,273.92L617.26,278.02L621.16,282.12L625.08,286.21L628.99,290.29L632.91,294.37L636.83,298.45L640.76,302.53L644.69,306.6L648.63,310.67L652.56,314.73L656.5,318.79L660.45,322.85L659.83,323.47L655.87,319.42L651.92,315.37L647.97,311.32L644.02,307.27L640.08,303.21L636.13,299.16L632.19,295.1L628.25,291.03L624.32,286.96L620.39,282.89L616.46,278.82L612.54,274.74L608.62,270.66L604.7,266.57L600.79,262.48L596.89,258.38L592.99,254.27L589.1,250.16L585.22,246.04L581.35,241.91L577.48,237.77L573.63,233.62L569.79,229.46L565.96,225.29ZM564.73,226.52L568.61,230.65L572.49,234.76L576.39,238.87L580.29,242.97L584.2,247.06L588.12,251.14L592.04,255.22L595.97,259.3L599.9,263.37L603.83,267.44L607.77,271.5L611.71,275.56L615.66,279.62L619.61,283.67L623.56,287.72L627.51,291.77L631.47,295.82L635.43,299.86L639.39,303.9L643.35,307.94L647.31,311.98L651.28,316.02L655.25,320.05L659.21,324.09L658.6,324.7L654.62,320.68L650.64,316.66L646.66,312.64L642.68,308.61L638.7,304.59L634.72,300.56L630.75,296.54L626.77,292.51L622.8,288.48L618.83,284.45L614.86,280.42L610.89,276.38L606.93,272.35L602.96,268.31L599,264.27L595.04,260.22L591.09,256.18L587.13,252.13L583.18,248.08L579.24,244.02L575.29,239.96L571.36,235.9L567.42,231.83L563.5,227.75ZM562.27,228.98L566.24,233.01L570.22,237.03L574.2,241.06L578.18,245.08L582.16,249.1L586.15,253.11L590.13,257.13L594.12,261.15L598.11,265.16L602.09,269.18L606.08,273.19L610.07,277.2L614.06,281.21L618.05,285.23L622.04,289.24L626.04,293.25L630.03,297.26L634.02,301.27L638.01,305.28L642.01,309.29L646,313.29L649.99,317.3L653.99,321.31L657.98,325.32L657.37,325.93L653.36,321.94L649.35,317.94L645.34,313.95L641.34,309.96L637.33,305.96L633.32,301.97L629.31,297.98L625.3,293.99L621.29,289.99L617.28,286L613.26,282.01L609.25,278.02L605.24,274.03L601.23,270.04L597.21,266.06L593.2,262.07L589.18,258.08L585.16,254.1L581.15,250.11L577.13,246.13L573.11,242.15L569.08,238.17L565.06,234.19L561.03,230.22ZM559.8,231.45L563.88,235.37L567.95,239.31L572.01,243.24L576.07,247.19L580.13,251.13L584.18,255.08L588.23,259.04L592.27,262.99L596.32,266.95L600.36,270.91L604.4,274.88L608.43,278.84L612.47,282.81L616.5,286.78L620.53,290.75L624.56,294.72L628.59,298.7L632.61,302.67L636.64,306.65L640.66,310.63L644.69,314.61L648.71,318.59L652.73,322.57L656.75,326.55L656.14,327.16L652.1,323.2L648.07,319.23L644.03,315.26L639.99,311.3L635.95,307.34L631.91,303.38L627.87,299.42L623.82,295.46L619.77,291.51L615.72,287.56L611.67,283.61L607.61,279.66L603.55,275.72L599.49,271.78L595.42,267.85L591.35,263.92L587.27,259.99L583.19,256.07L579.11,252.15L575.02,248.24L570.92,244.34L566.81,240.44L562.7,236.56L558.57,232.68ZM557.34,233.91L561.51,237.74L565.67,241.58L569.82,245.43L573.96,249.3L578.09,253.17L582.21,257.05L586.32,260.94L590.43,264.84L594.53,268.74L598.62,272.65L602.71,276.57L606.79,280.49L610.87,284.41L614.94,288.34L619.01,292.27L623.08,296.2L627.15,300.14L631.21,304.08L635.26,308.03L639.32,311.97L643.37,315.92L647.42,319.87L651.47,323.82L655.52,327.78L654.9,328.4L650.84,324.45L646.78,320.51L642.72,316.58L638.65,312.64L634.58,308.71L630.5,304.78L626.42,300.86L622.34,296.94L618.26,293.03L614.17,289.11L610.07,285.21L605.97,281.31L601.86,277.41L597.75,273.52L593.63,269.64L589.5,265.76L585.37,261.9L581.22,258.04L577.07,254.19L572.91,250.35L568.73,246.53L564.54,242.72L560.33,238.92L556.11,235.14ZM554.88,236.37L559.15,240.1L563.4,243.85L567.63,247.62L571.85,251.41L576.05,255.21L580.24,259.02L584.41,262.85L588.58,266.69L592.73,270.53L596.88,274.39L601.02,278.25L605.15,282.13L609.27,286.01L613.39,289.89L617.5,293.78L621.6,297.68L625.7,301.58L629.8,305.49L633.89,309.4L637.98,313.31L642.06,317.23L646.14,321.16L650.22,325.08L654.29,329.01L653.67,329.63L649.59,325.71L645.5,321.8L641.4,317.89L637.31,313.99L633.2,310.09L629.1,306.19L624.98,302.3L620.87,298.42L616.74,294.54L612.61,290.67L608.47,286.8L604.33,282.95L600.17,279.1L596.01,275.26L591.84,271.43L587.66,267.61L583.46,263.8L579.25,260.01L575.03,256.23L570.79,252.46L566.54,248.72L562.26,244.99L557.97,241.28L553.65,237.6ZM552.42,238.83L556.79,242.47L561.13,246.13L565.45,249.81L569.74,253.52L574.01,257.25L578.27,260.99L582.51,264.76L586.73,268.53L590.94,272.33L595.14,276.13L599.33,279.94L603.51,283.77L607.67,287.6L611.83,291.45L615.98,295.3L620.13,299.16L624.26,303.02L628.39,306.9L632.52,310.77L636.63,314.66L640.75,318.55L644.86,322.44L648.96,326.34L653.06,330.24L652.44,330.86L648.33,326.97L644.21,323.08L640.09,319.2L635.96,315.33L631.83,311.46L627.69,307.6L623.54,303.74L619.39,299.9L615.23,296.06L611.06,292.22L606.88,288.4L602.69,284.59L598.49,280.79L594.27,277L590.05,273.22L585.81,269.46L581.56,265.71L577.28,261.98L572.99,258.27L568.68,254.57L564.35,250.91L559.99,247.26L555.6,243.65L551.18,240.07Z" fill="#000"/>
<path d="M1236.69,250.94L1232.48,254.73L1228.27,258.53L1224.09,262.34L1219.91,266.17L1215.75,270.01L1211.6,273.86L1207.46,277.72L1203.33,281.59L1199.2,285.47L1195.08,289.35L1190.97,293.25L1186.87,297.14L1182.77,301.05L1178.67,304.95L1174.58,308.87L1170.5,312.78L1166.42,316.7L1162.34,320.63L1158.27,324.56L1154.2,328.49L1150.13,332.43L1146.07,336.36L1142.01,340.3L1137.95,344.25L1137.63,343.93L1141.68,339.98L1145.73,336.03L1149.79,332.08L1153.85,328.14L1157.91,324.2L1161.98,320.26L1166.04,316.33L1170.12,312.4L1174.19,308.47L1178.27,304.55L1182.35,300.63L1186.44,296.72L1190.53,292.81L1194.63,288.9L1198.73,285L1202.84,281.11L1206.96,277.23L1211.09,273.35L1215.22,269.48L1219.36,265.62L1223.52,261.77L1227.68,257.94L1231.86,254.11L1236.05,250.3ZM1235.41,249.66L1231.25,253.5L1227.09,257.35L1222.95,261.2L1218.81,265.07L1214.69,268.95L1210.57,272.84L1206.47,276.73L1202.36,280.63L1198.27,284.54L1194.18,288.45L1190.09,292.37L1186.01,296.29L1181.94,300.21L1177.87,304.14L1173.8,308.08L1169.73,312.01L1165.67,315.96L1161.61,319.9L1157.55,323.84L1153.5,327.79L1149.45,331.74L1145.4,335.7L1141.35,339.65L1137.31,343.61L1136.99,343.29L1141.02,339.32L1145.07,335.36L1149.11,331.4L1153.15,327.44L1157.2,323.49L1161.24,319.53L1165.29,315.58L1169.35,311.63L1173.4,307.68L1177.46,303.74L1181.52,299.8L1185.59,295.86L1189.65,291.93L1193.73,288L1197.8,284.07L1201.88,280.15L1205.97,276.23L1210.06,272.32L1214.16,268.42L1218.27,264.52L1222.38,260.63L1226.5,256.75L1230.63,252.88L1234.77,249.02ZM1234.13,248.38L1230.02,252.27L1225.91,256.16L1221.81,260.07L1217.72,263.97L1213.63,267.89L1209.55,271.81L1205.47,275.74L1201.4,279.67L1197.34,283.61L1193.27,287.55L1189.22,291.49L1185.16,295.43L1181.11,299.38L1177.06,303.34L1173.01,307.29L1168.96,311.25L1164.92,315.21L1160.88,319.17L1156.84,323.13L1152.8,327.09L1148.77,331.06L1144.73,335.03L1140.7,339L1136.67,342.97L1136.35,342.65L1140.37,338.67L1144.4,334.69L1148.42,330.72L1152.45,326.74L1156.48,322.77L1160.51,318.8L1164.54,314.83L1168.58,310.86L1172.61,306.9L1176.65,302.93L1180.69,298.97L1184.73,295.01L1188.78,291.05L1192.82,287.09L1196.87,283.14L1200.92,279.19L1204.98,275.24L1209.04,271.3L1213.1,267.36L1217.17,263.43L1221.24,259.5L1225.32,255.57L1229.4,251.65L1233.49,247.74ZM1232.85,247.1L1228.79,251.04L1224.73,254.98L1220.67,258.93L1216.62,262.88L1212.57,266.83L1208.52,270.79L1204.48,274.75L1200.44,278.71L1196.41,282.67L1192.37,286.64L1188.34,290.61L1184.31,294.58L1180.28,298.55L1176.25,302.53L1172.22,306.5L1168.19,310.48L1164.17,314.46L1160.15,318.43L1156.12,322.41L1152.1,326.39L1148.08,330.38L1144.06,334.36L1140.04,338.34L1136.03,342.33L1135.71,342.01L1139.72,338.01L1143.73,334.02L1147.74,330.03L1151.75,326.05L1155.77,322.06L1159.78,318.07L1163.79,314.08L1167.81,310.09L1171.83,306.11L1175.84,302.12L1179.86,298.14L1183.88,294.15L1187.9,290.17L1191.92,286.19L1195.94,282.21L1199.96,278.23L1203.99,274.25L1208.01,270.27L1212.04,266.3L1216.07,262.33L1220.1,258.36L1224.13,254.39L1228.17,250.42L1232.21,246.46ZM1231.57,245.82L1227.56,249.81L1223.54,253.8L1219.53,257.79L1215.52,261.78L1211.51,265.77L1207.5,269.76L1203.49,273.76L1199.48,277.75L1195.47,281.74L1191.47,285.74L1187.46,289.73L1183.45,293.73L1179.44,297.72L1175.44,301.72L1171.43,305.71L1167.43,309.71L1163.42,313.71L1159.41,317.7L1155.41,321.7L1151.4,325.7L1147.4,329.69L1143.39,333.69L1139.39,337.69L1135.39,341.69L1135.06,341.36L1139.06,337.36L1143.06,333.36L1147.06,329.35L1151.05,325.35L1155.05,321.34L1159.05,317.34L1163.04,313.33L1167.04,309.32L1171.04,305.32L1175.03,301.31L1179.03,297.31L1183.02,293.3L1187.02,289.29L1191.01,285.28L1195.01,281.28L1199,277.27L1202.99,273.26L1206.99,269.25L1210.98,265.24L1214.97,261.23L1218.96,257.22L1222.95,253.21L1226.94,249.19L1230.93,245.18ZM1230.29,244.54L1226.33,248.58L1222.36,252.62L1218.39,256.65L1214.42,260.68L1210.45,264.71L1206.48,268.74L1202.5,272.76L1198.52,276.79L1194.54,280.81L1190.56,284.83L1186.58,288.85L1182.6,292.87L1178.61,296.89L1174.63,300.91L1170.64,304.92L1166.66,308.94L1162.67,312.96L1158.68,316.97L1154.69,320.98L1150.7,325L1146.72,329.01L1142.73,333.02L1138.74,337.03L1134.74,341.04L1134.42,340.72L1138.41,336.71L1142.39,332.69L1146.37,328.67L1150.36,324.65L1154.34,320.63L1158.32,316.6L1162.29,312.58L1166.27,308.56L1170.25,304.53L1174.22,300.5L1178.2,296.47L1182.17,292.44L1186.14,288.41L1190.11,284.38L1194.08,280.34L1198.04,276.31L1202,272.27L1205.96,268.23L1209.92,264.18L1213.87,260.13L1217.82,256.08L1221.77,252.02L1225.71,247.96L1229.65,243.9ZM1229.01,243.26L1225.1,247.35L1221.18,251.43L1217.25,255.51L1213.32,259.58L1209.39,263.65L1205.45,267.71L1201.51,271.77L1197.56,275.83L1193.61,279.88L1189.66,283.93L1185.7,287.97L1181.74,292.02L1177.78,296.06L1173.82,300.1L1169.85,304.14L1165.89,308.17L1161.92,312.21L1157.95,316.24L1153.98,320.27L1150.01,324.3L1146.03,328.33L1142.06,332.35L1138.08,336.38L1134.1,340.4L1133.78,340.08L1137.75,336.05L1141.72,332.02L1145.69,327.98L1149.66,323.95L1153.62,319.91L1157.58,315.87L1161.54,311.83L1165.5,307.79L1169.46,303.74L1173.41,299.69L1177.37,295.64L1181.32,291.59L1185.26,287.53L1189.2,283.48L1193.14,279.41L1197.08,275.35L1201.01,271.28L1204.94,267.2L1208.86,263.12L1212.78,259.03L1216.68,254.94L1220.59,250.84L1224.48,246.73L1228.37,242.62ZM1227.73,241.98L1223.87,246.12L1220,250.25L1216.12,254.37L1212.23,258.48L1208.33,262.59L1204.43,266.69L1200.52,270.78L1196.6,274.87L1192.68,278.95L1188.75,283.02L1184.82,287.1L1180.89,291.16L1176.95,295.23L1173.01,299.29L1169.07,303.35L1165.12,307.4L1161.17,311.46L1157.22,315.51L1153.26,319.55L1149.31,323.6L1145.35,327.64L1141.39,331.68L1137.43,335.73L1133.46,339.76L1133.14,339.44L1137.1,335.4L1141.05,331.35L1145.01,327.3L1148.96,323.25L1152.91,319.2L1156.85,315.14L1160.79,311.08L1164.74,307.02L1168.67,302.95L1172.61,298.88L1176.54,294.81L1180.46,290.74L1184.38,286.66L1188.3,282.57L1192.21,278.48L1196.12,274.39L1200.02,270.28L1203.91,266.18L1207.8,262.06L1211.68,257.94L1215.55,253.8L1219.4,249.66L1223.25,245.5L1227.09,241.34ZM1226.45,240.7L1222.64,244.89L1218.81,249.07L1214.98,253.23L1211.13,257.39L1207.27,261.53L1203.4,265.66L1199.52,269.79L1195.64,273.91L1191.75,278.02L1187.85,282.12L1183.94,286.22L1180.03,290.31L1176.12,294.4L1172.2,298.48L1168.28,302.56L1164.35,306.63L1160.42,310.71L1156.49,314.77L1152.55,318.84L1148.61,322.9L1144.67,326.96L1140.72,331.02L1136.77,335.07L1132.82,339.12L1132.5,338.8L1136.45,334.74L1140.39,330.68L1144.32,326.62L1148.26,322.55L1152.19,318.48L1156.12,314.41L1160.05,310.33L1163.97,306.25L1167.88,302.17L1171.8,298.08L1175.7,293.98L1179.61,289.88L1183.5,285.78L1187.4,281.67L1191.28,277.55L1195.16,273.42L1199.03,269.29L1202.89,265.15L1206.74,261L1210.58,256.84L1214.41,252.66L1218.22,248.48L1222.02,244.27L1225.81,240.06Z" fill="#1c1c1c"/>
<polygon points="1236.84,251.09 1230.51,256.76 1224.21,262.47 1217.95,268.21 1211.71,273.98 1205.5,279.76 1199.3,285.57 1193.13,291.4 1186.96,297.24 1180.81,303.09 1174.67,308.95 1168.54,314.83 1162.42,320.71 1156.31,326.6 1150.21,332.5 1144.11,338.41 1138.02,344.32 1132.43,338.73 1138.34,332.64 1144.25,326.54 1150.15,320.44 1156.04,314.33 1161.92,308.21 1167.8,302.08 1173.66,295.94 1179.51,289.79 1185.35,283.62 1191.18,277.45 1196.99,271.25 1202.77,265.04 1208.54,258.8 1214.28,252.54 1219.99,246.24 1225.66,239.91" fill="#8b8b8b" fill-opacity="0.55"/>
<line x1="600" y1="229.2" x2="609.3" y2="219.8" stroke="#000" stroke-width="1.5"/>
<text x="615" y="219.5" font-size="18" text-anchor="middle" class="n">6</text>
<line x1="619.2" y1="248.3" x2="628.7" y2="239.7" stroke="#000" stroke-width="1.5"/>
<text x="634.8" y="238.7" font-size="18" text-anchor="middle" class="n">7</text>
<line x1="638.3" y1="267.5" x2="647.5" y2="258.7" stroke="#000" stroke-width="1.5"/>
<text x="653.9" y="257.4" font-size="18" text-anchor="middle" class="n">8</text>
<line x1="657.8" y1="287" x2="667.5" y2="278" stroke="#000" stroke-width="1.5"/>
<text x="673.1" y="277.7" font-size="18" text-anchor="middle" class="n">9</text>
<line x1="1192.5" y1="244.2" x2="1202" y2="253.7" stroke="#000" stroke-width="1.5"/>
<text x="1183.3" y="240.3" font-size="18" text-anchor="middle" class="n">12</text>
<line x1="1173.3" y1="263.3" x2="1182.8" y2="273" stroke="#000" stroke-width="1.5"/>
<text x="1165" y="259.5" font-size="18" text-anchor="middle" class="n">14</text>
<line x1="1153.7" y1="282.5" x2="1163.3" y2="292" stroke="#000" stroke-width="1.5"/>
<text x="1147" y="278.6" font-size="18" text-anchor="middle" class="n">16</text>
<line x1="1134.5" y1="301.7" x2="1144.2" y2="311.3" stroke="#000" stroke-width="1.5"/>
<text x="1128.3" y="298.5" font-size="18" text-anchor="middle" class="n">18</text>
<path d="M759.65,216.2L757.96,227.54L756.6,238.88L755.49,250.22L754.57,261.57L753.78,272.91L753.11,284.25L752.53,295.59L752.02,306.93L751.58,318.27L751.18,329.62L750.82,340.96L750.5,352.3L750.21,363.64L749.95,374.98L749.7,386.32L749.48,397.67L749.28,409.01L749.09,420.35L748.92,431.69L748.76,443.03L748.61,454.38L748.47,465.72L748.34,477.06L748.21,488.4L747.76,488.4L747.87,477.06L747.99,465.72L748.11,454.38L748.24,443.03L748.39,431.69L748.54,420.35L748.71,409.01L748.89,397.67L749.08,386.32L749.29,374.98L749.53,363.64L749.78,352.3L750.07,340.96L750.38,329.62L750.73,318.27L751.13,306.93L751.58,295.59L752.09,284.25L752.68,272.91L753.37,261.57L754.19,250.22L755.16,238.88L756.36,227.54L757.86,216.2ZM756.06,216.2L754.77,227.54L753.73,238.88L752.88,250.22L752.17,261.57L751.58,272.91L751.06,284.25L750.62,295.59L750.23,306.93L749.89,318.27L749.58,329.62L749.31,340.96L749.06,352.3L748.84,363.64L748.64,374.98L748.46,386.32L748.29,397.67L748.13,409.01L747.99,420.35L747.86,431.69L747.73,443.03L747.62,454.38L747.51,465.72L747.41,477.06L747.32,488.4L746.87,488.4L746.95,477.06L747.03,465.72L747.12,454.38L747.22,443.03L747.32,431.69L747.44,420.35L747.56,409.01L747.69,397.67L747.83,386.32L747.99,374.98L748.16,363.64L748.35,352.3L748.55,340.96L748.79,329.62L749.04,318.27L749.33,306.93L749.66,295.59L750.04,284.25L750.47,272.91L750.98,261.57L751.58,250.22L752.29,238.88L753.17,227.54L754.27,216.2ZM752.47,216.2L751.58,227.54L750.86,238.88L750.27,250.22L749.78,261.57L749.37,272.91L749.01,284.25L748.71,295.59L748.44,306.93L748.2,318.27L747.99,329.62L747.8,340.96L747.63,352.3L747.48,363.64L747.34,374.98L747.21,386.32L747.09,397.67L746.98,409.01L746.88,420.35L746.79,431.69L746.71,443.03L746.63,454.38L746.55,465.72L746.48,477.06L746.42,488.4L745.97,488.4L746.02,477.06L746.07,465.72L746.13,454.38L746.19,443.03L746.26,431.69L746.33,420.35L746.41,409.01L746.49,397.67L746.58,386.32L746.68,374.98L746.79,363.64L746.91,352.3L747.04,340.96L747.19,329.62L747.36,318.27L747.54,306.93L747.75,295.59L747.99,284.25L748.26,272.91L748.59,261.57L748.97,250.22L749.42,238.88L749.98,227.54L750.68,216.2ZM748.89,216.2L748.39,227.54L747.99,238.88L747.66,250.22L747.39,261.57L747.16,272.91L746.96,284.25L746.79,295.59L746.64,306.93L746.51,318.27L746.39,329.62L746.29,340.96L746.19,352.3L746.11,363.64L746.03,374.98L745.96,386.32L745.9,397.67L745.84,409.01L745.78,420.35L745.73,431.69L745.68,443.03L745.64,454.38L745.6,465.72L745.56,477.06L745.52,488.4L745.07,488.4L745.09,477.06L745.12,465.72L745.14,454.38L745.17,443.03L745.2,431.69L745.23,420.35L745.26,409.01L745.3,397.67L745.34,386.32L745.38,374.98L745.43,363.64L745.48,352.3L745.53,340.96L745.6,329.62L745.67,318.27L745.75,306.93L745.84,295.59L745.94,284.25L746.06,272.91L746.19,261.57L746.36,250.22L746.55,238.88L746.79,227.54L747.09,216.2ZM745.3,216.2L745.2,227.54L745.12,238.88L745.05,250.22L745,261.57L744.95,272.91L744.91,284.25L744.88,295.59L744.85,306.93L744.82,318.27L744.8,329.62L744.78,340.96L744.76,352.3L744.74,363.64L744.73,374.98L744.71,386.32L744.7,397.67L744.69,409.01L744.68,420.35L744.67,431.69L744.66,443.03L744.65,454.38L744.64,465.72L744.63,477.06L744.62,488.4L744.18,488.4L744.17,477.06L744.16,465.72L744.15,454.38L744.14,443.03L744.13,431.69L744.12,420.35L744.11,409.01L744.1,397.67L744.09,386.32L744.07,374.98L744.06,363.64L744.04,352.3L744.02,340.96L744,329.62L743.98,318.27L743.95,306.93L743.92,295.59L743.89,284.25L743.85,272.91L743.8,261.57L743.75,250.22L743.68,238.88L743.6,227.54L743.5,216.2ZM741.71,216.2L742.01,227.54L742.25,238.88L742.44,250.22L742.61,261.57L742.74,272.91L742.86,284.25L742.96,295.59L743.05,306.93L743.13,318.27L743.2,329.62L743.27,340.96L743.32,352.3L743.37,363.64L743.42,374.98L743.46,386.32L743.5,397.67L743.54,409.01L743.57,420.35L743.6,431.69L743.63,443.03L743.66,454.38L743.68,465.72L743.71,477.06L743.73,488.4L743.28,488.4L743.24,477.06L743.2,465.72L743.16,454.38L743.12,443.03L743.07,431.69L743.02,420.35L742.96,409.01L742.9,397.67L742.84,386.32L742.77,374.98L742.69,363.64L742.61,352.3L742.51,340.96L742.41,329.62L742.29,318.27L742.16,306.93L742.01,295.59L741.84,284.25L741.64,272.91L741.41,261.57L741.14,250.22L740.81,238.88L740.41,227.54L739.91,216.2ZM738.12,216.2L738.82,227.54L739.38,238.88L739.83,250.22L740.21,261.57L740.54,272.91L740.81,284.25L741.05,295.59L741.26,306.93L741.44,318.27L741.61,329.62L741.76,340.96L741.89,352.3L742.01,363.64L742.12,374.98L742.22,386.32L742.31,397.67L742.39,409.01L742.47,420.35L742.54,431.69L742.61,443.03L742.67,454.38L742.73,465.72L742.78,477.06L742.83,488.4L742.38,488.4L742.32,477.06L742.25,465.72L742.17,454.38L742.09,443.03L742.01,431.69L741.92,420.35L741.82,409.01L741.71,397.67L741.59,386.32L741.46,374.98L741.32,363.64L741.17,352.3L741,340.96L740.81,329.62L740.6,318.27L740.36,306.93L740.09,295.59L739.79,284.25L739.43,272.91L739.02,261.57L738.53,250.22L737.94,238.88L737.22,227.54L736.33,216.2ZM734.53,216.2L735.63,227.54L736.51,238.88L737.22,250.22L737.82,261.57L738.33,272.91L738.76,284.25L739.14,295.59L739.47,306.93L739.76,318.27L740.01,329.62L740.25,340.96L740.45,352.3L740.64,363.64L740.81,374.98L740.97,386.32L741.11,397.67L741.24,409.01L741.36,420.35L741.48,431.69L741.58,443.03L741.68,454.38L741.77,465.72L741.85,477.06L741.93,488.4L741.48,488.4L741.39,477.06L741.29,465.72L741.18,454.38L741.07,443.03L740.94,431.69L740.81,420.35L740.67,409.01L740.51,397.67L740.34,386.32L740.16,374.98L739.96,363.64L739.74,352.3L739.49,340.96L739.22,329.62L738.91,318.27L738.57,306.93L738.18,295.59L737.74,284.25L737.22,272.91L736.63,261.57L735.92,250.22L735.07,238.88L734.03,227.54L732.74,216.2ZM730.94,216.2L732.44,227.54L733.64,238.88L734.61,250.22L735.43,261.57L736.12,272.91L736.71,284.25L737.22,295.59L737.67,306.93L738.07,318.27L738.42,329.62L738.73,340.96L739.02,352.3L739.27,363.64L739.51,374.98L739.72,386.32L739.91,397.67L740.09,409.01L740.26,420.35L740.41,431.69L740.56,443.03L740.69,454.38L740.81,465.72L740.93,477.06L741.04,488.4L740.59,488.4L740.46,477.06L740.33,465.72L740.19,454.38L740.04,443.03L739.88,431.69L739.71,420.35L739.52,409.01L739.32,397.67L739.1,386.32L738.85,374.98L738.59,363.64L738.3,352.3L737.98,340.96L737.62,329.62L737.22,318.27L736.77,306.93L736.27,295.59L735.69,284.25L735.02,272.91L734.23,261.57L733.31,250.22L732.2,238.88L730.84,227.54L729.15,216.2Z" fill="url(#gv)"/>
<polygon points="754.09,270.64 753.26,284.25 752.56,297.86 751.96,311.47 751.45,325.08 751,338.69 750.6,352.3 750.25,365.91 749.94,379.52 749.65,393.13 749.4,406.74 749.17,420.35 748.96,433.96 748.77,447.57 748.59,461.18 748.43,474.79 748.27,488.4 740.52,488.4 740.37,474.79 740.21,461.18 740.03,447.57 739.84,433.96 739.63,420.35 739.4,406.74 739.15,393.13 738.86,379.52 738.55,365.91 738.2,352.3 737.8,338.69 737.35,325.08 736.84,311.47 736.24,297.86 735.54,284.25 734.71,270.64" fill="url(#ov)"/>
<path d="M1027.9,215L1027.02,226.4L1026.32,237.79L1025.75,249.19L1025.27,260.58L1024.86,271.98L1024.51,283.38L1024.21,294.77L1023.95,306.17L1023.72,317.56L1023.51,328.96L1023.33,340.35L1023.16,351.75L1023.01,363.15L1022.87,374.54L1022.75,385.94L1022.63,397.33L1022.53,408.73L1022.43,420.12L1022.34,431.52L1022.26,442.92L1022.18,454.31L1022.11,465.71L1022.04,477.1L1021.98,488.5L1021.74,488.5L1021.8,477.1L1021.86,465.71L1021.92,454.31L1021.99,442.92L1022.07,431.52L1022.14,420.12L1022.23,408.73L1022.32,397.33L1022.42,385.94L1022.53,374.54L1022.66,363.15L1022.79,351.75L1022.93,340.35L1023.1,328.96L1023.28,317.56L1023.49,306.17L1023.72,294.77L1023.98,283.38L1024.29,271.98L1024.65,260.58L1025.07,249.19L1025.58,237.79L1026.2,226.4L1026.97,215ZM1026.04,215L1025.37,226.4L1024.83,237.79L1024.39,249.19L1024.03,260.58L1023.72,271.98L1023.45,283.38L1023.22,294.77L1023.02,306.17L1022.84,317.56L1022.68,328.96L1022.54,340.35L1022.42,351.75L1022.3,363.15L1022.2,374.54L1022.1,385.94L1022.01,397.33L1021.93,408.73L1021.86,420.12L1021.79,431.52L1021.73,442.92L1021.67,454.31L1021.61,465.71L1021.56,477.1L1021.51,488.5L1021.28,488.5L1021.32,477.1L1021.36,465.71L1021.41,454.31L1021.46,442.92L1021.51,431.52L1021.57,420.12L1021.64,408.73L1021.7,397.33L1021.78,385.94L1021.86,374.54L1021.95,363.15L1022.04,351.75L1022.15,340.35L1022.27,328.96L1022.41,317.56L1022.56,306.17L1022.73,294.77L1022.92,283.38L1023.15,271.98L1023.41,260.58L1023.72,249.19L1024.09,237.79L1024.54,226.4L1025.11,215ZM1024.18,215L1023.72,226.4L1023.35,237.79L1023.04,249.19L1022.79,260.58L1022.57,271.98L1022.39,283.38L1022.23,294.77L1022.09,306.17L1021.97,317.56L1021.86,328.96L1021.76,340.35L1021.67,351.75L1021.59,363.15L1021.52,374.54L1021.45,385.94L1021.39,397.33L1021.34,408.73L1021.29,420.12L1021.24,431.52L1021.19,442.92L1021.15,454.31L1021.12,465.71L1021.08,477.1L1021.05,488.5L1020.81,488.5L1020.84,477.1L1020.87,465.71L1020.9,454.31L1020.93,442.92L1020.96,431.52L1021,420.12L1021.04,408.73L1021.08,397.33L1021.13,385.94L1021.18,374.54L1021.24,363.15L1021.3,351.75L1021.37,340.35L1021.45,328.96L1021.53,317.56L1021.63,306.17L1021.73,294.77L1021.86,283.38L1022,271.98L1022.17,260.58L1022.37,249.19L1022.6,237.79L1022.89,226.4L1023.25,215ZM1022.32,215L1022.07,226.4L1021.86,237.79L1021.69,249.19L1021.55,260.58L1021.43,271.98L1021.33,283.38L1021.24,294.77L1021.16,306.17L1021.09,317.56L1021.03,328.96L1020.98,340.35L1020.93,351.75L1020.89,363.15L1020.84,374.54L1020.81,385.94L1020.77,397.33L1020.74,408.73L1020.71,420.12L1020.69,431.52L1020.66,442.92L1020.64,454.31L1020.62,465.71L1020.6,477.1L1020.58,488.5L1020.35,488.5L1020.36,477.1L1020.37,465.71L1020.38,454.31L1020.4,442.92L1020.41,431.52L1020.43,420.12L1020.45,408.73L1020.46,397.33L1020.48,385.94L1020.51,374.54L1020.53,363.15L1020.56,351.75L1020.59,340.35L1020.62,328.96L1020.66,317.56L1020.7,306.17L1020.74,294.77L1020.8,283.38L1020.86,271.98L1020.93,260.58L1021.01,249.19L1021.12,237.79L1021.24,226.4L1021.39,215ZM1020.46,215L1020.41,226.4L1020.37,237.79L1020.34,249.19L1020.31,260.58L1020.29,271.98L1020.27,283.38L1020.25,294.77L1020.23,306.17L1020.22,317.56L1020.21,328.96L1020.2,340.35L1020.19,351.75L1020.18,363.15L1020.17,374.54L1020.16,385.94L1020.15,397.33L1020.15,408.73L1020.14,420.12L1020.14,431.52L1020.13,442.92L1020.13,454.31L1020.12,465.71L1020.12,477.1L1020.12,488.5L1019.88,488.5L1019.88,477.1L1019.88,465.71L1019.87,454.31L1019.87,442.92L1019.86,431.52L1019.86,420.12L1019.85,408.73L1019.85,397.33L1019.84,385.94L1019.83,374.54L1019.82,363.15L1019.81,351.75L1019.8,340.35L1019.79,328.96L1019.78,317.56L1019.77,306.17L1019.75,294.77L1019.73,283.38L1019.71,271.98L1019.69,260.58L1019.66,249.19L1019.63,237.79L1019.59,226.4L1019.54,215ZM1018.61,215L1018.76,226.4L1018.88,237.79L1018.99,249.19L1019.07,260.58L1019.14,271.98L1019.2,283.38L1019.26,294.77L1019.3,306.17L1019.34,317.56L1019.38,328.96L1019.41,340.35L1019.44,351.75L1019.47,363.15L1019.49,374.54L1019.52,385.94L1019.54,397.33L1019.55,408.73L1019.57,420.12L1019.59,431.52L1019.6,442.92L1019.62,454.31L1019.63,465.71L1019.64,477.1L1019.65,488.5L1019.42,488.5L1019.4,477.1L1019.38,465.71L1019.36,454.31L1019.34,442.92L1019.31,431.52L1019.29,420.12L1019.26,408.73L1019.23,397.33L1019.19,385.94L1019.16,374.54L1019.11,363.15L1019.07,351.75L1019.02,340.35L1018.97,328.96L1018.91,317.56L1018.84,306.17L1018.76,294.77L1018.67,283.38L1018.57,271.98L1018.45,260.58L1018.31,249.19L1018.14,237.79L1017.93,226.4L1017.68,215ZM1016.75,215L1017.11,226.4L1017.4,237.79L1017.63,249.19L1017.83,260.58L1018,271.98L1018.14,283.38L1018.27,294.77L1018.37,306.17L1018.47,317.56L1018.55,328.96L1018.63,340.35L1018.7,351.75L1018.76,363.15L1018.82,374.54L1018.87,385.94L1018.92,397.33L1018.96,408.73L1019,420.12L1019.04,431.52L1019.07,442.92L1019.1,454.31L1019.13,465.71L1019.16,477.1L1019.19,488.5L1018.95,488.5L1018.92,477.1L1018.88,465.71L1018.85,454.31L1018.81,442.92L1018.76,431.52L1018.71,420.12L1018.66,408.73L1018.61,397.33L1018.55,385.94L1018.48,374.54L1018.41,363.15L1018.33,351.75L1018.24,340.35L1018.14,328.96L1018.03,317.56L1017.91,306.17L1017.77,294.77L1017.61,283.38L1017.43,271.98L1017.21,260.58L1016.96,249.19L1016.65,237.79L1016.28,226.4L1015.82,215ZM1014.89,215L1015.46,226.4L1015.91,237.79L1016.28,249.19L1016.59,260.58L1016.85,271.98L1017.08,283.38L1017.27,294.77L1017.44,306.17L1017.59,317.56L1017.73,328.96L1017.85,340.35L1017.96,351.75L1018.05,363.15L1018.14,374.54L1018.22,385.94L1018.3,397.33L1018.36,408.73L1018.43,420.12L1018.49,431.52L1018.54,442.92L1018.59,454.31L1018.64,465.71L1018.68,477.1L1018.72,488.5L1018.49,488.5L1018.44,477.1L1018.39,465.71L1018.33,454.31L1018.27,442.92L1018.21,431.52L1018.14,420.12L1018.07,408.73L1017.99,397.33L1017.9,385.94L1017.8,374.54L1017.7,363.15L1017.58,351.75L1017.46,340.35L1017.32,328.96L1017.16,317.56L1016.98,306.17L1016.78,294.77L1016.55,283.38L1016.28,271.98L1015.97,260.58L1015.61,249.19L1015.17,237.79L1014.63,226.4L1013.96,215ZM1013.03,215L1013.8,226.4L1014.42,237.79L1014.93,249.19L1015.35,260.58L1015.71,271.98L1016.02,283.38L1016.28,294.77L1016.51,306.17L1016.72,317.56L1016.9,328.96L1017.07,340.35L1017.21,351.75L1017.34,363.15L1017.47,374.54L1017.58,385.94L1017.68,397.33L1017.77,408.73L1017.86,420.12L1017.93,431.52L1018.01,442.92L1018.08,454.31L1018.14,465.71L1018.2,477.1L1018.26,488.5L1018.02,488.5L1017.96,477.1L1017.89,465.71L1017.82,454.31L1017.74,442.92L1017.66,431.52L1017.57,420.12L1017.47,408.73L1017.37,397.33L1017.25,385.94L1017.13,374.54L1016.99,363.15L1016.84,351.75L1016.67,340.35L1016.49,328.96L1016.28,317.56L1016.05,306.17L1015.79,294.77L1015.49,283.38L1015.14,271.98L1014.73,260.58L1014.25,249.19L1013.68,237.79L1012.98,226.4L1012.1,215Z" fill="#1c1c1c"/>
<polygon points="1028.1,215 1026.82,232.09 1025.89,249.19 1025.18,266.28 1024.63,283.38 1024.18,300.47 1023.81,317.56 1023.5,334.66 1023.24,351.75 1023.01,368.84 1022.82,385.94 1022.64,403.03 1022.49,420.12 1022.36,437.22 1022.23,454.31 1022.12,471.41 1022.02,488.5 1017.98,488.5 1017.88,471.41 1017.77,454.31 1017.64,437.22 1017.51,420.12 1017.36,403.03 1017.18,385.94 1016.99,368.84 1016.76,351.75 1016.5,334.66 1016.19,317.56 1015.82,300.47 1015.37,283.38 1014.82,266.28 1014.11,249.19 1013.18,232.09 1011.9,215" fill="#8b8b8b" fill-opacity="0.6"/>
<line x1="769.2" y1="215.8" x2="787" y2="215.8" stroke="#000" stroke-width="1.6"/>
<line x1="1040.1" y1="215" x2="1057.9" y2="215" stroke="#000" stroke-width="1.6"/>
<line x1="766.14" y1="233.99" x2="792.84" y2="233.99" stroke="#000" stroke-width="1.6"/>
<text transform="translate(803.8,238.69) scale(1.22,1)" font-size="17.6" text-anchor="middle" class="n" letter-spacing="-0.95">6</text>
<line x1="1037.04" y1="233.19" x2="1063.74" y2="233.19" stroke="#000" stroke-width="1.6"/>
<text transform="translate(1079.3,238.3) scale(1.22,1)" font-size="17.6" text-anchor="middle" class="n" letter-spacing="-0.95">12</text>
<line x1="764.13" y1="252.18" x2="781.93" y2="252.18" stroke="#000" stroke-width="1.6"/>
<line x1="1035.03" y1="251.38" x2="1052.83" y2="251.38" stroke="#000" stroke-width="1.6"/>
<line x1="762.72" y1="270.37" x2="789.42" y2="270.37" stroke="#000" stroke-width="1.6"/>
<text transform="translate(803.8,275.07) scale(1.22,1)" font-size="17.6" text-anchor="middle" class="n" letter-spacing="-0.95">8</text>
<line x1="1033.62" y1="269.57" x2="1060.32" y2="269.57" stroke="#000" stroke-width="1.6"/>
<text transform="translate(1079.3,279.2) scale(1.22,1)" font-size="17.6" text-anchor="middle" class="n" letter-spacing="-0.95">16</text>
<line x1="761.7" y1="288.56" x2="779.5" y2="288.56" stroke="#000" stroke-width="1.6"/>
<line x1="1032.6" y1="287.76" x2="1050.4" y2="287.76" stroke="#000" stroke-width="1.6"/>
<line x1="760.93" y1="306.75" x2="787.63" y2="306.75" stroke="#000" stroke-width="1.6"/>
<text transform="translate(803.5,311.45) scale(1.22,1)" font-size="17.6" text-anchor="middle" class="n" letter-spacing="-0.95">10</text>
<line x1="1031.83" y1="305.95" x2="1058.53" y2="305.95" stroke="#000" stroke-width="1.6"/>
<text transform="translate(1079.3,312.5) scale(1.22,1)" font-size="17.6" text-anchor="middle" class="n" letter-spacing="-0.95">20</text>
<line x1="760.32" y1="324.94" x2="778.12" y2="324.94" stroke="#000" stroke-width="1.6"/>
<line x1="1031.22" y1="324.14" x2="1049.02" y2="324.14" stroke="#000" stroke-width="1.6"/>
<line x1="759.84" y1="343.13" x2="786.54" y2="343.13" stroke="#000" stroke-width="1.6"/>
<text transform="translate(802.9,347.83) scale(1.22,1)" font-size="17.6" text-anchor="middle" class="n" letter-spacing="-0.95">12</text>
<line x1="1030.74" y1="342.33" x2="1057.44" y2="342.33" stroke="#000" stroke-width="1.6"/>
<text transform="translate(1079.3,347.5) scale(1.22,1)" font-size="17.6" text-anchor="middle" class="n" letter-spacing="-0.95">24</text>
<line x1="759.45" y1="361.32" x2="777.25" y2="361.32" stroke="#000" stroke-width="1.6"/>
<line x1="1030.35" y1="360.52" x2="1048.15" y2="360.52" stroke="#000" stroke-width="1.6"/>
<line x1="759.13" y1="379.51" x2="785.83" y2="379.51" stroke="#000" stroke-width="1.6"/>
<text transform="translate(802.3,384.21) scale(1.22,1)" font-size="17.6" text-anchor="middle" class="n" letter-spacing="-0.95">14</text>
<line x1="1030.03" y1="378.71" x2="1056.73" y2="378.71" stroke="#000" stroke-width="1.6"/>
<text transform="translate(1079.3,385) scale(1.22,1)" font-size="17.6" text-anchor="middle" class="n" letter-spacing="-0.95">28</text>
<line x1="758.86" y1="397.7" x2="776.66" y2="397.7" stroke="#000" stroke-width="1.6"/>
<line x1="1029.76" y1="396.9" x2="1047.56" y2="396.9" stroke="#000" stroke-width="1.6"/>
<line x1="758.64" y1="415.89" x2="785.34" y2="415.89" stroke="#000" stroke-width="1.6"/>
<text transform="translate(801.7,420.59) scale(1.22,1)" font-size="17.6" text-anchor="middle" class="n" letter-spacing="-0.95">16</text>
<line x1="1029.54" y1="415.09" x2="1056.24" y2="415.09" stroke="#000" stroke-width="1.6"/>
<text transform="translate(1079.3,418.7) scale(1.22,1)" font-size="17.6" text-anchor="middle" class="n" letter-spacing="-0.95">32</text>
<line x1="758.44" y1="434.08" x2="776.24" y2="434.08" stroke="#000" stroke-width="1.6"/>
<line x1="1029.34" y1="433.28" x2="1047.14" y2="433.28" stroke="#000" stroke-width="1.6"/>
<line x1="758.27" y1="452.27" x2="784.97" y2="452.27" stroke="#000" stroke-width="1.6"/>
<text transform="translate(801.1,456.97) scale(1.22,1)" font-size="17.6" text-anchor="middle" class="n" letter-spacing="-0.95">18</text>
<line x1="1029.17" y1="451.47" x2="1055.87" y2="451.47" stroke="#000" stroke-width="1.6"/>
<text transform="translate(1079.3,455.8) scale(1.22,1)" font-size="17.6" text-anchor="middle" class="n" letter-spacing="-0.95">36</text>
<line x1="758.13" y1="470.46" x2="775.93" y2="470.46" stroke="#000" stroke-width="1.6"/>
<line x1="1029.03" y1="469.66" x2="1046.83" y2="469.66" stroke="#000" stroke-width="1.6"/>
<line x1="758" y1="488.65" x2="784.7" y2="488.65" stroke="#000" stroke-width="1.6"/>
<text transform="translate(800.5,493.35) scale(1.22,1)" font-size="17.6" text-anchor="middle" class="n" letter-spacing="-0.95">20</text>
<line x1="1028.9" y1="487.85" x2="1055.6" y2="487.85" stroke="#000" stroke-width="1.6"/>
<text transform="translate(1079.3,495) scale(1.22,1)" font-size="17.6" text-anchor="middle" class="n" letter-spacing="-0.95">40</text>
<path d="M580.8,530.8L592.15,532.49L603.5,533.84L614.85,534.95L626.2,535.87L637.55,536.65L648.9,537.31L660.25,537.89L671.6,538.4L682.95,538.85L694.3,539.24L705.65,539.6L717,539.92L728.35,540.21L739.7,540.47L751.05,540.71L762.4,540.93L773.75,541.14L785.1,541.32L796.45,541.5L807.8,541.66L819.15,541.81L830.5,541.95L841.85,542.08L853.2,542.2L853.2,542.65L841.85,542.54L830.5,542.42L819.15,542.3L807.8,542.17L796.45,542.03L785.1,541.87L773.75,541.71L762.4,541.53L751.05,541.34L739.7,541.12L728.35,540.89L717,540.64L705.65,540.35L694.3,540.04L682.95,539.69L671.6,539.29L660.25,538.85L648.9,538.34L637.55,537.75L626.2,537.06L614.85,536.25L603.5,535.27L592.15,534.08L580.8,532.59ZM580.8,534.38L592.15,535.67L603.5,536.7L614.85,537.55L626.2,538.25L637.55,538.85L648.9,539.36L660.25,539.8L671.6,540.19L682.95,540.53L694.3,540.83L705.65,541.11L717,541.35L728.35,541.57L739.7,541.77L751.05,541.96L762.4,542.13L773.75,542.28L785.1,542.42L796.45,542.56L807.8,542.68L819.15,542.79L830.5,542.9L841.85,543L853.2,543.09L853.2,543.54L841.85,543.46L830.5,543.38L819.15,543.29L807.8,543.19L796.45,543.09L785.1,542.97L773.75,542.85L762.4,542.72L751.05,542.58L739.7,542.42L728.35,542.25L717,542.07L705.65,541.86L694.3,541.63L682.95,541.37L671.6,541.08L660.25,540.75L648.9,540.38L637.55,539.95L626.2,539.44L614.85,538.85L603.5,538.13L592.15,537.26L580.8,536.16ZM580.8,537.95L592.15,538.85L603.5,539.56L614.85,540.15L626.2,540.64L637.55,541.05L648.9,541.4L660.25,541.71L671.6,541.98L682.95,542.21L694.3,542.42L705.65,542.61L717,542.78L728.35,542.93L739.7,543.07L751.05,543.2L762.4,543.32L773.75,543.42L785.1,543.52L796.45,543.62L807.8,543.7L819.15,543.78L830.5,543.85L841.85,543.92L853.2,543.99L853.2,544.44L841.85,544.38L830.5,544.33L819.15,544.27L807.8,544.21L796.45,544.15L785.1,544.07L773.75,544L762.4,543.91L751.05,543.82L739.7,543.72L728.35,543.62L717,543.5L705.65,543.36L694.3,543.22L682.95,543.05L671.6,542.87L660.25,542.66L648.9,542.42L637.55,542.15L626.2,541.83L614.85,541.45L603.5,540.99L592.15,540.44L580.8,539.74ZM580.8,541.53L592.15,542.03L603.5,542.42L614.85,542.75L626.2,543.02L637.55,543.25L648.9,543.45L660.25,543.62L671.6,543.76L682.95,543.9L694.3,544.01L705.65,544.12L717,544.21L728.35,544.3L739.7,544.37L751.05,544.45L762.4,544.51L773.75,544.57L785.1,544.62L796.45,544.68L807.8,544.72L819.15,544.77L830.5,544.81L841.85,544.85L853.2,544.88L853.2,545.33L841.85,545.31L830.5,545.28L819.15,545.26L807.8,545.23L796.45,545.21L785.1,545.17L773.75,545.14L762.4,545.11L751.05,545.07L739.7,545.02L728.35,544.98L717,544.93L705.65,544.87L694.3,544.81L682.95,544.74L671.6,544.66L660.25,544.57L648.9,544.47L637.55,544.35L626.2,544.21L614.85,544.05L603.5,543.85L592.15,543.62L580.8,543.32ZM580.8,545.11L592.15,545.21L603.5,545.28L614.85,545.35L626.2,545.4L637.55,545.45L648.9,545.49L660.25,545.52L671.6,545.55L682.95,545.58L694.3,545.6L705.65,545.62L717,545.64L728.35,545.66L739.7,545.67L751.05,545.69L762.4,545.7L773.75,545.71L785.1,545.72L796.45,545.74L807.8,545.74L819.15,545.75L830.5,545.76L841.85,545.77L853.2,545.78L853.2,546.22L841.85,546.23L830.5,546.24L819.15,546.25L807.8,546.26L796.45,546.26L785.1,546.28L773.75,546.29L762.4,546.3L751.05,546.31L739.7,546.33L728.35,546.34L717,546.36L705.65,546.38L694.3,546.4L682.95,546.42L671.6,546.45L660.25,546.48L648.9,546.51L637.55,546.55L626.2,546.6L614.85,546.65L603.5,546.72L592.15,546.79L580.8,546.89ZM580.8,548.68L592.15,548.38L603.5,548.15L614.85,547.95L626.2,547.79L637.55,547.65L648.9,547.53L660.25,547.43L671.6,547.34L682.95,547.26L694.3,547.19L705.65,547.13L717,547.07L728.35,547.02L739.7,546.98L751.05,546.93L762.4,546.89L773.75,546.86L785.1,546.83L796.45,546.79L807.8,546.77L819.15,546.74L830.5,546.72L841.85,546.69L853.2,546.67L853.2,547.12L841.85,547.15L830.5,547.19L819.15,547.23L807.8,547.28L796.45,547.32L785.1,547.38L773.75,547.43L762.4,547.49L751.05,547.55L739.7,547.63L728.35,547.7L717,547.79L705.65,547.88L694.3,547.99L682.95,548.1L671.6,548.24L660.25,548.38L648.9,548.55L637.55,548.75L626.2,548.98L614.85,549.25L603.5,549.58L592.15,549.97L580.8,550.47ZM580.8,552.26L592.15,551.56L603.5,551.01L614.85,550.55L626.2,550.17L637.55,549.85L648.9,549.58L660.25,549.34L671.6,549.13L682.95,548.95L694.3,548.78L705.65,548.64L717,548.5L728.35,548.38L739.7,548.28L751.05,548.18L762.4,548.09L773.75,548L785.1,547.93L796.45,547.85L807.8,547.79L819.15,547.73L830.5,547.67L841.85,547.62L853.2,547.56L853.2,548.01L841.85,548.08L830.5,548.15L819.15,548.22L807.8,548.3L796.45,548.38L785.1,548.48L773.75,548.58L762.4,548.68L751.05,548.8L739.7,548.93L728.35,549.07L717,549.22L705.65,549.39L694.3,549.58L682.95,549.79L671.6,550.02L660.25,550.29L648.9,550.6L637.55,550.95L626.2,551.36L614.85,551.85L603.5,552.44L592.15,553.15L580.8,554.05ZM580.8,555.84L592.15,554.74L603.5,553.87L614.85,553.15L626.2,552.56L637.55,552.05L648.9,551.62L660.25,551.25L671.6,550.92L682.95,550.63L694.3,550.37L705.65,550.14L717,549.93L728.35,549.75L739.7,549.58L751.05,549.42L762.4,549.28L773.75,549.15L785.1,549.03L796.45,548.91L807.8,548.81L819.15,548.71L830.5,548.62L841.85,548.54L853.2,548.46L853.2,548.91L841.85,549L830.5,549.1L819.15,549.21L807.8,549.32L796.45,549.44L785.1,549.58L773.75,549.72L762.4,549.87L751.05,550.04L739.7,550.23L728.35,550.43L717,550.65L705.65,550.89L694.3,551.17L682.95,551.47L671.6,551.81L660.25,552.2L648.9,552.64L637.55,553.15L626.2,553.75L614.85,554.45L603.5,555.3L592.15,556.33L580.8,557.62ZM580.8,559.41L592.15,557.92L603.5,556.73L614.85,555.75L626.2,554.94L637.55,554.25L648.9,553.66L660.25,553.15L671.6,552.71L682.95,552.31L694.3,551.96L705.65,551.65L717,551.36L728.35,551.11L739.7,550.88L751.05,550.66L762.4,550.47L773.75,550.29L785.1,550.13L796.45,549.97L807.8,549.83L819.15,549.7L830.5,549.58L841.85,549.46L853.2,549.35L853.2,549.8L841.85,549.92L830.5,550.05L819.15,550.19L807.8,550.34L796.45,550.5L785.1,550.68L773.75,550.86L762.4,551.07L751.05,551.29L739.7,551.53L728.35,551.79L717,552.08L705.65,552.4L694.3,552.76L682.95,553.15L671.6,553.6L660.25,554.11L648.9,554.69L637.55,555.35L626.2,556.13L614.85,557.05L603.5,558.16L592.15,559.51L580.8,561.2Z" fill="url(#gh)"/>
<polygon points="635.28,536.31 648.9,537.14 662.52,537.84 676.14,538.44 689.76,538.95 703.38,539.4 717,539.8 730.62,540.15 744.24,540.46 757.86,540.75 771.48,541 785.1,541.23 798.72,541.44 812.34,541.63 825.96,541.81 839.58,541.97 853.2,542.12 853.2,549.88 839.58,550.03 825.96,550.19 812.34,550.37 798.72,550.56 785.1,550.77 771.48,551 757.86,551.25 744.24,551.54 730.62,551.85 717,552.2 703.38,552.6 689.76,553.05 676.14,553.56 662.52,554.16 648.9,554.86 635.28,555.69" fill="url(#oh)"/>
<path d="M1219.6,554.3L1208.17,553.41L1196.75,552.7L1185.32,552.12L1173.9,551.63L1162.47,551.22L1151.05,550.87L1139.62,550.57L1128.2,550.3L1116.77,550.06L1105.35,549.86L1093.92,549.67L1082.5,549.5L1071.07,549.35L1059.65,549.21L1048.22,549.08L1036.8,548.97L1025.38,548.86L1013.95,548.76L1002.52,548.67L991.1,548.59L979.67,548.51L968.25,548.43L956.82,548.36L945.4,548.3L945.4,548.06L956.82,548.12L968.25,548.18L979.67,548.25L991.1,548.32L1002.52,548.39L1013.95,548.47L1025.38,548.56L1036.8,548.65L1048.22,548.76L1059.65,548.87L1071.07,548.99L1082.5,549.12L1093.92,549.27L1105.35,549.44L1116.77,549.62L1128.2,549.83L1139.62,550.06L1151.05,550.33L1162.47,550.64L1173.9,551.01L1185.32,551.43L1196.75,551.95L1208.17,552.57L1219.6,553.36ZM1219.6,552.42L1208.17,551.74L1196.75,551.19L1185.32,550.75L1173.9,550.38L1162.47,550.06L1151.05,549.8L1139.62,549.56L1128.2,549.36L1116.77,549.18L1105.35,549.02L1093.92,548.88L1082.5,548.75L1071.07,548.63L1059.65,548.52L1048.22,548.43L1036.8,548.34L1025.38,548.26L1013.95,548.18L1002.52,548.11L991.1,548.05L979.67,547.99L968.25,547.93L956.82,547.88L945.4,547.83L945.4,547.59L956.82,547.64L968.25,547.68L979.67,547.73L991.1,547.78L1002.52,547.83L1013.95,547.89L1025.38,547.96L1036.8,548.03L1048.22,548.1L1059.65,548.18L1071.07,548.27L1082.5,548.37L1093.92,548.48L1105.35,548.6L1116.77,548.74L1128.2,548.89L1139.62,549.06L1151.05,549.26L1162.47,549.49L1173.9,549.75L1185.32,550.06L1196.75,550.44L1208.17,550.9L1219.6,551.48ZM1219.6,550.54L1208.17,550.06L1196.75,549.69L1185.32,549.38L1173.9,549.12L1162.47,548.91L1151.05,548.72L1139.62,548.56L1128.2,548.42L1116.77,548.29L1105.35,548.18L1093.92,548.08L1082.5,547.99L1071.07,547.91L1059.65,547.84L1048.22,547.77L1036.8,547.71L1025.38,547.66L1013.95,547.6L1002.52,547.55L991.1,547.51L979.67,547.47L968.25,547.43L956.82,547.39L945.4,547.36L945.4,547.12L956.82,547.15L968.25,547.18L979.67,547.21L991.1,547.24L1002.52,547.28L1013.95,547.31L1025.38,547.35L1036.8,547.4L1048.22,547.45L1059.65,547.5L1071.07,547.55L1082.5,547.62L1093.92,547.69L1105.35,547.76L1116.77,547.85L1128.2,547.95L1139.62,548.06L1151.05,548.18L1162.47,548.33L1173.9,548.5L1185.32,548.7L1196.75,548.94L1208.17,549.23L1219.6,549.59ZM1219.6,548.65L1208.17,548.39L1196.75,548.18L1185.32,548.01L1173.9,547.87L1162.47,547.75L1151.05,547.64L1139.62,547.55L1128.2,547.48L1116.77,547.41L1105.35,547.35L1093.92,547.29L1082.5,547.24L1071.07,547.2L1059.65,547.16L1048.22,547.12L1036.8,547.08L1025.38,547.05L1013.95,547.02L1002.52,547L991.1,546.97L979.67,546.95L968.25,546.93L956.82,546.91L945.4,546.89L945.4,546.65L956.82,546.66L968.25,546.68L979.67,546.69L991.1,546.7L1002.52,546.72L1013.95,546.73L1025.38,546.75L1036.8,546.77L1048.22,546.79L1059.65,546.81L1071.07,546.84L1082.5,546.86L1093.92,546.89L1105.35,546.93L1116.77,546.96L1128.2,547.01L1139.62,547.05L1151.05,547.11L1162.47,547.17L1173.9,547.24L1185.32,547.33L1196.75,547.43L1208.17,547.55L1219.6,547.71ZM1219.6,546.77L1208.17,546.72L1196.75,546.68L1185.32,546.64L1173.9,546.61L1162.47,546.59L1151.05,546.57L1139.62,546.55L1128.2,546.54L1116.77,546.52L1105.35,546.51L1093.92,546.5L1082.5,546.49L1071.07,546.48L1059.65,546.47L1048.22,546.46L1036.8,546.46L1025.38,546.45L1013.95,546.44L1002.52,546.44L991.1,546.43L979.67,546.43L968.25,546.43L956.82,546.42L945.4,546.42L945.4,546.18L956.82,546.18L968.25,546.17L979.67,546.17L991.1,546.17L1002.52,546.16L1013.95,546.16L1025.38,546.15L1036.8,546.14L1048.22,546.14L1059.65,546.13L1071.07,546.12L1082.5,546.11L1093.92,546.1L1105.35,546.09L1116.77,546.08L1128.2,546.06L1139.62,546.05L1151.05,546.03L1162.47,546.01L1173.9,545.99L1185.32,545.96L1196.75,545.92L1208.17,545.88L1219.6,545.83ZM1219.6,544.89L1208.17,545.05L1196.75,545.17L1185.32,545.27L1173.9,545.36L1162.47,545.43L1151.05,545.49L1139.62,545.55L1128.2,545.59L1116.77,545.64L1105.35,545.67L1093.92,545.71L1082.5,545.74L1071.07,545.76L1059.65,545.79L1048.22,545.81L1036.8,545.83L1025.38,545.85L1013.95,545.87L1002.52,545.88L991.1,545.9L979.67,545.91L968.25,545.92L956.82,545.94L945.4,545.95L945.4,545.71L956.82,545.69L968.25,545.67L979.67,545.65L991.1,545.63L1002.52,545.6L1013.95,545.58L1025.38,545.55L1036.8,545.52L1048.22,545.48L1059.65,545.44L1071.07,545.4L1082.5,545.36L1093.92,545.31L1105.35,545.25L1116.77,545.19L1128.2,545.12L1139.62,545.05L1151.05,544.96L1162.47,544.85L1173.9,544.73L1185.32,544.59L1196.75,544.42L1208.17,544.21L1219.6,543.95ZM1219.6,543.01L1208.17,543.37L1196.75,543.66L1185.32,543.9L1173.9,544.1L1162.47,544.27L1151.05,544.42L1139.62,544.54L1128.2,544.65L1116.77,544.75L1105.35,544.84L1093.92,544.91L1082.5,544.98L1071.07,545.05L1059.65,545.1L1048.22,545.15L1036.8,545.2L1025.38,545.25L1013.95,545.29L1002.52,545.32L991.1,545.36L979.67,545.39L968.25,545.42L956.82,545.45L945.4,545.48L945.4,545.24L956.82,545.21L968.25,545.17L979.67,545.13L991.1,545.09L1002.52,545.05L1013.95,545L1025.38,544.94L1036.8,544.89L1048.22,544.83L1059.65,544.76L1071.07,544.69L1082.5,544.61L1093.92,544.52L1105.35,544.42L1116.77,544.31L1128.2,544.18L1139.62,544.04L1151.05,543.88L1162.47,543.69L1173.9,543.48L1185.32,543.22L1196.75,542.91L1208.17,542.54L1219.6,542.06ZM1219.6,541.12L1208.17,541.7L1196.75,542.16L1185.32,542.54L1173.9,542.85L1162.47,543.11L1151.05,543.34L1139.62,543.54L1128.2,543.71L1116.77,543.86L1105.35,544L1093.92,544.12L1082.5,544.23L1071.07,544.33L1059.65,544.42L1048.22,544.5L1036.8,544.57L1025.38,544.64L1013.95,544.71L1002.52,544.77L991.1,544.82L979.67,544.87L968.25,544.92L956.82,544.96L945.4,545.01L945.4,544.77L956.82,544.72L968.25,544.67L979.67,544.61L991.1,544.55L1002.52,544.49L1013.95,544.42L1025.38,544.34L1036.8,544.26L1048.22,544.17L1059.65,544.08L1071.07,543.97L1082.5,543.85L1093.92,543.72L1105.35,543.58L1116.77,543.42L1128.2,543.24L1139.62,543.04L1151.05,542.8L1162.47,542.54L1173.9,542.22L1185.32,541.85L1196.75,541.41L1208.17,540.86L1219.6,540.18ZM1219.6,539.24L1208.17,540.03L1196.75,540.65L1185.32,541.17L1173.9,541.59L1162.47,541.96L1151.05,542.27L1139.62,542.54L1128.2,542.77L1116.77,542.98L1105.35,543.16L1093.92,543.33L1082.5,543.48L1071.07,543.61L1059.65,543.73L1048.22,543.84L1036.8,543.95L1025.38,544.04L1013.95,544.13L1002.52,544.21L991.1,544.28L979.67,544.35L968.25,544.42L956.82,544.48L945.4,544.54L945.4,544.3L956.82,544.24L968.25,544.17L979.67,544.09L991.1,544.01L1002.52,543.93L1013.95,543.84L1025.38,543.74L1036.8,543.63L1048.22,543.52L1059.65,543.39L1071.07,543.25L1082.5,543.1L1093.92,542.93L1105.35,542.74L1116.77,542.54L1128.2,542.3L1139.62,542.03L1151.05,541.73L1162.47,541.38L1173.9,540.97L1185.32,540.48L1196.75,539.9L1208.17,539.19L1219.6,538.3Z" fill="#1c1c1c"/>
<polygon points="1219.6,554.5 1202.46,553.21 1185.32,552.26 1168.19,551.55 1151.05,550.99 1133.91,550.53 1116.77,550.16 1099.64,549.85 1082.5,549.58 1065.36,549.35 1048.22,549.15 1031.09,548.98 1013.95,548.82 996.81,548.69 979.67,548.56 962.54,548.45 945.4,548.35 945.4,544.25 962.54,544.15 979.67,544.04 996.81,543.91 1013.95,543.78 1031.09,543.62 1048.22,543.45 1065.36,543.25 1082.5,543.02 1099.64,542.75 1116.77,542.44 1133.91,542.07 1151.05,541.61 1168.19,541.05 1185.32,540.34 1202.46,539.39 1219.6,538.1" fill="#8b8b8b" fill-opacity="0.6"/>
<line x1="580.8" y1="570.8" x2="580.8" y2="588.6" stroke="#000" stroke-width="1.8"/>
<line x1="598.99" y1="567.74" x2="598.99" y2="594.54" stroke="#000" stroke-width="1.8"/>
<text transform="translate(599.19,612.6) scale(1.22,1)" font-size="17.6" text-anchor="middle" class="n" letter-spacing="-0.95">6</text>
<line x1="617.18" y1="565.73" x2="617.18" y2="583.53" stroke="#000" stroke-width="1.8"/>
<line x1="635.37" y1="564.32" x2="635.37" y2="591.12" stroke="#000" stroke-width="1.8"/>
<text transform="translate(635.57,612.6) scale(1.22,1)" font-size="17.6" text-anchor="middle" class="n" letter-spacing="-0.95">8</text>
<line x1="653.56" y1="563.3" x2="653.56" y2="581.1" stroke="#000" stroke-width="1.8"/>
<line x1="671.75" y1="562.53" x2="671.75" y2="589.33" stroke="#000" stroke-width="1.8"/>
<text transform="translate(671.95,612.6) scale(1.22,1)" font-size="17.6" text-anchor="middle" class="n" letter-spacing="-0.95">10</text>
<line x1="689.94" y1="561.92" x2="689.94" y2="579.72" stroke="#000" stroke-width="1.8"/>
<line x1="708.13" y1="561.44" x2="708.13" y2="588.24" stroke="#000" stroke-width="1.8"/>
<text transform="translate(708.33,612.6) scale(1.22,1)" font-size="17.6" text-anchor="middle" class="n" letter-spacing="-0.95">12</text>
<line x1="726.32" y1="561.05" x2="726.32" y2="578.85" stroke="#000" stroke-width="1.8"/>
<line x1="744.51" y1="560.73" x2="744.51" y2="587.53" stroke="#000" stroke-width="1.8"/>
<text transform="translate(744.71,612.6) scale(1.22,1)" font-size="17.6" text-anchor="middle" class="n" letter-spacing="-0.95">14</text>
<line x1="762.7" y1="560.46" x2="762.7" y2="578.26" stroke="#000" stroke-width="1.8"/>
<line x1="780.89" y1="560.24" x2="780.89" y2="587.04" stroke="#000" stroke-width="1.8"/>
<text transform="translate(781.09,612.6) scale(1.22,1)" font-size="17.6" text-anchor="middle" class="n" letter-spacing="-0.95">16</text>
<line x1="799.08" y1="560.04" x2="799.08" y2="577.84" stroke="#000" stroke-width="1.8"/>
<line x1="817.27" y1="559.87" x2="817.27" y2="586.67" stroke="#000" stroke-width="1.8"/>
<text transform="translate(817.47,612.6) scale(1.22,1)" font-size="17.6" text-anchor="middle" class="n" letter-spacing="-0.95">18</text>
<line x1="835.46" y1="559.73" x2="835.46" y2="577.53" stroke="#000" stroke-width="1.8"/>
<line x1="1219.8" y1="565.9" x2="1219.8" y2="583.7" stroke="#000" stroke-width="1.8"/>
<line x1="1201.61" y1="562.84" x2="1201.61" y2="589.64" stroke="#000" stroke-width="1.8"/>
<text transform="translate(1201.81,608.3) scale(1.22,1)" font-size="16.7" text-anchor="middle" class="n" letter-spacing="-0.95">12</text>
<line x1="1183.42" y1="560.83" x2="1183.42" y2="578.63" stroke="#000" stroke-width="1.8"/>
<line x1="1165.23" y1="559.42" x2="1165.23" y2="586.22" stroke="#000" stroke-width="1.8"/>
<text transform="translate(1165.43,608.3) scale(1.22,1)" font-size="16.7" text-anchor="middle" class="n" letter-spacing="-0.95">16</text>
<line x1="1147.04" y1="558.4" x2="1147.04" y2="576.2" stroke="#000" stroke-width="1.8"/>
<line x1="1128.85" y1="557.63" x2="1128.85" y2="584.43" stroke="#000" stroke-width="1.8"/>
<text transform="translate(1129.05,608.3) scale(1.22,1)" font-size="16.7" text-anchor="middle" class="n" letter-spacing="-0.95">20</text>
<line x1="1110.66" y1="557.02" x2="1110.66" y2="574.82" stroke="#000" stroke-width="1.8"/>
<line x1="1092.47" y1="556.54" x2="1092.47" y2="583.34" stroke="#000" stroke-width="1.8"/>
<text transform="translate(1092.67,608.3) scale(1.22,1)" font-size="16.7" text-anchor="middle" class="n" letter-spacing="-0.95">24</text>
<line x1="1074.28" y1="556.15" x2="1074.28" y2="573.95" stroke="#000" stroke-width="1.8"/>
<line x1="1056.09" y1="555.83" x2="1056.09" y2="582.63" stroke="#000" stroke-width="1.8"/>
<text transform="translate(1056.29,608.3) scale(1.22,1)" font-size="16.7" text-anchor="middle" class="n" letter-spacing="-0.95">28</text>
<line x1="1037.9" y1="555.56" x2="1037.9" y2="573.36" stroke="#000" stroke-width="1.8"/>
<line x1="1019.71" y1="555.34" x2="1019.71" y2="582.14" stroke="#000" stroke-width="1.8"/>
<text transform="translate(1019.91,608.3) scale(1.22,1)" font-size="16.7" text-anchor="middle" class="n" letter-spacing="-0.95">32</text>
<line x1="1001.52" y1="555.14" x2="1001.52" y2="572.94" stroke="#000" stroke-width="1.8"/>
<line x1="983.33" y1="554.97" x2="983.33" y2="581.77" stroke="#000" stroke-width="1.8"/>
<text transform="translate(983.53,608.3) scale(1.22,1)" font-size="16.7" text-anchor="middle" class="n" letter-spacing="-0.95">36</text>
<line x1="965.14" y1="554.83" x2="965.14" y2="572.63" stroke="#000" stroke-width="1.8"/>
<path d="M633.8,422.8L687.95,420.58A54.2,54.2 0 0 1 687.95,425.02ZM633.8,422.8L687.52,430.02A54.2,54.2 0 0 1 686.75,434.39ZM633.8,422.8L685.45,439.23A54.2,54.2 0 0 1 683.93,443.41ZM633.8,422.8L681.81,447.95A54.2,54.2 0 0 1 679.59,451.8ZM633.8,422.8L676.71,455.91A54.2,54.2 0 0 1 673.86,459.31ZM633.8,422.8L670.31,462.86A54.2,54.2 0 0 1 666.91,465.71ZM633.8,422.8L662.8,468.59A54.2,54.2 0 0 1 658.95,470.81ZM633.8,422.8L654.41,472.93A54.2,54.2 0 0 1 650.23,474.45ZM633.8,422.8L645.39,475.75A54.2,54.2 0 0 1 641.02,476.52ZM633.8,422.8L636.02,476.95A54.2,54.2 0 0 1 631.58,476.95ZM633.8,422.8L626.58,476.52A54.2,54.2 0 0 1 622.21,475.75ZM633.8,422.8L617.37,474.45A54.2,54.2 0 0 1 613.19,472.93ZM633.8,422.8L608.65,470.81A54.2,54.2 0 0 1 604.8,468.59ZM633.8,422.8L600.69,465.71A54.2,54.2 0 0 1 597.29,462.86ZM633.8,422.8L593.74,459.31A54.2,54.2 0 0 1 590.89,455.91ZM633.8,422.8L588.01,451.8A54.2,54.2 0 0 1 585.79,447.95ZM633.8,422.8L583.67,443.41A54.2,54.2 0 0 1 582.15,439.23ZM633.8,422.8L580.85,434.39A54.2,54.2 0 0 1 580.08,430.02ZM633.8,422.8L579.65,425.02A54.2,54.2 0 0 1 579.65,420.58ZM633.8,422.8L580.08,415.58A54.2,54.2 0 0 1 580.85,411.21ZM633.8,422.8L582.15,406.37A54.2,54.2 0 0 1 583.67,402.19ZM633.8,422.8L585.79,397.65A54.2,54.2 0 0 1 588.01,393.8ZM633.8,422.8L590.89,389.69A54.2,54.2 0 0 1 593.74,386.29ZM633.8,422.8L597.29,382.74A54.2,54.2 0 0 1 600.69,379.89ZM633.8,422.8L604.8,377.01A54.2,54.2 0 0 1 608.65,374.79ZM633.8,422.8L613.19,372.67A54.2,54.2 0 0 1 617.37,371.15ZM633.8,422.8L622.21,369.85A54.2,54.2 0 0 1 626.58,369.08ZM633.8,422.8L631.58,368.65A54.2,54.2 0 0 1 636.02,368.65ZM633.8,422.8L641.02,369.08A54.2,54.2 0 0 1 645.39,369.85ZM633.8,422.8L650.23,371.15A54.2,54.2 0 0 1 654.41,372.67ZM633.8,422.8L658.95,374.79A54.2,54.2 0 0 1 662.8,377.01ZM633.8,422.8L666.91,379.89A54.2,54.2 0 0 1 670.31,382.74ZM633.8,422.8L673.86,386.29A54.2,54.2 0 0 1 676.71,389.69ZM633.8,422.8L679.59,393.8A54.2,54.2 0 0 1 681.81,397.65ZM633.8,422.8L683.93,402.19A54.2,54.2 0 0 1 685.45,406.37ZM633.8,422.8L686.75,411.21A54.2,54.2 0 0 1 687.52,415.58Z" fill="#111"/>
<circle cx="633.8" cy="422.8" r="10.5" fill="url(#sc)"/>
<path d="M1150,700.8L1204.15,698.58A54.2,54.2 0 0 1 1204.15,703.02ZM1150,700.8L1203.72,708.02A54.2,54.2 0 0 1 1202.95,712.39ZM1150,700.8L1201.65,717.23A54.2,54.2 0 0 1 1200.13,721.41ZM1150,700.8L1198.01,725.95A54.2,54.2 0 0 1 1195.79,729.8ZM1150,700.8L1192.91,733.91A54.2,54.2 0 0 1 1190.06,737.31ZM1150,700.8L1186.51,740.86A54.2,54.2 0 0 1 1183.11,743.71ZM1150,700.8L1179,746.59A54.2,54.2 0 0 1 1175.15,748.81ZM1150,700.8L1170.61,750.93A54.2,54.2 0 0 1 1166.43,752.45ZM1150,700.8L1161.59,753.75A54.2,54.2 0 0 1 1157.22,754.52ZM1150,700.8L1152.22,754.95A54.2,54.2 0 0 1 1147.78,754.95ZM1150,700.8L1142.78,754.52A54.2,54.2 0 0 1 1138.41,753.75ZM1150,700.8L1133.57,752.45A54.2,54.2 0 0 1 1129.39,750.93ZM1150,700.8L1124.85,748.81A54.2,54.2 0 0 1 1121,746.59ZM1150,700.8L1116.89,743.71A54.2,54.2 0 0 1 1113.49,740.86ZM1150,700.8L1109.94,737.31A54.2,54.2 0 0 1 1107.09,733.91ZM1150,700.8L1104.21,729.8A54.2,54.2 0 0 1 1101.99,725.95ZM1150,700.8L1099.87,721.41A54.2,54.2 0 0 1 1098.35,717.23ZM1150,700.8L1097.05,712.39A54.2,54.2 0 0 1 1096.28,708.02ZM1150,700.8L1095.85,703.02A54.2,54.2 0 0 1 1095.85,698.58ZM1150,700.8L1096.28,693.58A54.2,54.2 0 0 1 1097.05,689.21ZM1150,700.8L1098.35,684.37A54.2,54.2 0 0 1 1099.87,680.19ZM1150,700.8L1101.99,675.65A54.2,54.2 0 0 1 1104.21,671.8ZM1150,700.8L1107.09,667.69A54.2,54.2 0 0 1 1109.94,664.29ZM1150,700.8L1113.49,660.74A54.2,54.2 0 0 1 1116.89,657.89ZM1150,700.8L1121,655.01A54.2,54.2 0 0 1 1124.85,652.79ZM1150,700.8L1129.39,650.67A54.2,54.2 0 0 1 1133.57,649.15ZM1150,700.8L1138.41,647.85A54.2,54.2 0 0 1 1142.78,647.08ZM1150,700.8L1147.78,646.65A54.2,54.2 0 0 1 1152.22,646.65ZM1150,700.8L1157.22,647.08A54.2,54.2 0 0 1 1161.59,647.85ZM1150,700.8L1166.43,649.15A54.2,54.2 0 0 1 1170.61,650.67ZM1150,700.8L1175.15,652.79A54.2,54.2 0 0 1 1179,655.01ZM1150,700.8L1183.11,657.89A54.2,54.2 0 0 1 1186.51,660.74ZM1150,700.8L1190.06,664.29A54.2,54.2 0 0 1 1192.91,667.69ZM1150,700.8L1195.79,671.8A54.2,54.2 0 0 1 1198.01,675.65ZM1150,700.8L1200.13,680.19A54.2,54.2 0 0 1 1201.65,684.37ZM1150,700.8L1202.95,689.21A54.2,54.2 0 0 1 1203.72,693.58Z" fill="#111"/>
<circle cx="1150" cy="700.8" r="10.5" fill="url(#sc)"/>
<circle cx="643.8" cy="700.8" r="52.8" fill="none" stroke="#000" stroke-width="3.7"/>
<line x1="591.8" y1="700.8" x2="695.8" y2="700.8" stroke="#000" stroke-width="3.3"/>
<line x1="607.03" y1="664.03" x2="680.57" y2="737.57" stroke="#000" stroke-width="3.3"/>
<line x1="643.8" y1="648.8" x2="643.8" y2="752.8" stroke="#000" stroke-width="3.3"/>
<line x1="680.57" y1="664.03" x2="607.03" y2="737.57" stroke="#000" stroke-width="3.3"/>
<polygon points="896.7,174.5 918.7,174.5 905,310.8 882.8,310.8" fill="#000"/>
<rect x="862.5" y="176.3" width="10.8" height="2" fill="#000"/>
<rect x="871.3" y="167.5" width="2" height="10.8" fill="#000"/>
<rect x="928.3" y="176.3" width="10.8" height="2" fill="#000"/>
<rect x="928.3" y="167.5" width="2" height="10.8" fill="#000"/>
<rect x="862.5" y="306.7" width="10.8" height="2" fill="#000"/>
<rect x="871.3" y="306.7" width="2" height="10.8" fill="#000"/>
<rect x="928.3" y="306.7" width="10.8" height="2" fill="#000"/>
<rect x="928.3" y="306.7" width="2" height="10.8" fill="#000"/>
<rect x="898.3" y="160.8" width="2" height="10.9" fill="#000"/>
<rect x="898.3" y="165.5" width="10.9" height="1.7" fill="#000"/>
<rect x="900.8" y="313.3" width="2" height="10.9" fill="#000"/>
<rect x="892" y="318" width="10.8" height="1.7" fill="#000"/>
<rect x="861.8" y="330.2" width="78.6" height="164.2" fill="#979797" stroke="#4a4a4a" stroke-width="1"/>
<polygon points="896.7,344.2 918.8,344.2 905.5,480 883.3,480" fill="#3d3d3d"/>
<rect x="862.9" y="346.7" width="10.8" height="2" fill="#000"/>
<rect x="871.7" y="337.9" width="2" height="10.8" fill="#000"/>
<rect x="928.8" y="346.7" width="10.8" height="2" fill="#000"/>
<rect x="928.8" y="337.9" width="2" height="10.8" fill="#000"/>
<rect x="862.9" y="476.3" width="10.8" height="2" fill="#000"/>
<rect x="871.7" y="476.3" width="2" height="10.8" fill="#000"/>
<rect x="928.8" y="476.3" width="10.8" height="2" fill="#000"/>
<rect x="928.8" y="476.3" width="2" height="10.8" fill="#000"/>
<rect x="899.7" y="330.8" width="2" height="10.9" fill="#000"/>
<rect x="899.7" y="335" width="10.3" height="1.7" fill="#000"/>
<rect x="900.8" y="483.3" width="2" height="10.9" fill="#000"/>
<rect x="892" y="488" width="10.8" height="1.7" fill="#000"/>
<rect x="733.8" y="661.7" width="165" height="78.6" fill="#979797" stroke="#4a4a4a" stroke-width="1"/>
<polygon points="748.3,683.3 885,696.7 884.3,719 748.3,705.2" fill="#3d3d3d"/>
<rect x="741.7" y="671.3" width="10.8" height="2" fill="#000"/>
<rect x="750.5" y="662.5" width="2" height="10.8" fill="#000"/>
<rect x="880.5" y="671.3" width="10.8" height="2" fill="#000"/>
<rect x="880.5" y="662.5" width="2" height="10.8" fill="#000"/>
<rect x="741.7" y="728.8" width="10.8" height="2" fill="#000"/>
<rect x="750.5" y="728.8" width="2" height="10.8" fill="#000"/>
<rect x="880.5" y="728.8" width="10.8" height="2" fill="#000"/>
<rect x="880.5" y="728.8" width="2" height="10.8" fill="#000"/>
<rect x="734.2" y="701.3" width="10.8" height="1.7" fill="#000"/>
<rect x="739.2" y="692.5" width="2" height="10.5" fill="#000"/>
<rect x="886.7" y="699.7" width="10.8" height="1.7" fill="#000"/>
<rect x="891.2" y="699.7" width="2" height="10.8" fill="#000"/>
<polygon points="917.8,683 1054.2,696.3 1054.2,718.8 917.8,705.3" fill="#000"/>
<rect x="910.9" y="671.3" width="10.8" height="2" fill="#000"/>
<rect x="919.7" y="662.5" width="2" height="10.8" fill="#000"/>
<rect x="1050" y="671" width="10.8" height="2" fill="#000"/>
<rect x="1050" y="662.2" width="2" height="10.8" fill="#000"/>
<rect x="910.9" y="728.3" width="10.8" height="2" fill="#000"/>
<rect x="919.7" y="728.3" width="2" height="10.8" fill="#000"/>
<rect x="1050" y="728.3" width="10.8" height="2" fill="#000"/>
<rect x="1050" y="728.3" width="2" height="10.8" fill="#000"/>
<rect x="904.2" y="701.3" width="10.8" height="1.7" fill="#000"/>
<rect x="908.8" y="692" width="2" height="11" fill="#000"/>
<rect x="1056.7" y="698.3" width="10.8" height="1.7" fill="#000"/>
<rect x="1061.2" y="698.3" width="2" height="11.4" fill="#000"/>
<polygon points="1173,348.8 1206.7,382.5 1173,416.3 1139.2,382.5" fill="#000"/>
<rect x="1128" y="428.3" width="91.7" height="92.5" fill="#979797"/>
<polygon points="1173,440.5 1206.7,474.2 1173,508 1139.2,474.2" fill="#3d3d3d"/>
<rect x="1264.2" y="173" width="22.5" height="36.2" fill="#000"/>
<rect x="1286" y="182.2" width="23.5" height="17.8" fill="#000"/>
<rect x="513.3" y="883" width="22.9" height="35.8" fill="#000"/>
<rect x="490.8" y="892" width="23.2" height="17.7" fill="#000"/>
<rect x="854.6" y="500.6" width="90.8" height="90.8" fill="#000"/>
<clipPath id="cl"><polygon points="840,486 960,606 840,606"/></clipPath>
<clipPath id="cu"><polygon points="840,486 960,606 960,486"/></clipPath>
<g clip-path="url(#cl)">
<circle cx="900" cy="546" r="38.75" fill="#fff"/>
<circle cx="900" cy="546" r="31.65" fill="none" stroke="#000" stroke-width="3.3"/>
<circle cx="900" cy="546" r="23.12" fill="none" stroke="#000" stroke-width="3.75"/>
<circle cx="900" cy="546" r="12.5" fill="none" stroke="#000" stroke-width="6.6"/>
</g>
<g clip-path="url(#cu)">
<circle cx="900" cy="546" r="42" fill="#fff"/>
<circle cx="900" cy="546" r="10.5" fill="none" stroke="#000" stroke-width="2.6"/>
<circle cx="900" cy="546" r="15.57" fill="none" stroke="#000" stroke-width="2.34"/>
<circle cx="900" cy="546" r="20.13" fill="none" stroke="#000" stroke-width="2.11"/>
<circle cx="900" cy="546" r="24.24" fill="none" stroke="#000" stroke-width="1.9"/>
<circle cx="900" cy="546" r="27.94" fill="none" stroke="#000" stroke-width="1.71"/>
<circle cx="900" cy="546" r="31.26" fill="none" stroke="#000" stroke-width="1.54"/>
<circle cx="900" cy="546" r="34.26" fill="none" stroke="#000" stroke-width="1.38"/>
<circle cx="900" cy="546" r="36.95" fill="none" stroke="#000" stroke-width="1.24"/>
<circle cx="900" cy="546" r="39.38" fill="none" stroke="#000" stroke-width="1.12"/>
<circle cx="900" cy="546" r="41.53" fill="none" stroke="#000" stroke-width="0.95"/>
</g>
<line x1="871.3" y1="516.6" x2="928.6" y2="573.9" stroke="#000" stroke-width="2"/>
<path d="M786.2,946.2h4.56v4.56h-4.56zM795.32,946.2h4.56v4.56h-4.56zM804.44,946.2h4.56v4.56h-4.56zM813.56,946.2h4.56v4.56h-4.56zM822.68,946.2h4.56v4.56h-4.56zM790.76,950.76h4.56v4.56h-4.56zM799.88,950.76h4.56v4.56h-4.56zM809,950.76h4.56v4.56h-4.56zM818.12,950.76h4.56v4.56h-4.56zM827.24,950.76h4.56v4.56h-4.56zM786.2,955.32h4.56v4.56h-4.56zM795.32,955.32h4.56v4.56h-4.56zM804.44,955.32h4.56v4.56h-4.56zM813.56,955.32h4.56v4.56h-4.56zM822.68,955.32h4.56v4.56h-4.56zM790.76,959.88h4.56v4.56h-4.56zM799.88,959.88h4.56v4.56h-4.56zM809,959.88h4.56v4.56h-4.56zM818.12,959.88h4.56v4.56h-4.56zM827.24,959.88h4.56v4.56h-4.56zM786.2,964.44h4.56v4.56h-4.56zM795.32,964.44h4.56v4.56h-4.56zM804.44,964.44h4.56v4.56h-4.56zM813.56,964.44h4.56v4.56h-4.56zM822.68,964.44h4.56v4.56h-4.56zM790.76,969h4.56v4.56h-4.56zM799.88,969h4.56v4.56h-4.56zM809,969h4.56v4.56h-4.56zM818.12,969h4.56v4.56h-4.56zM827.24,969h4.56v4.56h-4.56zM786.2,973.56h4.56v4.56h-4.56zM795.32,973.56h4.56v4.56h-4.56zM804.44,973.56h4.56v4.56h-4.56zM813.56,973.56h4.56v4.56h-4.56zM822.68,973.56h4.56v4.56h-4.56zM790.76,978.12h4.56v4.56h-4.56zM799.88,978.12h4.56v4.56h-4.56zM809,978.12h4.56v4.56h-4.56zM818.12,978.12h4.56v4.56h-4.56zM827.24,978.12h4.56v4.56h-4.56zM786.2,982.68h4.56v4.56h-4.56zM795.32,982.68h4.56v4.56h-4.56zM804.44,982.68h4.56v4.56h-4.56zM813.56,982.68h4.56v4.56h-4.56zM822.68,982.68h4.56v4.56h-4.56zM790.76,987.24h4.56v4.56h-4.56zM799.88,987.24h4.56v4.56h-4.56zM809,987.24h4.56v4.56h-4.56zM818.12,987.24h4.56v4.56h-4.56zM827.24,987.24h4.56v4.56h-4.56zM831.8,946.2h9.12v9.12h-9.12zM850.04,946.2h9.12v9.12h-9.12zM868.28,946.2h9.12v9.12h-9.12zM840.92,955.32h9.12v9.12h-9.12zM859.16,955.32h9.12v9.12h-9.12zM831.8,964.44h9.12v9.12h-9.12zM850.04,964.44h9.12v9.12h-9.12zM868.28,964.44h9.12v9.12h-9.12zM840.92,973.56h9.12v9.12h-9.12zM859.16,973.56h9.12v9.12h-9.12zM831.8,982.68h9.12v9.12h-9.12zM850.04,982.68h9.12v9.12h-9.12zM868.28,982.68h9.12v9.12h-9.12z" fill="#000"/>
<rect x="877" y="946.2" width="9.4" height="45.6" fill="#000"/>
<rect x="895.3" y="946.2" width="9.2" height="45.6" fill="#000"/>
<rect x="913.7" y="946.2" width="9" height="45.6" fill="#000"/>
<polygon points="916,946.2 928.9,946.2 968.3,985.4 968.3,991.8 961.9,991.8" fill="#000"/>
<polygon points="922.2,965.5 948.3,991.8 936.3,991.8 922.2,977.9" fill="#000"/>
<polygon points="942.9,946.2 954.6,946.2 968.3,959.3 968.3,971.6" fill="#000"/>
<rect x="967.8" y="946.2" width="45.9" height="8.9" fill="#000"/>
<rect x="967.8" y="965.2" width="45.9" height="8.6" fill="#000"/>
<rect x="967.8" y="983.1" width="45.9" height="8.7" fill="#000"/>
<rect x="908.3" y="536.3" width="114.7" height="40.2" fill="#ff0000" class="mul"/>
<rect x="1206.3" y="262" width="114.7" height="40.2" fill="#ff0000" class="mul"/>
<rect x="1443.1" y="308.4" width="114.7" height="40.2" fill="#ff0000" class="mul"/>
<rect x="1466.7" y="93.3" width="114.7" height="40.2" fill="#ff0000" class="mul"/>
<rect x="211" y="88.95" width="1377.9" height="915.85" fill="none" stroke="#ff0000" stroke-width="6.2"/>
<rect x="470.97" y="261.87" width="859.05" height="569.93" fill="none" stroke="#0ab142" stroke-width="5.95"/>
<circle cx="1036" cy="509" r="27" fill="#ffc90e" filter="url(#sh)"/>
<path d="M1033.5,495.7L1039.1,495.7L1039.1,519L1044,519L1044,522.8L1028.1,522.8L1028.1,519L1033.5,519L1033.5,501.2L1028.7,503.3L1027.8,499.7Z" fill="#000"/>
<circle cx="1179.2" cy="315" r="27" fill="#ffc90e" filter="url(#sh)"/>
<text transform="translate(1179.5,329.3) scale(0.97,1)" font-size="38" text-anchor="middle" class="n">2</text>
<circle cx="1422" cy="367.8" r="27" fill="#ffc90e" filter="url(#sh)"/>
<text transform="translate(1422.3,382.1) scale(0.97,1)" font-size="38" text-anchor="middle" class="n">3</text>
<circle cx="1443.7" cy="150.7" r="27" fill="#ffc90e" filter="url(#sh)"/>
<text transform="translate(1444,165) scale(0.97,1)" font-size="38" text-anchor="middle" class="n">4</text>
<text x="773.3" y="1142.9" font-size="29.2" text-anchor="start" class="n" textLength="268.5" lengthAdjust="spacingAndGlyphs">ISO 12233 testkaart</text>
<text x="75" y="1176" font-size="22.4" text-anchor="start" class="c" textLength="35" lengthAdjust="spacingAndGlyphs" style="fill:#000">Het</text>
<text x="116.7" y="1176" font-size="22.4" text-anchor="start" class="c" textLength="108.3" lengthAdjust="spacingAndGlyphs" style="fill:#ff0000">rode kader</text>
<text x="232.3" y="1176" font-size="22.4" text-anchor="start" class="c" textLength="446.7" lengthAdjust="spacingAndGlyphs" style="fill:#000">is de uitsnede van een full-frame sensor, het</text>
<text x="685" y="1176" font-size="22.4" text-anchor="start" class="c" textLength="133.3" lengthAdjust="spacingAndGlyphs" style="fill:#0ab142">groene kader</text>
<text x="825" y="1176" font-size="22.4" text-anchor="start" class="c" textLength="254" lengthAdjust="spacingAndGlyphs" style="fill:#000">van een APS-C sensor. De</text>
<text x="1086" y="1176" font-size="22.4" text-anchor="start" class="c" textLength="119" lengthAdjust="spacingAndGlyphs" style="fill:#ff0000">rode vlakjes</text>
<text x="1212.7" y="1176" font-size="22.4" text-anchor="start" class="c" textLength="529" lengthAdjust="spacingAndGlyphs" style="fill:#000">zijn de uitsneden in het 100%-vergelijkingsoverzicht.</text>
</svg>
</body>
</html>
